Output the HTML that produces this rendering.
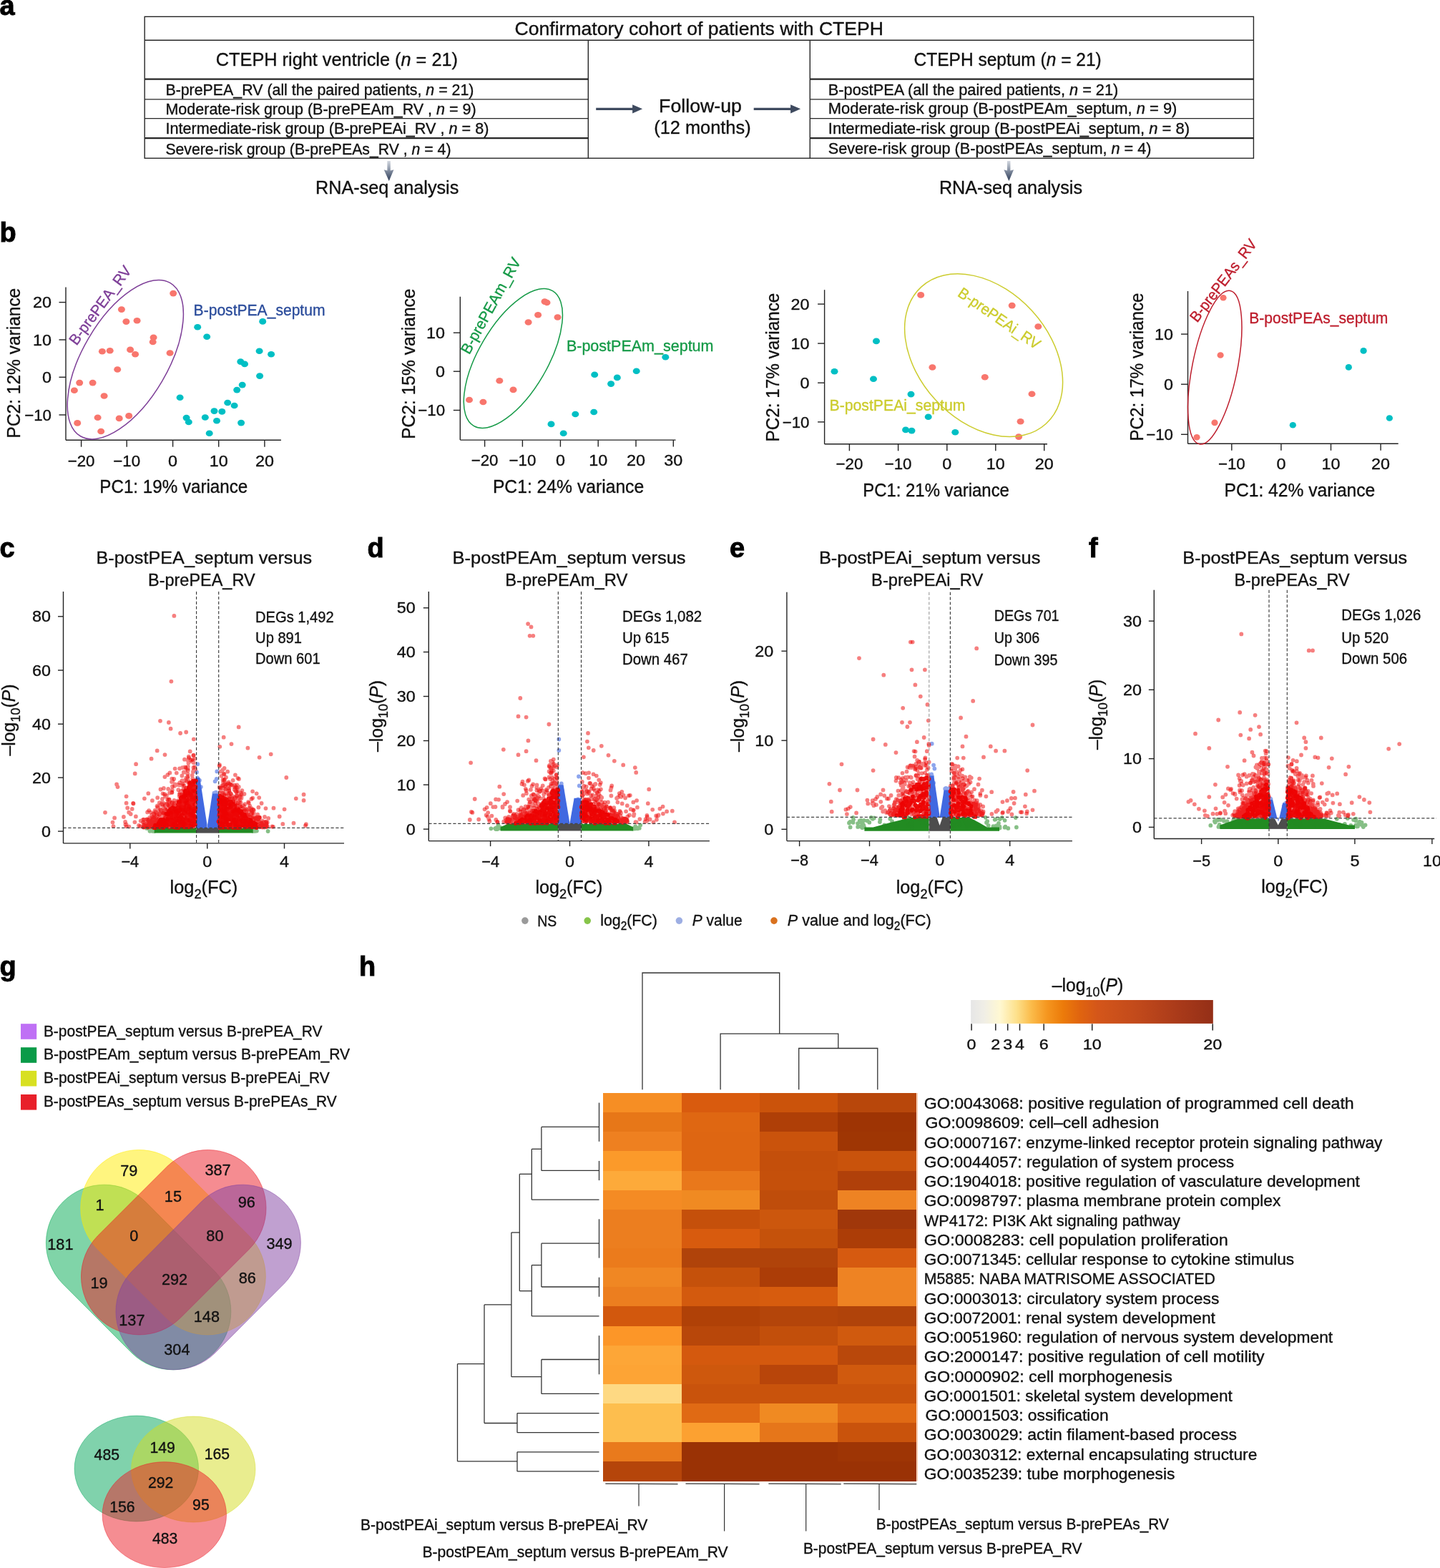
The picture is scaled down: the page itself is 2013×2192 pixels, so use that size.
<!DOCTYPE html><html><head><meta charset="utf-8"><title>Figure</title><style>html,body{margin:0;padding:0;background:#fff;}svg{display:block;}</style></head><body><svg width="2013" height="2192" viewBox="0 0 2013 2192" font-family="'Liberation Sans', Arial, sans-serif" fill="#111"><defs>
<linearGradient id="gd" x1="0" y1="0" x2="0" y2="1"><stop offset="0" stop-color="#d3d8e0"/><stop offset="0.5" stop-color="#7f8a9d"/><stop offset="1" stop-color="#2c3b56"/></linearGradient>
<linearGradient id="gh" x1="0" y1="0" x2="1" y2="0">
<stop offset="0" stop-color="#E6E6E6"/><stop offset="0.055" stop-color="#F0EEE6"/><stop offset="0.12" stop-color="#FFF8D2"/>
<stop offset="0.19" stop-color="#FDE08A"/><stop offset="0.25" stop-color="#FBBB4A"/><stop offset="0.315" stop-color="#F5961F"/>
<stop offset="0.38" stop-color="#EC7B0A"/><stop offset="0.45" stop-color="#E0640F"/><stop offset="0.525" stop-color="#D4561A"/>
<stop offset="0.685" stop-color="#C24A1B"/><stop offset="0.845" stop-color="#AB3B1A"/><stop offset="1" stop-color="#942F17"/>
</linearGradient>
</defs><text x="-0.5" y="21.0" font-size="38.00" fill="#000" font-weight="bold" stroke="#000" stroke-width="0.9">a</text>
<rect x="202.2" y="23.3" width="1550.2" height="197.9" fill="none" stroke="#262626" stroke-width="1.4"/>
<line x1="202.2" y1="56.3" x2="1752.4" y2="56.3" stroke="#262626" stroke-width="1.4"/>
<line x1="822.3" y1="56.3" x2="822.3" y2="221.2" stroke="#262626" stroke-width="1.4"/>
<line x1="1132.3" y1="56.3" x2="1132.3" y2="221.2" stroke="#262626" stroke-width="1.4"/>
<line x1="202.2" y1="110.6" x2="822.3" y2="110.6" stroke="#262626" stroke-width="2.2"/>
<line x1="1132.3" y1="110.6" x2="1752.4" y2="110.6" stroke="#262626" stroke-width="2.2"/>
<line x1="202.2" y1="138.9" x2="822.3" y2="138.9" stroke="#262626" stroke-width="1.3"/>
<line x1="1132.3" y1="138.9" x2="1752.4" y2="138.9" stroke="#262626" stroke-width="1.3"/>
<line x1="202.2" y1="165.6" x2="822.3" y2="165.6" stroke="#262626" stroke-width="1.3"/>
<line x1="1132.3" y1="165.6" x2="1752.4" y2="165.6" stroke="#262626" stroke-width="1.3"/>
<line x1="202.2" y1="193.1" x2="822.3" y2="193.1" stroke="#262626" stroke-width="2.2"/>
<line x1="1132.3" y1="193.1" x2="1752.4" y2="193.1" stroke="#262626" stroke-width="2.2"/>
<text x="719.5" y="48.5" font-size="25.60" stroke="#111" stroke-width="0.35" textLength="515.5" lengthAdjust="spacingAndGlyphs">Confirmatory cohort of patients with CTEPH</text>
<text x="301.8" y="92.0" font-size="25.60" stroke="#111" stroke-width="0.35" textLength="338.2" lengthAdjust="spacingAndGlyphs">CTEPH right ventricle (<tspan font-style="italic">n</tspan> = 21)</text>
<text x="1277.6" y="91.8" font-size="25.60" stroke="#111" stroke-width="0.35" textLength="262.1" lengthAdjust="spacingAndGlyphs">CTEPH septum (<tspan font-style="italic">n</tspan> = 21)</text>
<text x="231.4" y="132.6" font-size="21.70" stroke="#111" stroke-width="0.35" textLength="431.0" lengthAdjust="spacingAndGlyphs">B-prePEA_RV (all the paired patients, <tspan font-style="italic">n</tspan> = 21)</text>
<text x="231.4" y="159.6" font-size="21.70" stroke="#111" stroke-width="0.35" textLength="434.3" lengthAdjust="spacingAndGlyphs">Moderate-risk group (B-prePEAm_RV , <tspan font-style="italic">n</tspan> = 9)</text>
<text x="231.4" y="186.7" font-size="21.70" stroke="#111" stroke-width="0.35" textLength="452.0" lengthAdjust="spacingAndGlyphs">Intermediate-risk group (B-prePEAi_RV , <tspan font-style="italic">n</tspan> = 8)</text>
<text x="231.4" y="215.6" font-size="21.70" stroke="#111" stroke-width="0.35" textLength="399.1" lengthAdjust="spacingAndGlyphs">Severe-risk group (B-prePEAs_RV , <tspan font-style="italic">n</tspan> = 4)</text>
<text x="1157.8" y="132.6" font-size="21.70" stroke="#111" stroke-width="0.35" textLength="405.5" lengthAdjust="spacingAndGlyphs">B-postPEA (all the paired patients, <tspan font-style="italic">n</tspan> = 21)</text>
<text x="1157.8" y="159.4" font-size="21.70" stroke="#111" stroke-width="0.35" textLength="487.6" lengthAdjust="spacingAndGlyphs">Moderate-risk group (B-postPEAm_septum, <tspan font-style="italic">n</tspan> = 9)</text>
<text x="1157.8" y="187.0" font-size="21.70" stroke="#111" stroke-width="0.35" textLength="505.2" lengthAdjust="spacingAndGlyphs">Intermediate-risk group (B-postPEAi_septum, <tspan font-style="italic">n</tspan> = 8)</text>
<text x="1157.8" y="215.4" font-size="21.70" stroke="#111" stroke-width="0.35" textLength="451.6" lengthAdjust="spacingAndGlyphs">Severe-risk group (B-postPEAs_septum, <tspan font-style="italic">n</tspan> = 4)</text>
<text x="921.1" y="157.3" font-size="25.60" stroke="#111" stroke-width="0.35" textLength="115.8" lengthAdjust="spacingAndGlyphs">Follow-up</text>
<text x="914.3" y="186.9" font-size="25.60" stroke="#111" stroke-width="0.35" textLength="135.3" lengthAdjust="spacingAndGlyphs">(12 months)</text>
<path d="M833.2 150.7 H884.1 V146.2 L898.1 152.3 L884.1 158.4 V153.9 H833.2 Z" fill="#3e4a5f"/>
<path d="M1053.7 150.7 H1105.1 V146.2 L1119.1 152.3 L1105.1 158.4 V153.9 H1053.7 Z" fill="#3e4a5f"/>
<path d="M541.4 225 H545.8000000000001 V238.5 L550.5 237.3 L543.8000000000001 253 L536.7 237.3 L541.4 238.5 Z" fill="url(#gd)"/>
<path d="M1408.0 225 H1412.4 V238.5 L1417.1000000000001 237.3 L1410.4 253 L1403.3 237.3 L1408.0 238.5 Z" fill="url(#gd)"/>
<text x="441.1" y="270.8" font-size="25.60" stroke="#111" stroke-width="0.35" textLength="200.2" lengthAdjust="spacingAndGlyphs">RNA-seq analysis</text>
<text x="1312.9" y="270.5" font-size="25.60" stroke="#111" stroke-width="0.35" textLength="200.1" lengthAdjust="spacingAndGlyphs">RNA-seq analysis</text>
<text x="-0.5" y="337.5" font-size="38.00" fill="#000" font-weight="bold" stroke="#000" stroke-width="0.9">b</text>
<line x1="92.0" y1="401.5" x2="92.0" y2="615.2" stroke="#222" stroke-width="1.4"/>
<line x1="92.0" y1="615.2" x2="392.9" y2="615.2" stroke="#222" stroke-width="1.4"/>
<line x1="82.5" y1="422.6" x2="92.0" y2="422.6" stroke="#222" stroke-width="1.4"/>
<text x="72.0" y="430.2" font-size="22.00" text-anchor="end" stroke="#111" stroke-width="0.35" textLength="26.0" lengthAdjust="spacingAndGlyphs">20</text>
<line x1="82.5" y1="475.0" x2="92.0" y2="475.0" stroke="#222" stroke-width="1.4"/>
<text x="72.0" y="482.6" font-size="22.00" text-anchor="end" stroke="#111" stroke-width="0.35" textLength="26.0" lengthAdjust="spacingAndGlyphs">10</text>
<line x1="82.5" y1="527.3" x2="92.0" y2="527.3" stroke="#222" stroke-width="1.4"/>
<text x="72.0" y="534.9" font-size="22.00" text-anchor="end" stroke="#111" stroke-width="0.35" textLength="13.0" lengthAdjust="spacingAndGlyphs">0</text>
<line x1="82.5" y1="580.0" x2="92.0" y2="580.0" stroke="#222" stroke-width="1.4"/>
<text x="72.0" y="587.6" font-size="22.00" text-anchor="end" stroke="#111" stroke-width="0.35" textLength="37.8" lengthAdjust="spacingAndGlyphs">−10</text>
<line x1="113.6" y1="615.2" x2="113.6" y2="624.7" stroke="#222" stroke-width="1.4"/>
<text x="113.6" y="651.7" font-size="22.00" text-anchor="middle" stroke="#111" stroke-width="0.35" textLength="37.8" lengthAdjust="spacingAndGlyphs">−20</text>
<line x1="177.2" y1="615.2" x2="177.2" y2="624.7" stroke="#222" stroke-width="1.4"/>
<text x="177.2" y="651.7" font-size="22.00" text-anchor="middle" stroke="#111" stroke-width="0.35" textLength="37.8" lengthAdjust="spacingAndGlyphs">−10</text>
<line x1="241.6" y1="615.2" x2="241.6" y2="624.7" stroke="#222" stroke-width="1.4"/>
<text x="241.6" y="651.7" font-size="22.00" text-anchor="middle" stroke="#111" stroke-width="0.35" textLength="13.0" lengthAdjust="spacingAndGlyphs">0</text>
<line x1="305.7" y1="615.2" x2="305.7" y2="624.7" stroke="#222" stroke-width="1.4"/>
<text x="305.7" y="651.7" font-size="22.00" text-anchor="middle" stroke="#111" stroke-width="0.35" textLength="26.0" lengthAdjust="spacingAndGlyphs">10</text>
<line x1="369.9" y1="615.2" x2="369.9" y2="624.7" stroke="#222" stroke-width="1.4"/>
<text x="369.9" y="651.7" font-size="22.00" text-anchor="middle" stroke="#111" stroke-width="0.35" textLength="26.0" lengthAdjust="spacingAndGlyphs">20</text>
<text x="28.4" y="507.6" font-size="25.50" text-anchor="middle" stroke="#111" stroke-width="0.35" transform="rotate(-90.00 28.4 507.6)" textLength="209.7" lengthAdjust="spacingAndGlyphs">PC2: 12% variance</text>
<text x="139.3" y="688.9" font-size="25.50" stroke="#111" stroke-width="0.35" textLength="207.0" lengthAdjust="spacingAndGlyphs">PC1: 19% variance</text>
<g fill="#F8766D"><ellipse cx="242.2" cy="410.1" rx="5.0" ry="4.3"/><ellipse cx="169.9" cy="432.6" rx="5.0" ry="4.3"/><ellipse cx="176.4" cy="449.6" rx="5.0" ry="4.3"/><ellipse cx="191.6" cy="448.3" rx="5.0" ry="4.3"/><ellipse cx="214.6" cy="471.8" rx="5.0" ry="4.3"/><ellipse cx="213.7" cy="478.0" rx="5.0" ry="4.3"/><ellipse cx="142.9" cy="491.3" rx="5.0" ry="4.3"/><ellipse cx="153.7" cy="490.2" rx="5.0" ry="4.3"/><ellipse cx="182.1" cy="488.9" rx="5.0" ry="4.3"/><ellipse cx="189.1" cy="495.3" rx="5.0" ry="4.3"/><ellipse cx="237.6" cy="493.5" rx="5.0" ry="4.3"/><ellipse cx="164.2" cy="516.5" rx="5.0" ry="4.3"/><ellipse cx="111.2" cy="535.1" rx="5.0" ry="4.3"/><ellipse cx="129.6" cy="535.1" rx="5.0" ry="4.3"/><ellipse cx="103.9" cy="545.7" rx="5.0" ry="4.3"/><ellipse cx="145.6" cy="553.5" rx="5.0" ry="4.3"/><ellipse cx="136.6" cy="583.8" rx="5.0" ry="4.3"/><ellipse cx="166.7" cy="584.9" rx="5.0" ry="4.3"/><ellipse cx="180.2" cy="581.4" rx="5.0" ry="4.3"/><ellipse cx="108.2" cy="591.4" rx="5.0" ry="4.3"/><ellipse cx="141.2" cy="603.0" rx="5.0" ry="4.3"/></g>
<g fill="#00BFC4"><ellipse cx="367.2" cy="449.4" rx="5.0" ry="4.3"/><ellipse cx="276.2" cy="457.2" rx="5.0" ry="4.3"/><ellipse cx="289.2" cy="470.7" rx="5.0" ry="4.3"/><ellipse cx="362.6" cy="490.7" rx="5.0" ry="4.3"/><ellipse cx="379.1" cy="495.3" rx="5.0" ry="4.3"/><ellipse cx="336.3" cy="505.6" rx="5.0" ry="4.3"/><ellipse cx="342.0" cy="508.9" rx="5.0" ry="4.3"/><ellipse cx="363.1" cy="525.6" rx="5.0" ry="4.3"/><ellipse cx="338.7" cy="538.1" rx="5.0" ry="4.3"/><ellipse cx="331.2" cy="545.1" rx="5.0" ry="4.3"/><ellipse cx="251.6" cy="555.7" rx="5.0" ry="4.3"/><ellipse cx="318.2" cy="563.0" rx="5.0" ry="4.3"/><ellipse cx="327.6" cy="567.0" rx="5.0" ry="4.3"/><ellipse cx="299.5" cy="574.6" rx="5.0" ry="4.3"/><ellipse cx="310.3" cy="575.4" rx="5.0" ry="4.3"/><ellipse cx="260.6" cy="584.1" rx="5.0" ry="4.3"/><ellipse cx="263.8" cy="590.0" rx="5.0" ry="4.3"/><ellipse cx="286.8" cy="583.5" rx="5.0" ry="4.3"/><ellipse cx="303.0" cy="588.2" rx="5.0" ry="4.3"/><ellipse cx="337.1" cy="591.1" rx="5.0" ry="4.3"/><ellipse cx="292.7" cy="605.7" rx="5.0" ry="4.3"/></g>
<ellipse cx="175.3" cy="502.7" rx="124.1" ry="59.5" transform="rotate(-59.6 175.3 502.7)" fill="none" stroke="#7E3F98" stroke-width="1.5"/>
<text x="106.9" y="483.8" font-size="21.30" fill="#7E3F98" stroke="#7E3F98" stroke-width="0.35" textLength="131.0" lengthAdjust="spacingAndGlyphs" transform="rotate(-53.60 106.9 483.8)">B-prePEA_RV</text>
<text x="270.6" y="440.7" font-size="21.30" fill="#2B4C9B" stroke="#2B4C9B" stroke-width="0.35" textLength="183.9" lengthAdjust="spacingAndGlyphs">B-postPEA_septum</text>
<line x1="643.3" y1="414.7" x2="643.3" y2="615.1" stroke="#222" stroke-width="1.4"/>
<line x1="643.3" y1="615.1" x2="944.5" y2="615.1" stroke="#222" stroke-width="1.4"/>
<line x1="633.8" y1="465.2" x2="643.3" y2="465.2" stroke="#222" stroke-width="1.4"/>
<text x="622.1" y="472.8" font-size="22.00" text-anchor="end" stroke="#111" stroke-width="0.35" textLength="26.0" lengthAdjust="spacingAndGlyphs">10</text>
<line x1="633.8" y1="519.2" x2="643.3" y2="519.2" stroke="#222" stroke-width="1.4"/>
<text x="622.1" y="526.8" font-size="22.00" text-anchor="end" stroke="#111" stroke-width="0.35" textLength="13.0" lengthAdjust="spacingAndGlyphs">0</text>
<line x1="633.8" y1="573.5" x2="643.3" y2="573.5" stroke="#222" stroke-width="1.4"/>
<text x="622.1" y="581.1" font-size="22.00" text-anchor="end" stroke="#111" stroke-width="0.35" textLength="37.8" lengthAdjust="spacingAndGlyphs">−10</text>
<line x1="677.6" y1="615.1" x2="677.6" y2="624.6" stroke="#222" stroke-width="1.4"/>
<text x="677.6" y="651.1" font-size="22.00" text-anchor="middle" stroke="#111" stroke-width="0.35" textLength="37.8" lengthAdjust="spacingAndGlyphs">−20</text>
<line x1="730.4" y1="615.1" x2="730.4" y2="624.6" stroke="#222" stroke-width="1.4"/>
<text x="730.4" y="651.1" font-size="22.00" text-anchor="middle" stroke="#111" stroke-width="0.35" textLength="37.8" lengthAdjust="spacingAndGlyphs">−10</text>
<line x1="783.4" y1="615.1" x2="783.4" y2="624.6" stroke="#222" stroke-width="1.4"/>
<text x="783.4" y="651.1" font-size="22.00" text-anchor="middle" stroke="#111" stroke-width="0.35" textLength="13.0" lengthAdjust="spacingAndGlyphs">0</text>
<line x1="836.2" y1="615.1" x2="836.2" y2="624.6" stroke="#222" stroke-width="1.4"/>
<text x="836.2" y="651.1" font-size="22.00" text-anchor="middle" stroke="#111" stroke-width="0.35" textLength="26.0" lengthAdjust="spacingAndGlyphs">10</text>
<line x1="889.0" y1="615.1" x2="889.0" y2="624.6" stroke="#222" stroke-width="1.4"/>
<text x="889.0" y="651.1" font-size="22.00" text-anchor="middle" stroke="#111" stroke-width="0.35" textLength="26.0" lengthAdjust="spacingAndGlyphs">20</text>
<line x1="941.3" y1="615.1" x2="941.3" y2="624.6" stroke="#222" stroke-width="1.4"/>
<text x="941.3" y="651.1" font-size="22.00" text-anchor="middle" stroke="#111" stroke-width="0.35" textLength="26.0" lengthAdjust="spacingAndGlyphs">30</text>
<text x="579.6" y="508.6" font-size="25.50" text-anchor="middle" stroke="#111" stroke-width="0.35" transform="rotate(-90.00 579.6 508.6)" textLength="210.3" lengthAdjust="spacingAndGlyphs">PC2: 15% variance</text>
<text x="688.9" y="688.6" font-size="25.50" stroke="#111" stroke-width="0.35" textLength="211.3" lengthAdjust="spacingAndGlyphs">PC1: 24% variance</text>
<g fill="#F8766D"><ellipse cx="761.5" cy="421.6" rx="5.0" ry="4.3"/><ellipse cx="764.5" cy="423.0" rx="5.0" ry="4.3"/><ellipse cx="752.1" cy="440.3" rx="5.0" ry="4.3"/><ellipse cx="779.5" cy="443.5" rx="5.0" ry="4.3"/><ellipse cx="738.6" cy="450.5" rx="5.0" ry="4.3"/><ellipse cx="698.3" cy="532.2" rx="5.0" ry="4.3"/><ellipse cx="717.5" cy="544.9" rx="5.0" ry="4.3"/><ellipse cx="656.0" cy="559.0" rx="5.0" ry="4.3"/><ellipse cx="675.4" cy="562.0" rx="5.0" ry="4.3"/></g>
<g fill="#00BFC4"><ellipse cx="930.3" cy="499.3" rx="5.0" ry="4.3"/><ellipse cx="889.7" cy="518.7" rx="5.0" ry="4.3"/><ellipse cx="831.2" cy="523.7" rx="5.0" ry="4.3"/><ellipse cx="862.8" cy="527.9" rx="5.0" ry="4.3"/><ellipse cx="854.1" cy="536.6" rx="5.0" ry="4.3"/><ellipse cx="830.2" cy="576.0" rx="5.0" ry="4.3"/><ellipse cx="804.3" cy="579.0" rx="5.0" ry="4.3"/><ellipse cx="770.5" cy="592.9" rx="5.0" ry="4.3"/><ellipse cx="787.7" cy="605.8" rx="5.0" ry="4.3"/></g>
<ellipse cx="717.35" cy="500.95" rx="109.3" ry="48.2" transform="rotate(-59.7 717.35 500.95)" fill="none" stroke="#159A47" stroke-width="1.5"/>
<text x="656.0" y="496.5" font-size="21.30" fill="#159A47" stroke="#159A47" stroke-width="0.35" textLength="150.0" lengthAdjust="spacingAndGlyphs" transform="rotate(-61.00 656.0 496.5)">B-prePEAm_RV</text>
<text x="791.9" y="491.1" font-size="21.30" fill="#159A47" stroke="#159A47" stroke-width="0.35" textLength="205.6" lengthAdjust="spacingAndGlyphs">B-postPEAm_septum</text>
<line x1="1152.6" y1="405.2" x2="1152.6" y2="620.8" stroke="#222" stroke-width="1.4"/>
<line x1="1152.6" y1="620.8" x2="1464.0" y2="620.8" stroke="#222" stroke-width="1.4"/>
<line x1="1143.1" y1="425.1" x2="1152.6" y2="425.1" stroke="#222" stroke-width="1.4"/>
<text x="1131.5" y="432.7" font-size="22.00" text-anchor="end" stroke="#111" stroke-width="0.35" textLength="26.0" lengthAdjust="spacingAndGlyphs">20</text>
<line x1="1143.1" y1="480.1" x2="1152.6" y2="480.1" stroke="#222" stroke-width="1.4"/>
<text x="1131.5" y="487.7" font-size="22.00" text-anchor="end" stroke="#111" stroke-width="0.35" textLength="26.0" lengthAdjust="spacingAndGlyphs">10</text>
<line x1="1143.1" y1="535.2" x2="1152.6" y2="535.2" stroke="#222" stroke-width="1.4"/>
<text x="1131.5" y="542.8" font-size="22.00" text-anchor="end" stroke="#111" stroke-width="0.35" textLength="13.0" lengthAdjust="spacingAndGlyphs">0</text>
<line x1="1143.1" y1="589.9" x2="1152.6" y2="589.9" stroke="#222" stroke-width="1.4"/>
<text x="1131.5" y="597.5" font-size="22.00" text-anchor="end" stroke="#111" stroke-width="0.35" textLength="37.8" lengthAdjust="spacingAndGlyphs">−10</text>
<line x1="1187.4" y1="620.8" x2="1187.4" y2="630.3" stroke="#222" stroke-width="1.4"/>
<text x="1187.4" y="656.1" font-size="22.00" text-anchor="middle" stroke="#111" stroke-width="0.35" textLength="37.8" lengthAdjust="spacingAndGlyphs">−20</text>
<line x1="1255.6" y1="620.8" x2="1255.6" y2="630.3" stroke="#222" stroke-width="1.4"/>
<text x="1255.6" y="656.1" font-size="22.00" text-anchor="middle" stroke="#111" stroke-width="0.35" textLength="37.8" lengthAdjust="spacingAndGlyphs">−10</text>
<line x1="1323.8" y1="620.8" x2="1323.8" y2="630.3" stroke="#222" stroke-width="1.4"/>
<text x="1323.8" y="656.1" font-size="22.00" text-anchor="middle" stroke="#111" stroke-width="0.35" textLength="13.0" lengthAdjust="spacingAndGlyphs">0</text>
<line x1="1391.8" y1="620.8" x2="1391.8" y2="630.3" stroke="#222" stroke-width="1.4"/>
<text x="1391.8" y="656.1" font-size="22.00" text-anchor="middle" stroke="#111" stroke-width="0.35" textLength="26.0" lengthAdjust="spacingAndGlyphs">10</text>
<line x1="1459.7" y1="620.8" x2="1459.7" y2="630.3" stroke="#222" stroke-width="1.4"/>
<text x="1459.7" y="656.1" font-size="22.00" text-anchor="middle" stroke="#111" stroke-width="0.35" textLength="26.0" lengthAdjust="spacingAndGlyphs">20</text>
<text x="1088.6" y="513.6" font-size="25.50" text-anchor="middle" stroke="#111" stroke-width="0.35" transform="rotate(-90.00 1088.6 513.6)" textLength="207.8" lengthAdjust="spacingAndGlyphs">PC2: 17% variance</text>
<text x="1206.3" y="694.1" font-size="25.50" stroke="#111" stroke-width="0.35" textLength="204.6" lengthAdjust="spacingAndGlyphs">PC1: 21% variance</text>
<g fill="#F8766D"><ellipse cx="1287.2" cy="412.4" rx="5.0" ry="4.3"/><ellipse cx="1414.7" cy="427.1" rx="5.0" ry="4.3"/><ellipse cx="1451.3" cy="456.5" rx="5.0" ry="4.3"/><ellipse cx="1303.4" cy="513.5" rx="5.0" ry="4.3"/><ellipse cx="1376.8" cy="527.2" rx="5.0" ry="4.3"/><ellipse cx="1442.5" cy="550.8" rx="5.0" ry="4.3"/><ellipse cx="1426.6" cy="589.2" rx="5.0" ry="4.3"/><ellipse cx="1424.1" cy="610.6" rx="5.0" ry="4.3"/></g>
<g fill="#00BFC4"><ellipse cx="1225.0" cy="476.9" rx="5.0" ry="4.3"/><ellipse cx="1166.5" cy="519.2" rx="5.0" ry="4.3"/><ellipse cx="1221.0" cy="529.7" rx="5.0" ry="4.3"/><ellipse cx="1273.5" cy="551.1" rx="5.0" ry="4.3"/><ellipse cx="1297.7" cy="582.7" rx="5.0" ry="4.3"/><ellipse cx="1266.1" cy="600.9" rx="5.0" ry="4.3"/><ellipse cx="1274.5" cy="602.1" rx="5.0" ry="4.3"/><ellipse cx="1335.3" cy="604.3" rx="5.0" ry="4.3"/></g>
<ellipse cx="1375.1" cy="496.7" rx="129.4" ry="91.8" transform="rotate(47.6 1375.1 496.7)" fill="none" stroke="#CCCC2E" stroke-width="1.5"/>
<text x="1337.5" y="413.1" font-size="21.30" fill="#CCCC2E" stroke="#CCCC2E" stroke-width="0.35" textLength="134.4" lengthAdjust="spacingAndGlyphs" transform="rotate(34.50 1337.5 413.1)">B-prePEAi_RV</text>
<text x="1159.5" y="574.0" font-size="21.30" fill="#CCCC2E" stroke="#CCCC2E" stroke-width="0.35" textLength="189.9" lengthAdjust="spacingAndGlyphs">B-postPEAi_septum</text>
<line x1="1660.5" y1="407.0" x2="1660.5" y2="620.3" stroke="#222" stroke-width="1.4"/>
<line x1="1660.5" y1="620.3" x2="1954.7" y2="620.3" stroke="#222" stroke-width="1.4"/>
<line x1="1651.0" y1="467.1" x2="1660.5" y2="467.1" stroke="#222" stroke-width="1.4"/>
<text x="1640.0" y="474.7" font-size="22.00" text-anchor="end" stroke="#111" stroke-width="0.35" textLength="26.0" lengthAdjust="spacingAndGlyphs">10</text>
<line x1="1651.0" y1="537.2" x2="1660.5" y2="537.2" stroke="#222" stroke-width="1.4"/>
<text x="1640.0" y="544.8" font-size="22.00" text-anchor="end" stroke="#111" stroke-width="0.35" textLength="13.0" lengthAdjust="spacingAndGlyphs">0</text>
<line x1="1651.0" y1="607.3" x2="1660.5" y2="607.3" stroke="#222" stroke-width="1.4"/>
<text x="1640.0" y="614.9" font-size="22.00" text-anchor="end" stroke="#111" stroke-width="0.35" textLength="37.8" lengthAdjust="spacingAndGlyphs">−10</text>
<line x1="1721.8" y1="620.3" x2="1721.8" y2="629.8" stroke="#222" stroke-width="1.4"/>
<text x="1721.8" y="656.3" font-size="22.00" text-anchor="middle" stroke="#111" stroke-width="0.35" textLength="37.8" lengthAdjust="spacingAndGlyphs">−10</text>
<line x1="1790.9" y1="620.3" x2="1790.9" y2="629.8" stroke="#222" stroke-width="1.4"/>
<text x="1790.9" y="656.3" font-size="22.00" text-anchor="middle" stroke="#111" stroke-width="0.35" textLength="13.0" lengthAdjust="spacingAndGlyphs">0</text>
<line x1="1860.5" y1="620.3" x2="1860.5" y2="629.8" stroke="#222" stroke-width="1.4"/>
<text x="1860.5" y="656.3" font-size="22.00" text-anchor="middle" stroke="#111" stroke-width="0.35" textLength="26.0" lengthAdjust="spacingAndGlyphs">10</text>
<line x1="1930.1" y1="620.3" x2="1930.1" y2="629.8" stroke="#222" stroke-width="1.4"/>
<text x="1930.1" y="656.3" font-size="22.00" text-anchor="middle" stroke="#111" stroke-width="0.35" textLength="26.0" lengthAdjust="spacingAndGlyphs">20</text>
<text x="1598.0" y="513.0" font-size="25.50" text-anchor="middle" stroke="#111" stroke-width="0.35" transform="rotate(-90.00 1598.0 513.0)" textLength="207.1" lengthAdjust="spacingAndGlyphs">PC2: 17% variance</text>
<text x="1711.5" y="694.4" font-size="25.50" stroke="#111" stroke-width="0.35" textLength="210.8" lengthAdjust="spacingAndGlyphs">PC1: 42% variance</text>
<g fill="#F8766D"><ellipse cx="1710.0" cy="416.3" rx="4.6" ry="4.3"/><ellipse cx="1706.1" cy="496.5" rx="4.6" ry="4.3"/><ellipse cx="1698.0" cy="590.9" rx="4.6" ry="4.3"/><ellipse cx="1673.0" cy="611.2" rx="4.6" ry="4.3"/></g>
<g fill="#00BFC4"><ellipse cx="1906.1" cy="490.4" rx="4.6" ry="4.3"/><ellipse cx="1885.3" cy="513.4" rx="4.6" ry="4.3"/><ellipse cx="1807.3" cy="594.3" rx="4.6" ry="4.3"/><ellipse cx="1942.4" cy="584.5" rx="4.6" ry="4.3"/></g>
<ellipse cx="1698.25" cy="513.65" rx="109.3" ry="31.5" transform="rotate(-78.6 1698.25 513.65)" fill="none" stroke="#BE1E2D" stroke-width="1.5"/>
<text x="1673.4" y="451.8" font-size="21.30" fill="#BE1E2D" stroke="#BE1E2D" stroke-width="0.35" textLength="139.3" lengthAdjust="spacingAndGlyphs" transform="rotate(-52.60 1673.4 451.8)">B-prePEAs_RV</text>
<text x="1746.3" y="452.4" font-size="21.30" fill="#BE1E2D" stroke="#BE1E2D" stroke-width="0.35" textLength="194.1" lengthAdjust="spacingAndGlyphs">B-postPEAs_septum</text>
<text x="-0.5" y="779.0" font-size="38.00" fill="#000" font-weight="bold" stroke="#000" stroke-width="0.9">c</text>
<text x="513.5" y="779.0" font-size="38.00" fill="#000" font-weight="bold" stroke="#000" stroke-width="0.9">d</text>
<text x="1020.0" y="779.0" font-size="38.00" fill="#000" font-weight="bold" stroke="#000" stroke-width="0.9">e</text>
<text x="1522.0" y="779.0" font-size="38.00" fill="#000" font-weight="bold" stroke="#000" stroke-width="0.9">f</text>
<text x="134.5" y="788.2" font-size="24.80" stroke="#111" stroke-width="0.35" textLength="301.6" lengthAdjust="spacingAndGlyphs">B-postPEA_septum versus</text>
<text x="207.0" y="819.0" font-size="24.80" stroke="#111" stroke-width="0.35" textLength="149.6" lengthAdjust="spacingAndGlyphs">B-prePEA_RV</text>
<path d="M274.6 1157.9 L305.7 1157.9 L305.7 1164.6 L274.6 1164.6Z" fill="#4D4D4D"/>
<path d="M215.7 1164.6 L215.7 1159.2 L215.7 1157.9 L274.6 1157.9 L274.6 1164.6Z" fill="#228B22"/>
<path d="M305.7 1164.6 L305.7 1157.9 L353.7 1157.9 L353.7 1159.2 L353.7 1164.6Z" fill="#228B22"/>
<path d="M213.7 1161.9h0M357.9 1161.0h0M215.4 1162.0h0M214.4 1161.0h0M205.2 1157.9h0M356.9 1161.8h0M356.3 1160.9h0M209.4 1161.8h0M354.2 1161.9h0M209.7 1161.8h0M358.9 1161.6h0M212.6 1161.0h0M357.5 1161.1h0M374.6 1162.0h0" stroke="#228B22" stroke-opacity="0.55" stroke-width="5.8" stroke-linecap="round" fill="none"/>
<path d="M274.6 1157.9 L274.6 1087.0 L279.3 1087.0 L289.5 1153.1 L289.5 1157.9Z" fill="#4169E1"/>
<path d="M305.7 1157.9 L305.7 1109.5 L296.8 1109.5 L290.1 1153.1 L290.1 1157.9Z" fill="#4169E1"/>
<path d="M276.3 1068.2h0M275.0 1079.5h0M303.3 1078.4h0M302.7 1088.9h0M279.0 1090.8h0M300.6 1092.3h0M280.9 1100.1h0M301.9 1107.7h0M276.7 1117.0h0M276.9 1104.5h0M275.4 1089.9h0M274.9 1104.4h0M274.8 1090.7h0M277.5 1111.2h0M276.6 1098.8h0M276.8 1118.7h0M275.4 1094.7h0M274.9 1091.4h0M276.0 1087.5h0M275.1 1112.7h0M276.5 1093.5h0M275.5 1103.7h0M303.6 1120.7h0M302.2 1130.1h0M303.0 1132.0h0M302.7 1130.5h0M304.6 1129.2h0M304.3 1116.3h0M301.2 1132.2h0M301.4 1131.9h0M304.7 1113.3h0M299.4 1108.6h0M299.8 1132.2h0M300.0 1130.8h0M303.0 1115.1h0M301.1 1132.2h0" stroke="#4169E1" stroke-opacity="0.6" stroke-width="5.8" stroke-linecap="round" fill="none"/>
<path d="M239.1 1136.5h0M243.8 1130.5h0M265.0 1117.6h0M263.1 1145.6h0M215.4 1157.2h0M227.6 1156.5h0M264.5 1146.5h0M262.9 1109.2h0M236.1 1133.7h0M231.1 1149.8h0M268.1 1094.9h0M254.6 1147.2h0M264.4 1126.9h0M234.7 1138.7h0M222.9 1151.1h0M248.7 1128.4h0M269.3 1094.2h0M239.6 1140.0h0M238.3 1147.4h0M242.6 1133.5h0M261.7 1118.4h0M232.8 1155.0h0M241.1 1136.1h0M245.8 1146.1h0M219.8 1154.8h0M270.3 1113.6h0M246.5 1137.9h0M256.9 1133.1h0M253.4 1149.5h0M240.5 1146.0h0M269.6 1104.8h0M268.8 1104.5h0M240.4 1149.4h0M257.4 1113.0h0M271.3 1134.9h0M249.0 1124.8h0M222.1 1152.7h0M255.5 1120.7h0M229.9 1148.2h0M238.3 1131.4h0M248.5 1133.2h0M269.8 1150.8h0M240.5 1130.0h0M252.3 1145.9h0M273.4 1099.7h0M226.6 1154.0h0M235.9 1151.1h0M236.9 1138.2h0M270.9 1120.9h0M252.2 1142.0h0M239.6 1131.3h0M264.0 1125.5h0M236.5 1141.2h0M257.9 1125.3h0M270.5 1153.1h0M232.3 1137.7h0M256.3 1155.9h0M266.2 1145.3h0M269.7 1125.5h0M257.5 1131.7h0M254.1 1149.1h0M242.0 1132.0h0M259.2 1130.9h0M267.1 1103.4h0M236.3 1144.1h0M254.2 1130.2h0M266.8 1108.8h0M248.7 1144.4h0M261.1 1122.5h0M256.0 1146.8h0M262.9 1108.7h0M267.0 1141.6h0M272.6 1142.6h0M270.9 1150.7h0M258.5 1145.6h0M263.8 1117.1h0M229.3 1147.4h0M260.0 1121.4h0M246.0 1156.9h0M257.7 1150.1h0M240.9 1130.9h0M245.7 1134.5h0M272.9 1091.5h0M234.2 1146.1h0M252.4 1121.9h0M255.2 1131.6h0M261.1 1149.2h0M262.0 1136.2h0M271.9 1119.8h0M271.3 1150.0h0M261.3 1129.4h0M250.1 1144.7h0M253.0 1154.0h0M272.8 1132.4h0M236.1 1134.1h0M267.0 1137.9h0M228.5 1145.9h0M241.3 1156.2h0M273.9 1091.3h0M237.6 1146.2h0M243.3 1138.3h0M273.4 1129.6h0M257.6 1137.4h0M258.8 1122.1h0M255.6 1129.5h0M258.6 1109.0h0M256.9 1148.8h0M246.7 1138.7h0M253.7 1152.3h0M258.1 1124.9h0M269.4 1095.4h0M239.5 1148.9h0M257.1 1137.2h0M237.1 1139.5h0M251.8 1139.4h0M266.0 1120.2h0M249.5 1145.9h0M255.7 1115.8h0M245.7 1140.4h0M254.4 1145.1h0M267.7 1134.4h0M245.5 1142.6h0M268.2 1108.8h0M251.5 1153.1h0M222.6 1149.2h0M254.6 1116.4h0M267.6 1141.4h0M268.0 1116.5h0M266.3 1123.4h0M254.0 1142.8h0M270.7 1133.1h0M269.2 1114.8h0M256.9 1155.8h0M227.5 1151.3h0M265.6 1140.3h0M243.5 1133.0h0M245.4 1144.2h0M239.5 1135.0h0M244.1 1136.0h0M224.6 1147.1h0M239.8 1131.8h0M241.6 1156.0h0M260.5 1120.7h0M254.8 1122.2h0M258.5 1106.5h0M235.0 1151.0h0M217.0 1153.7h0M266.1 1094.1h0M235.9 1146.9h0M250.3 1144.9h0M221.6 1151.1h0M244.3 1132.5h0M228.4 1153.1h0M248.5 1139.4h0M249.0 1157.2h0M262.2 1154.7h0M264.7 1131.4h0M272.6 1105.9h0M246.1 1136.8h0M254.3 1150.9h0M241.5 1132.9h0M267.8 1138.3h0M270.1 1118.1h0M272.9 1152.9h0M250.7 1126.1h0M255.7 1115.9h0M240.8 1130.4h0M245.8 1135.0h0M242.2 1133.5h0M268.2 1146.2h0M267.0 1132.0h0M264.6 1100.5h0M240.6 1149.6h0M251.7 1128.8h0M244.9 1150.9h0M259.2 1107.0h0M249.1 1125.1h0M246.0 1135.0h0M261.9 1155.3h0M228.5 1150.0h0M270.8 1129.0h0M263.0 1138.0h0M255.6 1114.9h0M269.7 1126.1h0M255.1 1149.8h0M265.0 1139.6h0M258.2 1125.0h0M270.6 1131.8h0M261.2 1106.2h0M267.5 1100.4h0M265.4 1095.0h0M236.5 1149.1h0M240.7 1146.3h0M235.9 1139.3h0M236.7 1142.4h0M269.6 1118.9h0M223.8 1150.2h0M264.4 1112.4h0M254.9 1117.8h0M252.9 1115.1h0M263.9 1147.2h0M268.3 1101.4h0M259.5 1109.0h0M257.5 1118.5h0M269.5 1097.1h0M264.9 1150.2h0M271.2 1134.5h0M273.3 1116.2h0M253.8 1132.2h0M249.6 1135.6h0M271.7 1141.7h0M263.3 1156.3h0M254.9 1127.4h0M241.1 1129.2h0M260.6 1141.4h0M237.7 1137.0h0M226.4 1147.7h0M251.4 1151.5h0M232.6 1152.9h0M273.7 1114.4h0M224.5 1145.6h0M273.2 1101.6h0M246.3 1141.8h0M272.5 1141.0h0M265.0 1140.5h0M255.5 1153.9h0M270.0 1150.3h0M259.7 1105.1h0M270.1 1106.1h0M260.0 1145.8h0M245.6 1152.8h0M261.1 1141.1h0M240.3 1151.3h0M256.4 1135.6h0M264.6 1109.6h0M262.1 1106.7h0M260.9 1135.5h0M256.8 1152.5h0M269.7 1092.0h0M238.5 1140.7h0M220.0 1155.2h0M252.9 1155.4h0M268.3 1123.6h0M268.3 1108.0h0M267.7 1111.6h0M227.3 1150.5h0M222.7 1151.1h0M265.6 1145.4h0M270.2 1147.8h0M248.7 1132.7h0M270.0 1131.5h0M238.3 1152.6h0M271.5 1109.0h0M265.0 1137.3h0M262.3 1150.8h0M266.7 1155.9h0M263.9 1101.8h0M257.7 1113.5h0M232.1 1151.0h0M259.6 1130.8h0M270.0 1095.6h0M269.3 1109.5h0M249.1 1140.0h0M264.7 1152.4h0M253.7 1120.7h0M272.7 1131.7h0M237.0 1133.5h0M222.3 1155.6h0M264.5 1104.9h0M234.3 1144.6h0M266.0 1145.2h0M261.9 1132.9h0M251.4 1130.1h0M233.5 1137.2h0M250.5 1121.5h0M256.3 1130.0h0M269.3 1125.2h0M259.0 1148.0h0M265.3 1104.5h0M228.1 1151.6h0M274.0 1117.8h0M242.2 1149.0h0M271.6 1131.5h0M268.9 1152.2h0M222.5 1150.4h0M259.0 1156.4h0M257.3 1115.5h0M236.3 1135.9h0M260.4 1122.8h0M249.0 1147.2h0M257.1 1147.9h0M256.6 1125.1h0M271.4 1147.6h0M269.4 1114.7h0M251.5 1144.3h0M229.6 1148.0h0M244.4 1147.0h0M264.2 1100.2h0M258.2 1134.8h0M252.9 1116.3h0M255.5 1113.8h0M265.2 1124.9h0M235.4 1136.1h0M251.3 1152.5h0M271.9 1151.6h0M253.7 1125.3h0M264.9 1127.8h0M272.0 1107.4h0M265.8 1112.1h0M244.8 1137.4h0M263.2 1154.5h0M264.0 1155.7h0M217.0 1157.1h0M264.8 1135.8h0M261.4 1112.3h0M268.7 1115.2h0M266.2 1136.6h0M271.5 1129.6h0M224.9 1153.6h0M233.2 1153.3h0M270.1 1141.4h0M248.8 1129.1h0M236.2 1136.0h0M249.4 1154.1h0M273.0 1109.7h0M236.8 1145.2h0M268.2 1155.1h0M251.2 1128.3h0M241.8 1137.3h0M240.9 1146.3h0M228.1 1157.0h0M241.5 1149.2h0M249.7 1156.7h0M266.9 1128.2h0M264.6 1105.7h0M264.0 1154.0h0M257.5 1125.8h0M243.0 1140.0h0M242.6 1149.4h0M268.0 1138.3h0M252.9 1126.1h0M254.7 1152.3h0M250.0 1133.0h0M249.8 1121.3h0M256.5 1130.8h0M244.4 1135.2h0M224.0 1146.5h0M250.6 1123.9h0M250.8 1136.8h0M261.5 1106.9h0M239.7 1142.8h0" stroke="#EE0000" stroke-opacity="0.92" stroke-width="5.8" stroke-linecap="round" fill="none"/>
<path d="M311.0 1114.7h0M328.0 1128.9h0M350.5 1146.6h0M325.3 1132.5h0M305.5 1148.5h0M307.4 1157.0h0M324.6 1135.0h0M311.1 1132.9h0M308.0 1148.5h0M332.9 1157.2h0M329.0 1143.5h0M314.1 1138.6h0M318.4 1122.8h0M337.1 1136.5h0M318.0 1130.6h0M314.1 1139.3h0M335.2 1156.8h0M312.1 1143.0h0M340.3 1141.5h0M325.8 1156.9h0M319.9 1144.0h0M313.5 1132.7h0M308.3 1120.6h0M307.6 1117.9h0M324.4 1142.5h0M350.7 1147.1h0M325.1 1148.0h0M314.0 1138.2h0M332.6 1151.9h0M312.5 1120.5h0M343.2 1156.4h0M317.9 1154.2h0M330.3 1134.5h0M317.7 1155.5h0M341.8 1139.0h0M319.4 1135.2h0M329.7 1137.8h0M331.4 1137.9h0M316.5 1148.5h0M346.7 1155.2h0M321.2 1123.2h0M324.5 1127.0h0M332.4 1134.3h0M331.6 1138.2h0M327.8 1154.2h0M329.3 1142.3h0M315.9 1119.7h0M343.9 1143.7h0M340.5 1150.2h0M340.6 1138.8h0M333.3 1151.4h0M351.6 1149.3h0M322.4 1131.4h0M317.2 1156.3h0M312.5 1144.6h0M326.1 1155.4h0M320.8 1120.9h0M337.2 1153.7h0M354.5 1151.0h0M348.1 1149.1h0M313.5 1130.1h0M306.9 1151.0h0M333.8 1146.3h0M315.6 1144.3h0M315.7 1146.8h0M315.7 1117.9h0M321.5 1156.2h0M327.4 1137.9h0M348.8 1148.0h0M320.9 1141.1h0M323.6 1152.4h0M313.7 1122.8h0M320.3 1131.9h0M342.8 1146.4h0M325.3 1130.2h0M350.4 1155.6h0M327.3 1135.7h0M315.0 1138.4h0M341.8 1139.8h0M311.7 1123.2h0M320.7 1155.7h0M353.6 1155.9h0M345.5 1154.8h0M319.8 1120.6h0M336.3 1147.3h0M306.4 1123.7h0M341.7 1154.5h0M317.4 1146.8h0M319.5 1156.9h0M331.8 1142.1h0M341.1 1154.3h0M329.0 1153.8h0M348.5 1152.9h0M316.8 1123.0h0M354.2 1155.0h0M332.7 1147.9h0M312.4 1129.7h0M346.3 1148.3h0M307.2 1139.7h0M310.7 1131.4h0M342.1 1143.7h0M314.1 1117.0h0M316.4 1117.9h0M347.2 1153.2h0M341.0 1143.0h0M310.8 1114.2h0M311.6 1137.3h0M322.8 1155.6h0M320.4 1140.9h0M307.8 1126.7h0M319.4 1144.1h0M315.5 1116.9h0M358.6 1157.1h0M313.1 1146.3h0M324.5 1128.1h0M311.9 1116.5h0M330.4 1148.9h0M308.5 1115.2h0M324.8 1152.1h0M333.6 1132.0h0M330.8 1140.9h0M341.0 1151.2h0M309.0 1153.6h0M328.8 1149.2h0M311.5 1148.6h0M312.1 1156.8h0M338.3 1136.9h0M338.2 1140.5h0M327.9 1131.2h0M316.3 1156.4h0M318.4 1136.4h0M332.8 1135.8h0M319.0 1140.5h0M326.4 1125.3h0M307.3 1130.9h0M337.4 1152.4h0M332.1 1136.2h0M342.7 1146.7h0M325.5 1126.2h0M326.1 1152.2h0M357.4 1152.0h0M324.9 1142.2h0M308.3 1136.9h0M324.7 1124.4h0M310.3 1138.4h0M327.8 1151.2h0M314.5 1120.2h0M356.0 1155.3h0M313.4 1135.5h0M329.1 1157.0h0M320.6 1155.0h0M309.2 1144.1h0M307.2 1156.3h0M332.1 1147.4h0M330.7 1146.3h0M321.7 1132.7h0M307.7 1134.8h0M323.6 1135.7h0M312.4 1144.8h0M313.7 1129.2h0M313.2 1121.1h0M314.2 1118.7h0M349.4 1153.9h0M321.4 1145.0h0M318.6 1123.6h0M326.7 1155.2h0M308.2 1143.5h0M310.6 1143.4h0M312.8 1116.2h0M308.7 1123.2h0M333.7 1152.5h0M334.7 1146.0h0M318.8 1155.7h0M340.6 1144.6h0M356.0 1153.5h0M323.5 1122.9h0M347.9 1145.6h0M311.6 1136.2h0M344.4 1152.3h0M328.8 1134.4h0M325.9 1125.1h0M315.4 1155.8h0M323.4 1129.4h0M316.9 1148.4h0M307.9 1131.7h0M318.6 1131.9h0M339.5 1143.4h0M325.8 1124.0h0M320.2 1136.7h0M318.1 1152.5h0M306.1 1118.3h0M333.4 1143.7h0M311.7 1125.4h0M316.7 1117.5h0M322.8 1152.8h0M330.2 1143.8h0M310.1 1144.0h0M314.4 1121.7h0M330.9 1148.3h0M326.8 1141.2h0M347.4 1147.7h0M318.3 1134.5h0M309.3 1133.8h0M307.4 1112.6h0M311.5 1153.3h0M310.7 1133.1h0M331.6 1133.0h0M331.9 1134.4h0M328.5 1126.6h0M332.1 1136.5h0M342.7 1141.3h0M337.3 1134.2h0M333.3 1133.4h0M326.2 1144.6h0M335.3 1148.7h0M312.9 1150.1h0M328.4 1151.1h0M328.5 1131.2h0M348.3 1155.8h0M316.0 1124.3h0M306.8 1136.9h0M343.1 1151.4h0M330.0 1154.0h0M337.9 1150.0h0M320.0 1133.7h0M309.0 1130.6h0M320.8 1141.4h0M324.0 1135.1h0M314.6 1127.4h0M333.7 1151.7h0M308.4 1155.8h0M349.0 1146.8h0M342.2 1152.3h0M321.3 1126.1h0M308.4 1145.3h0M350.9 1156.1h0M326.5 1145.1h0M345.6 1154.6h0M340.0 1139.3h0M354.5 1150.2h0M343.5 1151.1h0M321.9 1131.9h0M309.8 1137.4h0M339.7 1142.3h0M322.8 1120.8h0M347.6 1151.8h0M323.7 1140.7h0M311.0 1147.3h0M341.0 1140.2h0" stroke="#EE0000" stroke-opacity="0.92" stroke-width="5.8" stroke-linecap="round" fill="none"/>
<path d="M231.0 1143.1h0M262.4 1062.6h0M359.2 1147.4h0M271.0 1117.3h0M270.8 1033.3h0M355.7 1145.9h0M242.8 1152.0h0M271.5 1152.5h0M236.8 1156.4h0M258.6 1112.7h0M342.7 1142.1h0M326.7 1116.7h0M253.9 1141.7h0M424.6 1110.7h0M249.6 1148.8h0M246.2 1146.8h0M206.3 1154.7h0M362.6 1058.8h0M228.5 1145.1h0M273.3 1115.4h0M261.8 1118.0h0M255.5 1145.5h0M344.9 1152.3h0M241.3 1133.8h0M250.2 1149.4h0M234.4 1146.6h0M233.9 1130.9h0M340.0 1138.2h0M227.6 1109.4h0M267.9 1142.7h0M319.6 1129.2h0M240.5 1121.9h0M318.2 1078.7h0M227.8 1136.6h0M326.8 1114.7h0M365.4 1148.1h0M366.1 1153.8h0M270.4 1105.3h0M341.9 1129.4h0M338.3 1134.2h0M207.6 1155.0h0M245.9 1097.2h0M331.4 1132.8h0M253.4 1105.9h0M255.1 1141.3h0M207.2 1156.2h0M338.4 1105.1h0M309.5 1119.8h0M244.2 1124.1h0M176.6 1155.3h0M350.8 1147.8h0M355.3 1151.5h0M337.6 1143.6h0M310.6 1142.2h0M164.5 1100.1h0M235.3 1135.2h0M218.5 1144.9h0M330.3 1100.8h0M335.4 1134.4h0M244.6 1096.3h0M307.7 1137.8h0M215.5 1151.3h0M307.0 1145.6h0M314.3 1148.5h0M306.5 1144.9h0M256.3 1148.5h0M313.1 1115.6h0M317.3 1118.5h0M306.8 1152.2h0M260.2 1023.5h0M331.3 1097.3h0M213.9 1142.4h0M349.7 1138.6h0M270.8 1066.3h0M344.5 1144.9h0M254.8 1155.2h0M267.3 1140.8h0M189.9 1141.4h0M258.1 1150.9h0M322.8 1097.5h0M311.4 1141.5h0M320.3 1105.1h0M366.5 1147.4h0M270.3 1155.7h0M312.9 1081.7h0M264.9 1130.8h0M316.9 1144.7h0M343.6 1130.7h0M253.0 1127.7h0M364.0 1153.9h0M311.5 1108.6h0M258.0 1091.1h0M309.1 1138.3h0M160.1 1143.4h0M267.1 1153.5h0M339.4 1145.4h0M210.0 1145.9h0M335.3 1143.5h0M319.4 1146.9h0M365.2 1154.9h0M262.1 1074.5h0M163.1 1096.4h0M246.9 1135.5h0M347.1 1121.1h0M333.3 1130.9h0M218.9 1138.6h0M332.7 1120.1h0M340.3 1143.8h0M242.1 1135.0h0M372.0 1155.8h0M219.9 1141.0h0M317.5 1096.6h0M254.5 1129.8h0M250.7 1097.6h0M311.6 1090.0h0M244.9 1137.6h0M200.0 1149.7h0M269.6 1150.9h0M206.1 1155.4h0M337.5 1144.4h0M232.5 1151.8h0M244.7 1140.3h0M307.3 1043.8h0M246.2 1145.0h0M347.4 1148.7h0M314.0 1141.7h0M355.3 1156.2h0M267.2 1138.7h0M334.6 1121.9h0M307.4 1154.8h0M340.6 1126.4h0M321.0 1107.1h0M259.0 1079.5h0M368.3 1156.2h0M247.6 1135.4h0M344.7 1141.5h0M204.5 1155.5h0M372.1 1155.0h0M369.7 1151.9h0M252.1 1025.0h0M200.1 1156.0h0M313.7 1152.6h0M354.6 1152.6h0M315.3 1103.3h0M210.4 1148.7h0M413.8 1116.3h0M316.1 1121.3h0M217.1 1148.9h0M345.3 1139.5h0M350.0 1154.8h0M231.8 1150.1h0M355.3 1144.1h0M312.0 1098.0h0M255.3 1105.6h0M200.4 1149.9h0M267.4 1152.1h0M315.8 1112.2h0M230.6 1126.4h0M208.7 1152.4h0M333.2 1155.9h0M222.6 1152.0h0M354.2 1132.1h0M190.1 1068.2h0M262.5 1087.3h0M225.5 1133.0h0M326.3 1120.8h0M234.4 1125.3h0M333.0 1123.3h0M316.9 1144.3h0M182.7 1138.0h0M243.0 1127.6h0M338.3 1146.4h0M206.4 1156.5h0M351.5 1117.0h0M325.6 1090.9h0M338.7 1155.6h0M208.6 1149.3h0M259.9 1121.4h0M235.9 1010.0h0M244.4 1138.9h0M268.6 1064.5h0M208.2 1146.0h0M308.6 1101.6h0M337.1 1133.9h0M270.3 1056.1h0M347.7 1151.3h0M208.6 1155.5h0M224.0 1007.8h0M254.4 1097.6h0M326.8 1146.5h0M328.3 1132.2h0M329.9 1154.5h0M263.4 1091.9h0M309.4 1117.8h0M267.1 1144.0h0M252.4 1144.1h0M247.7 1136.5h0M327.2 1132.8h0M224.0 1131.3h0M331.1 1156.1h0M219.6 1153.9h0M240.8 1104.3h0M322.4 1124.3h0M312.6 1155.9h0M313.8 1114.7h0M333.8 1099.9h0M208.2 1133.1h0M265.0 1146.2h0M359.3 1149.3h0M325.9 1113.5h0M356.9 1151.5h0M334.0 1089.0h0M368.6 1156.0h0M243.9 1098.8h0M254.9 1131.9h0M240.0 1093.1h0M251.4 1108.6h0M342.9 1139.0h0M262.0 1136.1h0M308.8 1148.8h0M372.9 1155.3h0M254.9 1129.6h0M322.9 1127.4h0M371.0 1149.0h0M314.8 1132.6h0M250.9 1144.0h0M212.4 1149.3h0M307.4 1108.7h0M254.4 1091.4h0M330.6 1106.8h0M334.4 1144.9h0M242.9 1142.5h0M255.9 1108.6h0M340.8 1147.7h0M256.8 1091.5h0M239.9 1134.2h0M270.1 1134.4h0M319.6 1093.4h0M268.7 1139.1h0M335.5 1113.4h0M308.3 1121.4h0M225.2 1147.7h0M357.7 1155.2h0M365.9 1155.6h0M207.2 1147.1h0M246.7 1152.7h0M180.2 1135.7h0M316.8 1138.2h0M366.7 1152.4h0M240.5 1139.7h0M308.6 1133.5h0M348.8 1139.0h0M246.8 1080.6h0M313.9 1136.5h0M202.1 1152.7h0M212.7 1155.4h0M241.1 1123.0h0M311.9 1120.3h0M338.4 1127.3h0M331.3 1131.8h0M213.3 1152.9h0M310.1 1147.0h0M230.6 1150.5h0M335.3 1115.5h0M218.8 1145.7h0M336.7 1138.4h0M356.6 1151.3h0M207.3 1109.2h0M246.3 1134.8h0M309.3 1140.2h0M315.6 1149.9h0M358.0 1155.7h0M371.4 1149.9h0M348.8 1152.6h0M262.4 1081.8h0M270.9 1096.0h0M351.4 1138.2h0M212.9 1119.2h0M351.2 1146.1h0M240.3 1088.6h0M363.1 1142.7h0M308.2 1143.5h0M262.6 1134.6h0M410.5 1150.7h0M232.6 1123.8h0M241.2 1091.8h0M363.2 1155.3h0M237.3 1131.0h0M201.5 1154.6h0M270.4 1096.7h0M214.8 1142.8h0M267.9 1117.9h0M366.5 1152.2h0M234.8 1138.2h0M227.1 1152.2h0M254.2 1140.6h0M325.2 1134.0h0M210.1 1154.0h0M352.1 1135.8h0M262.7 1074.4h0M372.2 1152.1h0M258.0 1061.7h0M366.0 1154.0h0M332.5 1123.6h0M232.3 1146.1h0M249.6 1134.2h0M342.1 1132.0h0M270.6 1140.6h0M219.5 1127.0h0M264.0 1059.6h0M348.2 1131.5h0M208.4 1153.8h0M312.3 1149.9h0M311.9 1131.5h0M337.6 1141.8h0M355.2 1149.4h0M250.9 1113.4h0M263.5 1133.3h0M253.7 1145.2h0M353.1 1106.3h0M311.3 1156.4h0M239.6 1133.9h0M322.9 1110.3h0M228.7 1155.4h0M340.1 1137.9h0M247.1 1133.6h0M320.3 1115.6h0M263.3 1131.5h0M212.7 1155.7h0M348.7 1129.7h0M236.8 1130.9h0M260.1 1132.8h0M308.9 1143.1h0M316.5 1127.3h0M339.6 1139.8h0M214.3 1148.9h0M321.0 1150.9h0M318.8 1153.4h0M256.7 1079.5h0M329.3 1149.5h0M311.5 1144.5h0M256.1 1152.0h0M373.6 1149.8h0M270.2 1152.7h0M373.8 1149.7h0M271.2 1130.9h0M239.7 1143.1h0M335.4 1143.2h0M253.9 1130.6h0M232.0 1145.5h0M338.5 1148.7h0M330.9 1116.0h0M343.7 1143.9h0M262.8 1071.4h0M312.9 1131.7h0M255.4 1098.3h0M328.9 1083.3h0M311.3 1111.4h0M315.2 1123.4h0M254.8 1144.9h0M339.4 1136.6h0M338.3 1145.9h0M343.3 1153.7h0M217.3 1135.1h0M353.4 1143.6h0M268.5 1137.1h0M344.6 1149.2h0M312.9 1156.3h0M220.1 1126.5h0M263.4 1066.4h0M361.4 1128.7h0M306.0 1140.0h0M363.4 1146.9h0M247.6 1096.8h0M259.5 1102.0h0M263.0 1108.7h0M208.9 1153.2h0M269.8 1094.8h0M254.1 1150.0h0M234.1 1117.8h0M194.0 1153.9h0M329.3 1105.8h0M362.1 1155.5h0M253.9 1113.3h0M312.2 1124.5h0M359.8 1149.2h0M257.3 1128.9h0M320.6 1127.6h0M370.8 1154.9h0M218.0 1135.5h0M205.2 1151.5h0M328.9 1154.1h0M337.5 1141.6h0M243.9 1156.6h0M359.5 1142.2h0M212.3 1142.8h0M332.6 1130.1h0" stroke="#EE0000" stroke-opacity="0.5" stroke-width="5.8" stroke-linecap="round" fill="none"/>
<path d="M339.7 1144.5h0M367.9 1149.6h0M226.6 1149.6h0M324.6 1142.5h0M249.3 1120.7h0M211.8 1148.6h0M342.9 1144.7h0M330.1 1105.9h0M208.9 1155.7h0M205.5 1145.5h0M273.0 1144.6h0M314.0 1137.3h0M334.6 1150.2h0M316.0 1086.7h0M229.2 1149.4h0M350.9 1151.7h0M312.5 1141.0h0M223.7 1150.2h0M306.1 1117.2h0M321.4 1155.7h0M176.6 1152.7h0M351.5 1131.3h0M250.3 1133.7h0M244.9 1149.2h0M269.5 1138.8h0M253.1 1116.0h0M263.8 1109.6h0M237.1 1108.5h0M322.6 1150.9h0M239.6 1135.4h0M214.0 1154.6h0M345.6 1145.4h0M223.2 1150.1h0M380.4 1155.5h0M264.9 1094.7h0M325.7 1148.0h0M367.0 1154.6h0M311.4 1141.7h0M344.1 1135.3h0M346.4 1154.7h0M350.1 1139.5h0M364.0 1149.8h0M206.1 1135.4h0M272.0 1093.7h0M331.0 1147.1h0M331.3 1139.8h0M249.0 1154.7h0M249.1 1132.9h0M312.2 1133.7h0M201.0 1156.4h0M201.0 1145.6h0M358.7 1147.9h0M264.1 1059.0h0M270.2 1155.1h0M322.6 1128.8h0M371.9 1155.3h0M231.2 1142.0h0M222.6 1147.7h0M206.9 1153.5h0M253.5 1115.5h0M328.0 1140.3h0M314.2 1099.0h0M307.9 1154.8h0M357.7 1142.2h0M311.9 1122.9h0M210.5 1135.6h0M345.0 1142.1h0M322.0 1117.4h0M316.1 1122.6h0M338.6 1152.0h0M322.9 1126.4h0M306.4 1132.1h0M215.3 1139.0h0M272.1 1115.7h0M223.4 1150.6h0M333.6 1152.7h0M217.1 1152.3h0M239.3 1150.3h0M336.9 1152.3h0M350.7 1141.8h0M196.0 1155.2h0M249.3 1104.2h0M270.7 1139.3h0M308.8 1156.2h0M221.3 1133.9h0M234.3 1145.4h0M371.7 1154.5h0M226.9 1116.9h0M243.1 1133.8h0M215.5 1143.7h0M332.6 1111.9h0M218.1 1148.4h0M216.6 1136.5h0M372.4 1150.9h0M213.0 1155.6h0M307.1 1121.3h0M390.7 1141.5h0M337.5 1145.6h0M219.9 1151.0h0M319.8 1144.2h0M211.6 1151.1h0M269.2 1062.1h0M357.8 1145.3h0M214.6 1136.2h0M321.2 1140.0h0M342.6 1133.3h0M220.7 1150.0h0M243.5 1118.9h0M336.6 1127.5h0M350.7 1129.3h0M252.8 1141.1h0M308.0 1153.6h0M208.6 1149.1h0M371.5 1130.1h0M306.7 1100.5h0M334.5 1152.3h0M315.4 1137.3h0M330.6 1107.4h0M333.8 1139.1h0M247.1 1138.0h0M335.8 1152.8h0M367.6 1150.3h0M326.6 1136.4h0M225.2 1124.9h0M317.8 1148.1h0M266.8 1110.3h0M258.8 1107.0h0M331.3 1112.3h0M360.2 1138.7h0M258.8 1148.4h0M328.7 1145.5h0M237.8 1130.7h0M247.2 1136.9h0M247.9 1148.6h0M342.2 1149.7h0M270.4 1072.9h0M215.8 1154.1h0M263.8 1057.7h0M306.8 1070.9h0M259.7 1129.3h0M310.6 1098.1h0M332.6 1140.6h0M236.0 1117.4h0M257.9 1120.3h0M350.7 1155.9h0M229.9 1110.3h0M330.4 1150.8h0M268.5 1114.1h0M263.7 1111.9h0M353.7 1142.1h0M361.2 1153.9h0M353.9 1153.6h0M250.8 1149.2h0M221.0 1149.1h0M222.0 1153.6h0M315.5 1128.4h0M313.2 1090.7h0M204.5 1155.2h0M201.9 1116.3h0M329.3 1115.4h0M361.4 1154.9h0M340.0 1151.2h0M209.4 1154.6h0M220.6 1130.9h0M263.9 1150.3h0M259.7 1073.5h0M186.5 1123.5h0M256.0 1114.6h0M239.4 1125.0h0M331.0 1122.2h0M235.3 1125.8h0M227.1 1121.8h0M312.0 1093.6h0M346.7 1151.4h0M319.3 1102.0h0M346.3 1152.8h0M265.1 1138.4h0M254.6 1111.8h0M260.8 1150.3h0M334.3 1152.7h0M328.8 1151.1h0M333.2 1129.5h0M260.8 1113.5h0M311.2 1124.5h0M332.3 1112.8h0M319.1 1148.0h0M330.2 1154.3h0M306.3 1126.0h0M266.3 1129.0h0M231.0 1131.5h0M157.5 1149.6h0M332.0 1123.2h0M327.6 1134.4h0M361.7 1151.2h0M335.1 1156.3h0M228.9 1102.0h0M320.5 1108.6h0M252.0 1145.1h0M321.4 1096.1h0M223.9 1154.8h0M316.2 1145.9h0M330.7 1143.7h0M257.7 1120.3h0M395.3 1151.9h0M217.9 1148.1h0M222.0 1148.4h0M344.2 1134.9h0M335.7 1117.9h0M321.7 1116.3h0M343.3 1137.4h0M311.4 1154.7h0M176.6 1113.3h0M273.2 1122.7h0M224.7 1146.9h0M317.2 1131.7h0M362.2 1148.3h0M247.2 1136.2h0M176.6 1122.7h0M220.7 1151.9h0M262.5 1126.4h0M218.2 1155.6h0M188.7 1081.4h0M243.2 1089.0h0M214.6 1149.7h0M235.0 1137.7h0M348.3 1143.1h0M220.4 1128.5h0M238.0 1152.2h0M259.8 1147.4h0M180.4 1155.6h0M228.5 1136.3h0M320.0 1109.3h0M244.5 1130.0h0M246.5 1141.7h0M327.7 1104.1h0M222.7 1151.9h0M250.8 1110.7h0M228.6 1127.9h0M254.4 1084.5h0M322.2 1123.8h0M330.1 1146.4h0M341.5 1133.6h0M248.3 1155.8h0M341.3 1110.1h0M364.7 1152.9h0M259.1 1115.2h0M320.0 1153.9h0M326.2 1146.1h0M315.9 1096.7h0M337.4 1116.1h0M221.0 1145.7h0M315.9 1135.0h0M353.5 1155.9h0M259.3 1133.4h0M240.1 1107.3h0M210.7 1147.8h0M323.5 1040.1h0M340.9 1155.1h0M367.4 1151.3h0M235.5 1122.3h0M364.4 1154.2h0M400.3 1087.0h0M261.4 1107.8h0M315.8 1151.6h0M309.7 1128.6h0M223.3 1137.7h0M314.5 1137.3h0M336.9 1108.4h0M231.0 1138.9h0M328.9 1104.8h0M314.2 1151.8h0M243.4 860.9h0M314.9 1142.9h0M230.6 1110.5h0M210.4 1153.9h0M252.1 1131.8h0M363.5 1154.5h0M230.4 1132.0h0M222.8 1139.1h0M201.0 1153.4h0M235.2 1152.6h0M342.4 1145.7h0M228.7 1122.9h0M241.7 1153.8h0M336.4 1137.5h0M235.2 1102.9h0M229.0 1147.4h0M220.7 1149.7h0M237.4 1080.4h0M349.3 1126.7h0M251.1 1150.6h0M261.4 1118.4h0M222.8 1144.7h0M239.4 1122.3h0M341.5 1109.9h0M321.9 1110.0h0M230.6 1155.8h0M397.6 1131.3h0M258.6 1120.6h0M336.3 1154.0h0M346.4 1045.7h0M158.5 1155.2h0M352.6 1136.6h0M259.5 1111.0h0M240.8 1124.4h0M368.7 1149.5h0M314.1 1119.4h0M172.9 1142.0h0M271.8 1124.4h0M332.2 1135.5h0M212.3 1150.3h0M259.7 1126.8h0M248.3 1151.7h0M235.2 1119.4h0M427.0 1154.2h0M262.3 1146.4h0M357.4 1156.3h0M361.1 1149.6h0M327.9 1097.7h0M344.2 1140.7h0M313.5 1111.2h0M364.9 1151.3h0M272.7 1106.1h0M352.1 1133.6h0M369.5 1153.5h0M244.7 1135.6h0M260.1 1150.4h0M255.7 1095.9h0M344.0 1137.2h0M322.8 1109.6h0M329.9 1104.4h0M330.9 1130.4h0M265.7 1050.4h0M348.4 1153.3h0M220.0 1131.5h0M269.1 1140.5h0M256.7 1154.4h0M178.2 1129.5h0M322.4 1141.1h0M338.0 1140.6h0M327.3 1119.9h0M223.6 1156.1h0M175.4 1152.8h0M337.6 1114.5h0M345.0 1141.3h0M341.6 1139.1h0M240.4 1146.2h0M378.7 1054.3h0M263.1 1108.2h0M230.7 1152.0h0M328.8 1099.2h0M362.5 1142.8h0M234.0 1123.9h0M216.6 1132.9h0M206.8 1155.0h0M251.3 1122.0h0M210.2 1156.0h0M238.6 1018.7h0M365.6 1150.8h0M222.1 1148.6h0M358.5 1143.2h0M219.4 1152.3h0M213.5 1154.1h0M353.8 1142.3h0M320.1 1143.9h0M240.0 1153.7h0M262.1 1105.1h0M235.7 1117.6h0M255.9 1149.6h0M251.2 1094.2h0M271.1 1133.7h0M344.8 1146.3h0M350.2 1146.5h0M213.6 1144.7h0M201.2 1153.3h0M358.9 1149.2h0M236.4 1153.7h0M308.6 1119.3h0M230.6 1151.1h0M311.3 1154.6h0M249.8 1143.9h0M260.8 1116.6h0M309.4 1150.9h0M328.1 1115.3h0M258.7 1141.8h0M238.6 1125.0h0M326.1 1124.5h0M260.6 1101.6h0M319.4 1122.4h0M220.8 1128.8h0M325.1 1147.3h0M363.0 1155.9h0M362.8 1153.8h0M210.0 1153.4h0M316.4 1148.0h0M209.3 1156.0h0M255.0 1138.6h0" stroke="#EE0000" stroke-opacity="0.5" stroke-width="5.8" stroke-linecap="round" fill="none"/>
<path d="M345.3 1132.1h0M330.8 1100.9h0M306.8 1124.4h0M260.9 1092.5h0M242.3 1126.3h0M220.2 1115.2h0M347.8 1122.7h0M362.2 1115.1h0M273.2 1075.5h0M226.5 1150.8h0M221.2 1156.2h0M353.2 1115.6h0M251.1 1074.3h0M267.1 1154.8h0M211.6 1060.7h0M249.0 1128.7h0M216.5 1141.1h0M357.2 1155.8h0M341.3 1149.8h0M216.2 1140.6h0M269.6 1148.7h0M256.2 1103.6h0M229.3 1154.6h0M212.6 1141.3h0M236.7 1117.6h0M270.0 1139.4h0M213.9 1143.9h0M236.5 1122.7h0M335.1 1154.5h0M325.3 1138.5h0M327.5 1100.3h0M223.0 1150.0h0M320.5 1125.3h0M333.7 1129.3h0M264.0 1126.7h0M329.6 1137.5h0M147.0 1135.8h0M236.3 1125.8h0M221.6 1150.5h0M244.6 1074.6h0M326.4 1120.5h0M272.7 1144.2h0M312.5 1145.7h0M175.1 1149.0h0M309.3 1144.3h0M308.6 1141.4h0M358.1 1153.7h0M214.8 1152.9h0M230.4 1141.0h0M263.9 1095.3h0M364.5 1151.3h0M241.0 1099.4h0M360.8 1145.1h0M233.1 1150.4h0M254.7 1145.1h0M225.3 1132.6h0M325.5 1134.8h0M258.6 1072.5h0M346.4 1136.1h0M254.0 1111.4h0M208.3 1147.4h0M364.7 1153.6h0M341.9 1152.7h0M272.8 1124.8h0M331.9 1134.7h0M243.8 1130.4h0M315.0 1129.5h0M359.4 1155.0h0M339.3 1129.3h0M375.2 1143.9h0M318.7 1104.8h0M320.6 1101.9h0M250.7 1155.5h0M222.9 1122.1h0M329.5 1124.7h0M335.0 1132.4h0M251.4 1136.4h0M229.4 1144.4h0M317.5 1137.7h0M323.0 1145.5h0M217.5 1139.5h0M243.6 1124.0h0M311.4 1135.0h0M353.9 1155.1h0M231.0 1113.6h0M314.9 1137.9h0M219.1 1151.1h0M320.4 1139.1h0M343.9 1139.2h0M239.4 1139.5h0M214.0 1137.8h0M249.4 1141.2h0M245.9 1155.7h0M309.2 1118.7h0M326.8 1150.6h0M348.0 1134.0h0M314.5 1145.2h0M313.7 1102.8h0M353.6 1134.0h0M354.8 1136.7h0M337.0 1147.0h0M343.1 1138.1h0M327.1 1134.5h0M312.6 1101.4h0M260.1 1154.7h0M223.9 1139.0h0M222.2 1156.5h0M235.8 1137.8h0M369.6 1156.5h0M315.2 1098.8h0M233.1 1137.2h0M249.6 1140.7h0M311.5 1115.6h0M238.9 1137.8h0M326.6 1149.8h0M201.5 1150.1h0M205.7 1153.4h0M327.7 1145.6h0M341.9 1131.6h0M260.8 1124.2h0M247.9 1147.7h0M360.7 1153.0h0M374.0 1155.1h0M265.7 1107.5h0M209.1 1149.3h0M259.1 1136.1h0M320.9 1137.4h0M341.8 1147.8h0M323.7 1097.0h0M272.1 1092.2h0M362.5 1143.0h0M336.5 1134.6h0M320.8 1112.5h0M236.3 1135.9h0M313.7 1127.7h0M331.9 1151.6h0M356.4 1152.1h0M242.2 1156.0h0M255.1 1132.6h0M315.5 1109.4h0M363.9 1156.1h0M215.2 1146.2h0M309.5 1084.8h0M219.7 1049.4h0M330.3 1147.2h0M311.5 1138.6h0M232.8 1135.5h0M251.8 1119.9h0M350.3 1142.3h0M267.0 1147.6h0M250.1 1137.2h0M253.4 1154.9h0M354.2 1148.6h0M313.7 1147.2h0M317.5 1151.5h0M235.6 1145.7h0M319.8 1139.5h0M306.9 1069.1h0M243.9 1122.6h0M313.9 1090.0h0M250.3 1149.2h0M200.0 1146.0h0M188.4 1149.3h0M215.1 1140.7h0M273.1 1129.5h0M203.6 1150.9h0M353.3 1131.3h0M272.3 1072.3h0M239.4 952.6h0M250.1 1149.6h0M231.3 1136.5h0M258.4 1106.0h0M341.3 1150.9h0M333.9 1130.1h0M312.7 1030.7h0M227.5 1141.6h0M230.4 1141.6h0M336.1 1137.7h0M186.1 1122.8h0M332.2 1139.5h0M328.5 1153.3h0M330.4 1128.9h0M263.9 1155.4h0M323.0 1152.6h0M354.7 1132.7h0M343.1 1147.8h0M310.1 1128.8h0M314.9 1118.7h0M332.4 1105.9h0M213.3 1152.8h0M224.3 1137.1h0M319.0 1109.6h0M354.5 1154.7h0M310.1 1122.3h0M266.9 1062.5h0M366.8 1156.6h0M351.3 1149.3h0M346.9 1140.9h0M256.3 1150.6h0M271.8 1148.2h0M255.6 1154.7h0M342.5 1124.2h0M372.2 1149.0h0M308.4 1104.8h0M232.9 1112.5h0M209.6 1155.5h0M355.8 1156.3h0M269.9 1078.9h0M248.5 1119.5h0M273.1 1143.5h0M240.5 1108.1h0M353.4 1150.3h0M272.5 1060.7h0M257.5 1098.5h0M234.1 1142.9h0M317.6 1127.8h0M215.8 1138.2h0M224.5 1103.5h0M264.7 1131.3h0M228.2 1149.8h0M261.8 1122.5h0M253.1 1154.7h0M372.5 1153.0h0M217.0 1147.7h0M184.7 1130.9h0M321.3 1155.0h0M267.9 1134.1h0M224.5 1146.9h0M318.0 1108.9h0M312.5 1152.5h0M349.1 1156.2h0M237.3 1119.7h0M316.0 1141.8h0M226.1 1136.0h0M334.9 1125.7h0M315.1 1135.3h0M342.3 1138.5h0M342.9 1139.1h0M314.1 1148.8h0M313.5 1108.7h0M321.0 1114.7h0M264.1 1100.1h0M272.7 1147.7h0M227.1 1151.1h0M238.7 1136.6h0M361.0 1143.7h0M230.5 1055.1h0M265.5 1109.7h0M308.7 1078.6h0M213.8 1141.9h0M235.4 1146.1h0M352.7 1148.0h0M322.2 1114.8h0M196.7 1147.6h0M313.0 1132.5h0M256.9 1114.7h0M382.0 1155.8h0M255.2 1138.4h0M261.1 1154.5h0M308.7 1132.6h0M219.0 1144.3h0M263.3 1155.6h0M350.5 1147.7h0M311.2 1076.3h0M341.5 1140.9h0M255.0 1073.1h0M308.6 1101.5h0M369.1 1153.9h0M309.4 1153.8h0M324.6 1115.8h0M264.6 1154.9h0M256.2 1154.7h0M233.4 1143.5h0M315.8 1120.4h0M313.6 1074.0h0M270.5 1077.1h0M336.6 1132.4h0M212.0 1139.6h0M328.6 1152.4h0M347.6 1155.4h0M315.5 1121.5h0M270.7 1055.7h0M256.9 1153.9h0M244.7 1125.5h0M306.0 1132.3h0M250.8 1129.4h0M245.0 1129.2h0M313.5 1082.3h0M267.1 1135.8h0M256.7 1151.9h0M367.4 1155.6h0M336.6 1122.2h0M262.4 1085.5h0M382.5 1129.7h0M239.5 1149.4h0M269.1 1148.3h0M231.6 1112.6h0M223.3 1148.0h0M357.9 1144.0h0M314.2 1145.7h0M246.3 1133.9h0M259.2 1144.1h0M330.8 1112.5h0M316.9 1109.6h0M268.5 1133.3h0M222.8 1152.4h0M206.8 1156.4h0M314.2 1093.2h0M263.5 1146.8h0M205.0 1145.6h0M209.2 1142.8h0M321.9 1118.8h0M222.3 1138.4h0M266.2 1108.4h0M269.2 1088.3h0M365.8 1150.8h0M236.1 1156.0h0M242.7 1152.5h0M268.9 1106.1h0M365.1 1156.2h0M309.8 1150.1h0M318.8 1139.0h0M354.4 1144.5h0M260.3 1087.3h0M228.6 1136.4h0M308.4 1143.8h0M227.1 1124.4h0M217.4 1143.3h0M318.1 1126.3h0M211.4 1144.4h0M211.9 1153.5h0M233.9 1147.2h0M424.6 1118.9h0M337.3 1146.5h0M266.8 1111.3h0M328.0 1134.6h0M201.0 1146.8h0M231.0 1131.8h0M240.8 1152.6h0M249.7 1138.1h0M308.0 1114.6h0M354.1 1149.1h0M319.3 1095.3h0M327.8 1133.0h0M370.0 1142.0h0M250.3 1153.6h0M243.0 1144.8h0M268.6 1083.8h0M344.7 1134.6h0M322.9 1141.8h0M331.7 1150.6h0M360.9 1144.1h0M265.5 1104.0h0M253.8 1110.4h0M338.8 1152.8h0M334.7 1132.5h0M329.7 1155.0h0M223.5 1156.7h0M354.6 1147.9h0M208.9 1153.4h0M313.3 1139.3h0M332.4 1087.8h0M317.1 1145.0h0M358.7 1109.3h0M321.7 1155.7h0M223.4 1136.8h0M337.4 1110.3h0M242.6 1150.7h0M322.8 1118.1h0M373.0 1155.8h0M332.2 1104.5h0M266.4 1099.7h0M213.1 1142.2h0M230.4 1086.1h0M219.3 1156.4h0M330.2 1127.7h0M327.9 1148.3h0M310.7 1108.2h0M262.8 1076.9h0M427.9 1152.2h0M354.5 1137.0h0M333.7 1016.4h0M226.2 1156.0h0M365.6 1123.0h0M227.9 1143.5h0M215.6 1143.8h0M246.6 1154.3h0M204.1 1154.8h0M349.0 1150.8h0M320.2 1105.0h0M206.0 1150.1h0M259.8 1111.6h0M234.3 1083.2h0M201.0 1156.5h0M237.8 1145.5h0M271.3 1148.0h0M309.7 1125.0h0M212.9 1148.4h0" stroke="#EE0000" stroke-opacity="0.5" stroke-width="5.8" stroke-linecap="round" fill="none"/>
<line x1="274.6" y1="827.1" x2="274.6" y2="1178.9" stroke="#333" stroke-width="1.1" stroke-dasharray="4.2 2.6"/>
<line x1="305.7" y1="827.1" x2="305.7" y2="1178.9" stroke="#333" stroke-width="1.1" stroke-dasharray="4.2 2.6"/>
<line x1="88.5" y1="1157.4" x2="481.6" y2="1157.4" stroke="#444" stroke-width="1.1" stroke-dasharray="4.2 2.6"/>
<line x1="88.5" y1="827.1" x2="88.5" y2="1178.9" stroke="#222" stroke-width="1.4"/>
<line x1="88.5" y1="1178.9" x2="481.0" y2="1178.9" stroke="#222" stroke-width="1.4"/>
<line x1="81.0" y1="861.8" x2="88.5" y2="861.8" stroke="#222" stroke-width="1.4"/>
<text x="71.0" y="869.4" font-size="22.00" text-anchor="end" stroke="#111" stroke-width="0.35" textLength="26.0" lengthAdjust="spacingAndGlyphs">80</text>
<line x1="81.0" y1="937.0" x2="88.5" y2="937.0" stroke="#222" stroke-width="1.4"/>
<text x="71.0" y="944.6" font-size="22.00" text-anchor="end" stroke="#111" stroke-width="0.35" textLength="26.0" lengthAdjust="spacingAndGlyphs">60</text>
<line x1="81.0" y1="1012.2" x2="88.5" y2="1012.2" stroke="#222" stroke-width="1.4"/>
<text x="71.0" y="1019.8" font-size="22.00" text-anchor="end" stroke="#111" stroke-width="0.35" textLength="26.0" lengthAdjust="spacingAndGlyphs">40</text>
<line x1="81.0" y1="1087.1" x2="88.5" y2="1087.1" stroke="#222" stroke-width="1.4"/>
<text x="71.0" y="1094.7" font-size="22.00" text-anchor="end" stroke="#111" stroke-width="0.35" textLength="26.0" lengthAdjust="spacingAndGlyphs">20</text>
<line x1="81.0" y1="1162.1" x2="88.5" y2="1162.1" stroke="#222" stroke-width="1.4"/>
<text x="71.0" y="1169.7" font-size="22.00" text-anchor="end" stroke="#111" stroke-width="0.35" textLength="13.0" lengthAdjust="spacingAndGlyphs">0</text>
<line x1="181.8" y1="1178.9" x2="181.8" y2="1186.4" stroke="#222" stroke-width="1.4"/>
<text x="181.8" y="1212.1" font-size="22.00" text-anchor="middle" stroke="#111" stroke-width="0.35" textLength="24.8" lengthAdjust="spacingAndGlyphs">−4</text>
<line x1="289.8" y1="1178.9" x2="289.8" y2="1186.4" stroke="#222" stroke-width="1.4"/>
<text x="289.8" y="1212.1" font-size="22.00" text-anchor="middle" stroke="#111" stroke-width="0.35" textLength="13.0" lengthAdjust="spacingAndGlyphs">0</text>
<line x1="397.5" y1="1178.9" x2="397.5" y2="1186.4" stroke="#222" stroke-width="1.4"/>
<text x="397.5" y="1212.1" font-size="22.00" text-anchor="middle" stroke="#111" stroke-width="0.35" textLength="13.0" lengthAdjust="spacingAndGlyphs">4</text>
<text x="237.6" y="1248.7" font-size="25.50" stroke="#111" stroke-width="0.35" textLength="94.7" lengthAdjust="spacingAndGlyphs">log<tspan dy="7.1" font-size="18.4">2</tspan><tspan dy="-7.1">​</tspan>(FC)</text>
<text x="21.0" y="1006.5" font-size="25.50" text-anchor="middle" stroke="#111" stroke-width="0.35" transform="rotate(-90.00 21.0 1006.5)" textLength="100.1" lengthAdjust="spacingAndGlyphs">–log<tspan dy="7.1" font-size="18.4">10</tspan><tspan dy="-7.1">​</tspan>(<tspan font-style="italic">P</tspan>)</text>
<text x="357.1" y="869.9" font-size="21.70" stroke="#111" stroke-width="0.35" textLength="109.6" lengthAdjust="spacingAndGlyphs">DEGs 1,492</text>
<text x="357.1" y="899.3" font-size="21.70" stroke="#111" stroke-width="0.35" textLength="64.9" lengthAdjust="spacingAndGlyphs">Up 891</text>
<text x="357.1" y="928.3" font-size="21.70" stroke="#111" stroke-width="0.35" textLength="90.6" lengthAdjust="spacingAndGlyphs">Down 601</text>
<text x="632.6" y="788.2" font-size="24.80" stroke="#111" stroke-width="0.35" textLength="326.0" lengthAdjust="spacingAndGlyphs">B-postPEAm_septum versus</text>
<text x="706.2" y="819.0" font-size="24.80" stroke="#111" stroke-width="0.35" textLength="171.2" lengthAdjust="spacingAndGlyphs">B-prePEAm_RV</text>
<path d="M780.3 1151.9 L812.5 1151.9 L812.5 1161.6 L780.3 1161.6Z" fill="#4D4D4D"/>
<path d="M699.6 1161.6 L699.6 1156.2 L709.3 1151.9 L780.3 1151.9 L780.3 1161.6Z" fill="#228B22"/>
<path d="M812.5 1161.6 L812.5 1151.9 L876.2 1151.9 L885.1 1156.2 L885.1 1161.6Z" fill="#228B22"/>
<path d="M686.4 1158.3h0M693.6 1157.4h0M888.7 1158.3h0M885.5 1158.4h0M886.2 1158.5h0M888.1 1155.5h0M699.0 1157.5h0M887.8 1158.1h0M892.6 1157.1h0M695.4 1159.0h0M885.1 1158.7h0M696.5 1153.2h0M891.5 1158.3h0M886.1 1157.9h0M693.1 1159.1h0M699.3 1157.9h0M895.2 1153.6h0M893.8 1157.7h0M692.2 1158.1h0M699.2 1156.7h0" stroke="#228B22" stroke-opacity="0.55" stroke-width="5.8" stroke-linecap="round" fill="none"/>
<path d="M780.3 1151.9 L780.3 1097.2 L787.6 1097.2 L796.2 1149.2 L796.2 1151.9Z" fill="#4169E1"/>
<path d="M812.5 1151.9 L812.5 1115.8 L802.6 1115.8 L796.8 1149.2 L796.8 1151.9Z" fill="#4169E1"/>
<path d="M781.3 1033.5h0M781.3 1049.0h0M809.0 1085.5h0M809.8 1098.5h0M782.7 1099.1h0M785.4 1107.1h0M785.7 1113.5h0M781.0 1108.1h0M785.0 1110.8h0M784.4 1104.1h0M785.2 1116.4h0M783.9 1110.7h0M782.0 1108.9h0M784.8 1095.4h0M781.1 1116.4h0M785.9 1119.6h0M782.9 1112.8h0M785.8 1104.8h0M782.0 1114.7h0M785.0 1110.5h0M806.6 1122.4h0M805.2 1134.9h0M807.0 1127.8h0M809.0 1126.6h0M808.1 1119.2h0M809.2 1130.6h0M805.2 1132.1h0M810.7 1134.8h0M809.3 1130.9h0M808.1 1117.5h0M805.8 1121.7h0M808.4 1125.4h0M806.5 1128.8h0M810.8 1129.8h0" stroke="#4169E1" stroke-opacity="0.6" stroke-width="5.8" stroke-linecap="round" fill="none"/>
<path d="M730.4 1149.8h0M772.8 1123.3h0M774.2 1149.8h0M756.5 1143.2h0M759.5 1139.7h0M777.6 1125.7h0M768.2 1133.0h0M778.9 1107.0h0M758.1 1127.9h0M779.3 1137.9h0M775.2 1140.3h0M726.2 1150.4h0M773.9 1148.2h0M767.5 1135.4h0M772.9 1106.8h0M774.3 1126.7h0M774.6 1107.0h0M779.7 1123.8h0M753.5 1144.8h0M767.7 1145.0h0M762.1 1136.6h0M757.4 1136.1h0M765.1 1120.1h0M763.0 1148.5h0M756.4 1139.9h0M774.2 1124.3h0M776.3 1114.6h0M779.2 1124.0h0M778.6 1143.8h0M764.5 1123.3h0M740.8 1142.2h0M771.3 1108.4h0M772.8 1127.6h0M762.1 1138.8h0M766.2 1139.7h0M764.3 1120.8h0M756.7 1125.4h0M780.3 1104.6h0M765.5 1129.0h0M780.4 1128.2h0M765.8 1122.2h0M761.3 1120.1h0M763.0 1127.8h0M754.2 1135.1h0M747.9 1149.6h0M773.3 1129.8h0M779.5 1103.4h0M734.4 1147.9h0M757.4 1150.8h0M771.9 1121.8h0M726.9 1147.4h0M738.6 1148.1h0M771.3 1120.6h0M777.8 1127.1h0M744.2 1140.7h0M779.1 1120.3h0M750.8 1142.4h0M768.1 1121.2h0M766.6 1116.6h0M756.5 1126.4h0M762.2 1119.1h0M767.2 1129.1h0M741.9 1151.0h0M749.3 1141.0h0M757.9 1142.8h0M750.8 1136.2h0M773.6 1134.7h0M739.9 1146.9h0M769.0 1120.3h0M774.5 1108.3h0M772.0 1106.7h0M762.3 1119.2h0M756.4 1147.8h0M756.0 1134.7h0M759.8 1127.2h0M773.7 1123.1h0M780.2 1111.3h0M765.5 1140.3h0M746.5 1139.1h0M742.8 1145.9h0M742.0 1148.6h0M747.1 1137.5h0M774.9 1130.9h0M774.9 1143.5h0M735.5 1144.6h0M760.4 1146.6h0M757.9 1138.4h0M776.4 1136.4h0M759.7 1122.4h0M750.9 1143.0h0M759.4 1134.3h0M750.3 1141.2h0M757.8 1137.0h0M770.9 1123.7h0M776.9 1150.8h0M762.1 1140.6h0M774.8 1142.8h0M757.5 1132.6h0M766.0 1145.9h0M748.8 1133.4h0M748.3 1139.2h0M762.7 1141.8h0M753.9 1137.4h0M777.0 1114.0h0M738.2 1145.7h0M735.8 1141.8h0M778.6 1119.1h0M750.7 1140.2h0M758.3 1150.5h0M770.3 1119.7h0M724.5 1150.0h0M770.8 1124.4h0M767.5 1121.1h0M753.0 1150.5h0M752.2 1141.7h0M762.6 1129.9h0M773.2 1105.5h0M780.4 1119.5h0M766.0 1140.5h0M778.9 1126.0h0M776.1 1122.0h0M729.9 1145.5h0M751.9 1150.3h0M757.8 1133.3h0M761.4 1133.0h0M760.8 1150.3h0M746.9 1144.2h0M737.6 1144.6h0M761.5 1131.5h0M759.7 1139.4h0M777.3 1129.2h0M758.6 1150.7h0M751.9 1138.5h0M773.3 1143.4h0M770.6 1124.1h0M774.0 1114.8h0M746.0 1136.7h0M778.2 1142.9h0M769.3 1127.2h0M778.4 1122.5h0M758.1 1126.1h0M748.0 1151.0h0M765.1 1137.0h0M774.9 1112.7h0M772.8 1114.1h0M743.0 1139.3h0M764.7 1150.8h0M769.3 1116.3h0M777.2 1132.8h0M747.7 1145.1h0M737.6 1140.2h0M763.5 1146.6h0M769.2 1138.7h0M779.6 1111.5h0M778.8 1147.3h0M767.7 1131.1h0M764.1 1149.5h0M720.6 1151.0h0M760.8 1133.3h0M776.7 1149.1h0M771.4 1149.2h0M764.7 1141.2h0M770.1 1146.9h0" stroke="#EE0000" stroke-opacity="0.92" stroke-width="5.8" stroke-linecap="round" fill="none"/>
<path d="M818.0 1137.2h0M837.1 1149.4h0M822.8 1129.2h0M845.3 1141.8h0M845.2 1141.1h0M815.1 1142.0h0M817.6 1142.0h0M820.0 1131.8h0M830.9 1141.8h0M831.4 1132.1h0M816.9 1143.5h0M814.5 1143.1h0M822.6 1132.6h0M813.2 1136.2h0M828.4 1130.1h0M818.3 1131.8h0M813.2 1127.1h0M826.1 1125.0h0M840.3 1140.1h0M818.6 1140.5h0M824.9 1131.3h0M830.9 1130.0h0M827.1 1137.9h0M831.5 1135.2h0M859.6 1150.7h0M812.7 1128.2h0M830.5 1146.5h0M812.9 1140.3h0M862.2 1148.3h0M835.8 1145.2h0M829.3 1128.7h0M849.9 1139.1h0M830.1 1136.2h0M828.8 1138.5h0M839.0 1146.9h0M815.3 1130.0h0M821.1 1142.0h0M818.8 1140.1h0M815.0 1129.5h0M819.2 1126.4h0M826.1 1135.5h0M834.9 1141.3h0M820.1 1148.0h0M860.5 1145.8h0M847.8 1149.0h0M827.8 1137.9h0M840.6 1149.5h0M830.9 1149.6h0M852.2 1148.5h0M831.6 1150.9h0M858.8 1145.6h0M858.1 1150.2h0M826.0 1130.7h0M825.5 1143.9h0M838.9 1134.6h0M826.3 1124.4h0M841.7 1143.5h0M820.9 1124.8h0M825.5 1125.0h0M830.9 1130.3h0M840.2 1134.6h0M827.8 1148.6h0M837.7 1133.7h0M849.0 1145.6h0M813.4 1143.4h0M816.3 1130.6h0M858.5 1150.2h0M842.3 1146.8h0M819.0 1129.9h0M846.5 1149.3h0M838.6 1146.9h0M855.5 1143.9h0M837.5 1140.1h0M860.7 1148.3h0M833.9 1147.0h0M815.1 1122.1h0M814.5 1123.7h0M825.8 1134.3h0M844.5 1149.7h0M843.9 1143.0h0M823.4 1132.0h0M842.9 1135.9h0M830.8 1127.4h0M863.2 1147.8h0M813.5 1138.8h0M814.1 1140.5h0M851.9 1149.0h0M826.1 1130.0h0M836.2 1134.0h0M815.0 1136.5h0M860.6 1148.2h0M853.5 1143.8h0M818.8 1133.9h0M846.4 1151.0h0M819.2 1128.8h0M820.5 1121.7h0M830.3 1147.3h0M825.9 1149.5h0M818.2 1135.2h0M827.0 1138.2h0M830.4 1149.1h0M818.2 1121.1h0M847.3 1138.6h0M858.7 1148.4h0M839.4 1137.2h0M816.9 1145.0h0M850.5 1145.6h0M831.5 1149.4h0M831.0 1137.8h0M846.5 1150.1h0M835.4 1133.7h0M822.9 1145.7h0M851.6 1150.8h0M819.1 1130.0h0M834.5 1147.1h0" stroke="#EE0000" stroke-opacity="0.92" stroke-width="5.8" stroke-linecap="round" fill="none"/>
<path d="M926.9 1137.6h0M777.4 1107.5h0M815.1 1136.5h0M729.0 1146.8h0M829.0 1144.7h0M813.8 1093.0h0M767.4 1012.5h0M830.1 1102.8h0M692.5 1128.0h0M862.2 1137.9h0M841.8 1127.1h0M904.7 1142.0h0M771.1 1078.0h0M753.9 1135.5h0M862.4 1147.6h0M735.6 1050.2h0M824.2 1139.9h0M839.8 1142.3h0M857.8 1135.0h0M776.0 1095.9h0M727.9 1147.7h0M712.8 1145.4h0M708.7 1150.0h0M758.7 1105.2h0M905.8 1123.2h0M747.4 1129.7h0M853.0 1141.7h0M943.0 1149.3h0M750.9 1134.1h0M816.4 1128.7h0M864.6 1147.4h0M772.6 1103.9h0M689.3 1128.1h0M920.5 1139.4h0M816.0 1117.8h0M832.4 1095.9h0M712.8 1133.4h0M901.6 1148.8h0M852.9 1139.1h0M736.9 1131.9h0M836.0 1129.5h0M867.6 1148.3h0M751.3 1130.6h0M767.3 1130.6h0M762.3 1140.2h0M836.5 1114.4h0M679.7 1139.5h0M866.4 1112.1h0M837.2 1090.3h0M835.3 1130.4h0M703.8 1047.8h0M834.8 1116.5h0M748.3 1122.6h0M739.4 1130.0h0M778.8 1126.3h0M842.3 1139.3h0M865.6 1147.0h0M742.8 1112.5h0M814.1 1132.9h0M814.4 1143.7h0M868.8 1149.1h0M778.5 1093.6h0M663.7 1117.0h0M904.3 1147.5h0M841.3 1132.5h0M777.7 1097.2h0M722.1 1142.2h0M764.6 1148.6h0M739.7 1140.2h0M874.6 1148.8h0M875.1 1149.2h0M776.7 1098.4h0M704.2 1110.1h0M704.3 1148.5h0M874.5 1147.5h0M834.4 1119.0h0M829.5 1082.3h0M874.1 1147.3h0M711.9 1147.5h0M839.5 1143.2h0M817.9 1140.9h0M769.1 1141.4h0M743.7 1131.7h0M859.4 1136.9h0M726.5 1144.3h0M846.5 1146.1h0M747.7 1139.2h0M771.5 1132.2h0M760.4 1110.0h0M736.9 1141.1h0M739.3 1090.5h0M865.4 1148.4h0M841.0 1142.7h0M734.3 1143.8h0M864.7 1147.5h0M841.5 1136.7h0M777.6 1083.0h0M735.7 1105.1h0M740.3 1134.4h0M832.8 1133.0h0M732.4 1142.2h0M842.8 1140.7h0M817.0 1139.9h0M773.2 1073.0h0M719.5 1143.1h0M771.9 1107.9h0M724.8 1143.4h0M738.1 872.1h0M740.3 1147.0h0M820.8 1127.3h0M820.0 1146.0h0M762.2 1089.0h0M727.5 1145.6h0M839.9 1103.3h0M851.5 1143.4h0M765.5 1122.4h0M858.3 1129.1h0M857.6 1140.5h0M869.1 1145.3h0M816.4 1127.6h0M830.3 1097.8h0M820.9 1036.6h0M750.7 1116.7h0M826.4 1143.9h0M830.8 1149.1h0M777.0 1143.5h0M865.7 1138.8h0M734.4 1136.9h0M741.9 1103.9h0M743.1 1147.1h0M740.5 1128.1h0M876.5 1149.2h0M830.4 1146.9h0M876.4 1145.9h0M854.4 1112.5h0M861.6 1142.9h0M772.6 1073.1h0M761.5 1088.3h0M740.7 1145.8h0M777.6 1091.8h0M861.9 1149.0h0M730.4 1139.7h0M706.9 1147.2h0M877.1 1149.0h0M769.9 1118.2h0M834.3 1145.6h0M774.4 1121.3h0M778.1 1125.6h0M820.3 1106.5h0M827.4 1147.7h0M743.5 1099.0h0M770.1 1073.9h0M713.0 1128.2h0M845.5 1146.3h0M845.6 1128.7h0M830.6 1141.5h0M760.4 1120.2h0M894.3 1145.1h0M839.8 1094.1h0M742.0 1142.1h0M821.9 1139.4h0M859.7 1146.3h0M837.1 1110.3h0M709.0 1145.5h0M868.2 1113.9h0M912.2 1131.8h0M746.8 1117.3h0M823.7 1120.5h0M775.0 1088.8h0M849.8 1147.7h0M875.7 1149.1h0M835.7 1139.4h0M814.7 1134.6h0M835.3 1142.1h0M824.8 1141.1h0M735.9 1137.6h0M815.3 1132.5h0M680.6 1128.8h0M728.1 1139.0h0M778.3 1093.8h0M760.9 1122.6h0M779.4 1103.9h0M841.1 1126.1h0M709.8 1148.6h0M841.4 1139.1h0M777.0 1111.6h0M857.0 1148.1h0M822.0 1121.4h0M831.6 1096.5h0M845.1 1145.8h0M723.2 1119.6h0M822.2 1130.9h0M742.8 1142.2h0M765.1 1148.1h0M848.6 1138.7h0M758.0 1105.2h0M829.2 1139.7h0M687.4 1140.6h0M888.5 1149.1h0M778.1 1091.9h0M754.1 1106.9h0M684.4 1147.9h0M869.0 1143.4h0M711.7 1148.1h0M744.0 1131.0h0M727.5 1134.3h0M753.3 1136.4h0M775.4 1141.8h0M718.2 1137.9h0M854.5 1132.4h0M860.8 1149.6h0M846.8 1134.0h0M776.0 1102.0h0M758.2 1124.9h0M740.9 1121.2h0M827.8 1134.2h0M831.1 1116.9h0M753.1 1113.4h0M873.8 1144.6h0M733.1 1141.9h0M764.7 1147.6h0M836.2 1122.4h0M769.3 1123.8h0M862.6 1146.7h0M868.3 1145.1h0M766.9 1148.6h0M764.6 1105.1h0M813.9 1128.5h0M682.2 1136.1h0M863.4 1121.6h0M736.5 1149.1h0M656.8 1146.0h0M821.1 1119.3h0M860.9 1137.3h0M815.2 1148.3h0M754.3 1147.0h0M819.3 1138.3h0M734.0 1142.0h0M853.3 1128.8h0M922.4 1130.6h0M746.4 1129.2h0M852.1 1139.6h0M753.7 1149.4h0M708.8 1149.0h0M838.3 1140.8h0M822.8 1045.3h0M723.1 1146.1h0M761.1 1120.6h0M825.6 1130.3h0M770.9 1114.5h0M823.2 1133.9h0M815.2 1138.7h0M867.5 1140.7h0M774.1 1137.8h0M835.0 1108.4h0M919.4 1140.8h0M739.6 1143.1h0M858.8 1063.8h0M855.2 1098.4h0M759.5 1134.3h0M840.2 1142.3h0M913.5 1149.4h0M758.0 1139.1h0M695.5 1148.8h0M772.5 1095.2h0M777.9 1115.4h0M841.5 1121.7h0M817.6 1128.2h0M764.8 1129.3h0M846.7 1149.9h0M932.1 1134.4h0M728.8 1143.9h0M835.0 1126.0h0M814.3 1112.4h0M846.1 1141.5h0M737.1 1138.9h0M731.0 1139.5h0M751.1 1111.6h0M889.6 1149.4h0M735.1 1142.9h0M747.7 1133.6h0M772.5 1112.6h0M760.2 1110.6h0M821.9 1133.6h0M834.7 1108.7h0M817.1 1139.1h0M813.8 1112.3h0M876.8 1126.2h0M778.4 1072.4h0M741.6 1140.1h0M859.6 1144.6h0" stroke="#EE0000" stroke-opacity="0.5" stroke-width="5.8" stroke-linecap="round" fill="none"/>
<path d="M829.8 1134.0h0M829.8 1123.8h0M850.2 1141.0h0M844.4 1147.8h0M767.7 1148.1h0M814.1 1130.4h0M818.5 1117.6h0M831.2 1133.0h0M772.0 1086.6h0M769.9 1064.0h0M750.5 1137.9h0M685.8 1123.2h0M746.4 1110.8h0M752.3 1123.3h0M854.4 1101.5h0M770.3 1096.0h0M863.4 1137.9h0M863.8 1140.3h0M728.7 1142.1h0M740.6 888.8h0M729.5 1096.0h0M818.8 1081.2h0M731.9 1131.7h0M745.0 1125.9h0M724.5 1132.2h0M847.2 1136.3h0M813.8 1109.2h0M872.6 1144.6h0M716.7 1140.6h0M758.3 1127.7h0M816.9 1120.0h0M858.7 1144.7h0M747.1 1141.5h0M759.2 1148.8h0M742.5 876.4h0M864.1 1141.6h0M866.6 1133.9h0M764.0 1103.7h0M855.0 1132.4h0M825.8 1130.1h0M831.1 1137.1h0M753.6 1129.0h0M740.2 1138.5h0M719.7 1144.5h0M813.6 1106.7h0M837.5 1133.6h0M770.9 1126.4h0M750.9 1144.3h0M773.3 1127.9h0M839.4 1113.2h0M749.9 1146.0h0M731.8 1147.4h0M778.9 1103.7h0M875.8 1145.1h0M732.4 1141.6h0M851.6 1149.0h0M736.4 1129.2h0M716.4 1145.7h0M725.7 1141.9h0M759.9 1115.8h0M813.7 1112.2h0M841.9 1137.8h0M746.0 1148.5h0M660.4 1135.9h0M738.5 1127.1h0M845.5 1121.6h0M816.3 1141.6h0M765.9 1145.1h0M819.6 1099.7h0M769.7 1080.5h0M842.5 1147.4h0M693.3 1145.9h0M828.6 1111.5h0M849.5 1137.2h0M841.5 1145.9h0M720.0 1142.6h0M859.9 1138.7h0M875.1 1134.3h0M734.8 1102.8h0M835.6 1104.1h0M840.6 1138.1h0M829.7 1049.0h0M817.3 1126.9h0M758.1 1122.9h0M727.3 976.0h0M872.7 1148.6h0M869.2 1149.7h0M730.3 1149.3h0M733.6 1141.1h0M709.1 1121.1h0M772.2 1091.3h0M845.9 1130.3h0M734.5 1149.2h0M853.7 1145.7h0M767.6 1070.6h0M890.9 1128.7h0M871.1 1150.1h0M757.4 1125.6h0M732.0 1149.3h0M838.7 1097.0h0M833.2 1130.3h0M714.3 1146.9h0M758.7 1098.3h0M826.6 1102.7h0M755.1 1106.0h0M815.3 1147.3h0M821.6 1122.5h0M861.2 1144.1h0M826.6 1141.9h0M774.9 1070.7h0M813.2 1135.9h0M778.9 1087.7h0M755.4 1116.2h0M749.5 1063.2h0M728.9 1141.2h0M825.5 1124.8h0M764.4 1145.2h0M819.5 1136.5h0M833.7 1112.3h0M722.3 1140.7h0M762.6 1145.8h0M772.6 1135.6h0M851.5 1146.3h0M734.7 1127.3h0M669.2 1145.5h0M852.4 1138.4h0M736.3 1147.2h0M769.9 1142.3h0M823.7 1107.2h0M826.0 1117.0h0M855.7 1140.5h0M776.0 1148.2h0M823.9 1131.0h0M769.5 1138.7h0M939.8 1133.7h0M875.9 1145.5h0M854.8 1131.7h0M836.6 1124.1h0M836.3 1147.2h0M774.7 1124.3h0M761.1 1140.3h0M758.5 1147.4h0M748.1 1144.4h0M767.6 1086.3h0M778.9 1069.6h0M828.1 1132.1h0M869.7 1148.8h0M871.2 1069.4h0M751.0 1119.7h0M819.5 1140.3h0M750.2 1100.8h0M859.2 1133.4h0M722.5 1141.3h0M728.1 1139.3h0M773.8 1077.6h0M730.3 1134.1h0M772.5 1065.7h0M878.8 1112.3h0M767.2 1148.9h0M904.4 1139.9h0M771.3 1112.2h0M743.3 1123.8h0M847.6 1145.6h0M745.3 888.8h0M841.3 1142.1h0M734.6 1147.2h0M760.7 1143.0h0M745.8 1133.7h0M876.1 1146.6h0M768.8 1069.5h0M768.9 1147.8h0M747.7 1145.2h0M848.0 1127.3h0M754.8 1124.1h0M833.4 1118.6h0M816.3 1133.4h0M823.0 1108.1h0M840.8 1042.8h0M733.1 1143.2h0M871.7 1111.9h0M832.6 1113.3h0M753.3 1104.7h0M814.0 1132.6h0M765.2 1132.1h0M717.8 1143.6h0M848.5 1138.9h0M841.0 1147.6h0M885.9 1140.3h0M698.3 1099.7h0M822.5 1117.5h0M816.1 1135.9h0M752.6 1131.4h0M740.2 1136.2h0M917.2 1140.4h0M890.1 1119.1h0M816.0 1110.0h0M864.4 1144.3h0M750.5 1097.5h0M712.3 1147.3h0M778.4 1115.6h0M852.8 1129.6h0M722.4 1148.6h0M818.6 1132.9h0M869.8 1146.5h0M749.1 1114.0h0M833.8 1084.6h0M716.5 1145.3h0M741.1 1145.8h0M852.2 1144.0h0M779.5 1141.7h0M820.4 1124.9h0M723.3 1146.0h0M770.0 1128.1h0M832.1 1137.2h0M722.2 1137.8h0M865.8 1109.1h0M770.5 1115.9h0M831.6 1105.3h0M778.0 1109.3h0M829.1 1138.7h0M745.2 1096.3h0M867.8 1149.7h0M768.9 1132.2h0M885.8 1132.6h0M869.8 1148.3h0M761.1 1134.5h0M902.6 1145.1h0M848.3 1140.0h0M824.3 1094.9h0M847.2 1142.0h0M764.1 1131.3h0M877.3 1141.3h0M817.8 1132.5h0M749.2 1116.9h0M844.3 1138.8h0M839.9 1117.4h0M709.7 1144.4h0M763.6 1136.3h0M849.4 1137.4h0M677.5 1131.3h0M760.6 1124.7h0M834.9 1107.3h0M824.7 1126.7h0M874.1 1115.6h0M766.9 1111.6h0M766.8 1100.8h0M848.4 1146.1h0M841.2 1114.9h0M853.5 1104.7h0M658.1 1066.3h0M740.2 1123.1h0M746.8 1119.0h0M773.4 1139.1h0M775.4 1070.3h0M836.0 1125.7h0M749.0 1148.8h0M834.3 1117.6h0M886.4 1138.1h0M818.0 1125.9h0M708.9 1148.6h0M729.7 1146.5h0M917.9 1145.8h0M873.7 1148.8h0M815.9 1058.3h0M827.9 1117.3h0M849.8 1138.7h0M714.2 1149.4h0M854.5 1139.3h0M721.8 1148.1h0M760.8 1146.7h0M757.0 1132.3h0M850.4 1138.8h0M823.1 1131.0h0M819.4 1140.1h0M823.1 1080.3h0M736.2 1136.9h0M728.1 1144.2h0M718.4 1140.9h0M768.0 1147.5h0M853.3 1148.1h0M747.6 1147.4h0M752.1 1116.0h0M777.8 1145.7h0M753.8 1146.4h0M770.4 1145.1h0M836.9 1131.4h0M844.1 1131.1h0M749.5 1141.7h0M769.0 1142.3h0M713.6 1146.3h0M858.3 1143.6h0" stroke="#EE0000" stroke-opacity="0.5" stroke-width="5.8" stroke-linecap="round" fill="none"/>
<path d="M734.9 1139.6h0M774.3 1104.9h0M875.0 1145.4h0M830.6 1144.0h0M762.3 1147.8h0M827.3 1135.1h0M735.6 1002.6h0M862.1 1116.0h0M743.5 1142.9h0M733.0 1136.2h0M837.5 1124.4h0M857.1 1137.1h0M735.4 1149.7h0M838.3 1149.7h0M825.3 1095.2h0M742.6 1117.8h0M889.2 1079.9h0M844.8 1125.1h0M764.9 1130.8h0M738.0 1138.4h0M871.1 1149.7h0M831.0 1132.8h0M867.1 1135.4h0M766.5 1136.3h0M851.0 1139.6h0M875.5 1147.2h0M814.0 1129.4h0M773.4 1143.9h0M822.0 1024.9h0M710.0 1149.4h0M875.0 1145.5h0M813.8 1121.6h0M821.2 1109.7h0M726.8 1147.4h0M850.5 1055.8h0M681.6 1141.6h0M826.2 1133.4h0M711.3 1148.8h0M759.2 1146.8h0M747.0 1116.4h0M732.9 1097.2h0M726.2 1149.3h0M869.3 1107.0h0M771.0 1080.4h0M827.2 1144.7h0M857.8 1135.2h0M880.8 1111.8h0M873.4 1148.4h0M715.4 1150.0h0M835.6 1148.5h0M862.7 1144.0h0M773.4 1121.9h0M735.9 1109.2h0M836.3 1132.1h0M819.1 1125.3h0M713.4 1134.3h0M726.7 1139.1h0M772.0 1099.3h0M816.3 1098.6h0M697.1 1117.8h0M870.1 1144.1h0M817.3 1148.3h0M770.3 1074.1h0M772.0 1136.3h0M757.0 1147.4h0M707.9 1148.1h0M907.2 1103.4h0M856.7 1146.8h0M750.4 1105.0h0M763.9 1127.6h0M864.5 1144.2h0M763.4 1107.6h0M719.4 1149.1h0M768.3 1121.8h0M873.2 1147.7h0M825.8 1129.2h0M867.4 1145.8h0M814.6 1080.2h0M836.7 1143.2h0M762.0 1129.3h0M767.6 1078.4h0M731.2 1140.2h0M754.9 1137.0h0M769.0 1112.1h0M813.8 1107.3h0M777.9 1086.8h0M722.4 1148.3h0M821.4 1123.3h0M730.5 1092.6h0M777.6 1136.7h0M879.9 1139.5h0M758.5 1129.4h0M857.9 1137.1h0M742.8 1148.8h0M820.9 1139.9h0M821.4 1118.4h0M776.9 1105.3h0M764.6 1129.3h0M739.9 1140.7h0M745.6 1145.1h0M855.7 1138.5h0M853.2 1129.7h0M845.7 1135.4h0M775.2 1094.4h0M774.9 1143.3h0M866.9 1147.4h0M761.7 1138.2h0M744.6 1149.9h0M745.3 1110.4h0M683.3 1144.9h0M706.2 1143.3h0M707.7 1143.5h0M820.5 1130.7h0M832.1 1121.1h0M839.4 1130.6h0M724.5 1001.4h0M874.6 1146.2h0M833.4 1138.6h0M738.4 1035.4h0M840.7 1131.8h0M863.1 1140.3h0M754.7 1134.0h0M852.9 1146.6h0M731.2 1111.9h0M770.5 1119.6h0M715.1 1144.0h0M824.0 1138.1h0M777.5 1095.8h0M860.6 1146.2h0M837.7 1105.8h0M776.6 1140.2h0M774.0 1067.9h0M708.5 1148.0h0M777.7 1083.6h0M767.5 1110.4h0M866.6 1146.8h0M727.7 1131.2h0M717.4 1146.5h0M926.6 1127.6h0M720.7 1146.6h0M845.4 1126.7h0M823.1 1118.4h0M771.8 1128.9h0M837.5 1139.7h0M717.6 1139.3h0M751.4 1146.5h0M767.4 1148.7h0M710.6 1146.2h0M858.8 1142.1h0M876.6 1148.6h0M847.6 1127.2h0M823.9 1140.9h0M865.6 1147.4h0M820.7 1118.7h0M872.6 1144.4h0M718.7 1149.1h0M762.6 1089.4h0M706.0 1124.0h0M711.2 1141.9h0M828.6 1146.1h0M769.1 1088.9h0M746.7 1133.5h0M823.0 1087.6h0M816.4 1138.7h0M766.7 1108.9h0M846.9 1132.4h0M817.8 1144.1h0M865.5 1148.6h0M845.9 1146.1h0M823.3 1121.6h0M739.3 1150.1h0M770.0 1099.0h0M726.4 1149.5h0M820.6 1127.3h0M757.8 1129.4h0M759.6 1147.3h0M756.0 1102.5h0M748.9 1119.6h0M826.0 1123.6h0M727.3 1144.2h0M693.1 1117.4h0M855.1 1137.2h0M773.8 1061.6h0M869.3 1148.5h0M658.9 1135.0h0M733.8 1136.0h0M824.2 1141.8h0M726.7 1144.1h0M885.3 1121.4h0M864.8 1146.8h0M884.8 1132.5h0M775.5 1116.6h0M857.8 1143.6h0M720.2 1139.8h0M820.4 1126.1h0M734.1 1139.6h0M724.5 1055.2h0M829.2 1131.5h0M832.7 1131.0h0M771.9 1139.8h0M719.0 1145.6h0M839.7 1149.6h0M733.1 1143.7h0M762.0 1148.4h0M837.6 1132.8h0M860.9 1147.4h0M750.0 1142.6h0M738.2 1128.0h0M825.3 1144.3h0M773.1 1133.8h0M848.6 1148.0h0M813.9 1106.7h0M835.8 1145.3h0M843.7 1124.8h0M857.0 1140.5h0M702.5 1127.6h0M715.6 1149.7h0M744.0 1133.4h0M725.7 1149.4h0M867.8 1148.4h0M861.1 1144.7h0M828.3 1133.6h0M750.1 1127.4h0M875.4 1147.0h0M768.1 1071.9h0M887.8 1073.1h0M763.9 1125.5h0M835.5 1143.8h0M850.0 1121.5h0M732.4 1131.7h0M876.7 1147.3h0M819.2 1144.2h0M855.4 1146.7h0M713.0 1145.1h0M721.7 1144.6h0M869.7 1123.4h0M826.3 1112.2h0M835.8 1143.2h0M702.6 1128.7h0M738.5 1139.7h0M763.1 1125.6h0M881.7 1131.2h0M829.5 1134.4h0M737.6 1147.4h0M863.7 1114.7h0M776.6 1138.3h0M839.1 1139.2h0M870.6 1146.2h0M822.6 1106.3h0M739.2 1117.6h0M815.3 1101.0h0M754.2 1128.9h0M739.8 1148.5h0M855.5 1147.8h0M770.5 1148.2h0M814.4 1136.9h0M868.0 1136.5h0M750.4 1134.6h0M835.8 1137.2h0M817.0 1120.1h0M764.1 1136.4h0M819.5 1118.1h0M774.2 1119.6h0M839.9 1144.5h0M828.0 1099.3h0M817.4 1145.2h0M770.8 1145.7h0M737.8 1091.9h0M737.7 1148.5h0M770.4 1080.6h0M837.7 1143.0h0M819.5 1104.8h0M775.1 1129.9h0M731.2 1138.0h0M741.0 1146.7h0M837.7 1137.5h0M908.6 1145.5h0M695.3 1149.4h0M866.2 1147.7h0M761.2 1146.5h0M841.8 1125.8h0M707.5 1147.9h0M856.9 1134.0h0M841.3 1147.3h0M848.6 1130.8h0M856.5 1146.9h0M743.8 1140.3h0M820.2 1126.8h0M728.8 1129.1h0M775.6 1134.0h0M860.6 1146.4h0M765.4 1143.1h0M754.2 1140.5h0" stroke="#EE0000" stroke-opacity="0.5" stroke-width="5.8" stroke-linecap="round" fill="none"/>
<line x1="780.3" y1="827.1" x2="780.3" y2="1175.6" stroke="#333" stroke-width="1.1" stroke-dasharray="4.2 2.6"/>
<line x1="812.5" y1="827.1" x2="812.5" y2="1175.6" stroke="#333" stroke-width="1.1" stroke-dasharray="4.2 2.6"/>
<line x1="599.3" y1="1151.4" x2="991.9" y2="1151.4" stroke="#444" stroke-width="1.1" stroke-dasharray="4.2 2.6"/>
<line x1="599.3" y1="827.1" x2="599.3" y2="1175.6" stroke="#222" stroke-width="1.4"/>
<line x1="599.3" y1="1175.6" x2="991.9" y2="1175.6" stroke="#222" stroke-width="1.4"/>
<line x1="591.8" y1="849.8" x2="599.3" y2="849.8" stroke="#222" stroke-width="1.4"/>
<text x="580.8" y="857.4" font-size="22.00" text-anchor="end" stroke="#111" stroke-width="0.35" textLength="26.0" lengthAdjust="spacingAndGlyphs">50</text>
<line x1="591.8" y1="911.5" x2="599.3" y2="911.5" stroke="#222" stroke-width="1.4"/>
<text x="580.8" y="919.1" font-size="22.00" text-anchor="end" stroke="#111" stroke-width="0.35" textLength="26.0" lengthAdjust="spacingAndGlyphs">40</text>
<line x1="591.8" y1="973.5" x2="599.3" y2="973.5" stroke="#222" stroke-width="1.4"/>
<text x="580.8" y="981.1" font-size="22.00" text-anchor="end" stroke="#111" stroke-width="0.35" textLength="26.0" lengthAdjust="spacingAndGlyphs">30</text>
<line x1="591.8" y1="1035.5" x2="599.3" y2="1035.5" stroke="#222" stroke-width="1.4"/>
<text x="580.8" y="1043.1" font-size="22.00" text-anchor="end" stroke="#111" stroke-width="0.35" textLength="26.0" lengthAdjust="spacingAndGlyphs">20</text>
<line x1="591.8" y1="1097.1" x2="599.3" y2="1097.1" stroke="#222" stroke-width="1.4"/>
<text x="580.8" y="1104.7" font-size="22.00" text-anchor="end" stroke="#111" stroke-width="0.35" textLength="26.0" lengthAdjust="spacingAndGlyphs">10</text>
<line x1="591.8" y1="1159.1" x2="599.3" y2="1159.1" stroke="#222" stroke-width="1.4"/>
<text x="580.8" y="1166.7" font-size="22.00" text-anchor="end" stroke="#111" stroke-width="0.35" textLength="13.0" lengthAdjust="spacingAndGlyphs">0</text>
<line x1="685.6" y1="1175.6" x2="685.6" y2="1183.1" stroke="#222" stroke-width="1.4"/>
<text x="685.6" y="1212.1" font-size="22.00" text-anchor="middle" stroke="#111" stroke-width="0.35" textLength="24.8" lengthAdjust="spacingAndGlyphs">−4</text>
<line x1="796.5" y1="1175.6" x2="796.5" y2="1183.1" stroke="#222" stroke-width="1.4"/>
<text x="796.5" y="1212.1" font-size="22.00" text-anchor="middle" stroke="#111" stroke-width="0.35" textLength="13.0" lengthAdjust="spacingAndGlyphs">0</text>
<line x1="906.9" y1="1175.6" x2="906.9" y2="1183.1" stroke="#222" stroke-width="1.4"/>
<text x="906.9" y="1212.1" font-size="22.00" text-anchor="middle" stroke="#111" stroke-width="0.35" textLength="13.0" lengthAdjust="spacingAndGlyphs">4</text>
<text x="748.4" y="1248.7" font-size="25.50" stroke="#111" stroke-width="0.35" textLength="93.9" lengthAdjust="spacingAndGlyphs">log<tspan dy="7.1" font-size="18.4">2</tspan><tspan dy="-7.1">​</tspan>(FC)</text>
<text x="534.5" y="1001.0" font-size="25.50" text-anchor="middle" stroke="#111" stroke-width="0.35" transform="rotate(-90.00 534.5 1001.0)" textLength="100.0" lengthAdjust="spacingAndGlyphs">–log<tspan dy="7.1" font-size="18.4">10</tspan><tspan dy="-7.1">​</tspan>(<tspan font-style="italic">P</tspan>)</text>
<text x="869.9" y="868.5" font-size="21.70" stroke="#111" stroke-width="0.35" textLength="111.2" lengthAdjust="spacingAndGlyphs">DEGs 1,082</text>
<text x="869.9" y="898.7" font-size="21.70" stroke="#111" stroke-width="0.35" textLength="65.8" lengthAdjust="spacingAndGlyphs">Up 615</text>
<text x="869.9" y="928.8" font-size="21.70" stroke="#111" stroke-width="0.35" textLength="91.9" lengthAdjust="spacingAndGlyphs">Down 467</text>
<text x="1144.9" y="787.8" font-size="24.80" stroke="#111" stroke-width="0.35" textLength="309.5" lengthAdjust="spacingAndGlyphs">B-postPEAi_septum versus</text>
<text x="1218.1" y="818.8" font-size="24.80" stroke="#111" stroke-width="0.35" textLength="156.1" lengthAdjust="spacingAndGlyphs">B-prePEAi_RV</text>
<path d="M1298.8 1142.9 L1328.4 1142.9 L1328.4 1161.8 L1298.8 1161.8Z" fill="#4D4D4D"/>
<path d="M1309.6 1142.4 L1317.6 1142.4 L1313.6 1153.9Z" fill="#ffffff"/>
<path d="M1208.4 1161.8 L1208.4 1156.4 L1220.6 1156.4 L1244.3 1150.0 L1273.3 1142.9 L1298.8 1142.9 L1298.8 1161.8Z" fill="#228B22"/>
<path d="M1328.4 1161.8 L1328.4 1142.9 L1355.4 1142.9 L1368.8 1150.0 L1379.9 1156.4 L1397.0 1156.4 L1397.0 1161.8Z" fill="#228B22"/>
<path d="M1204.2 1149.9h0M1206.6 1156.4h0M1203.6 1146.7h0M1203.5 1155.5h0M1208.0 1156.2h0M1405.4 1155.7h0M1205.9 1151.2h0M1207.3 1153.7h0M1205.7 1157.1h0M1397.5 1157.5h0M1205.1 1157.1h0M1409.3 1157.9h0M1400.7 1143.2h0M1404.6 1156.7h0M1206.5 1156.2h0M1205.5 1156.6h0M1339.5 1150.0h0M1263.6 1145.6h0M1396.0 1150.8h0M1274.5 1150.3h0M1273.6 1150.8h0M1229.9 1149.1h0M1289.7 1151.2h0M1285.7 1145.6h0M1250.9 1152.2h0M1367.0 1153.3h0M1220.0 1144.8h0M1296.4 1154.1h0M1381.6 1153.8h0M1269.2 1143.2h0M1390.7 1145.8h0M1341.4 1153.1h0M1348.8 1147.4h0M1217.8 1142.9h0M1244.3 1144.7h0M1392.6 1154.4h0M1199.2 1155.9h0M1221.9 1143.5h0M1247.0 1148.1h0M1397.4 1155.7h0M1379.0 1150.0h0M1391.9 1145.3h0M1269.0 1142.7h0M1192.6 1149.8h0M1291.3 1145.9h0M1188.6 1156.4h0M1380.2 1148.2h0M1352.0 1155.4h0M1188.5 1148.8h0M1207.9 1146.8h0M1212.5 1147.4h0M1193.1 1145.6h0M1199.1 1151.1h0M1340.9 1151.9h0M1354.0 1153.0h0M1350.8 1149.8h0M1253.7 1156.2h0M1360.7 1149.0h0M1230.4 1145.7h0M1420.9 1156.5h0M1330.8 1155.2h0M1377.7 1142.8h0M1192.5 1142.8h0M1334.0 1154.0h0M1419.8 1143.1h0M1269.7 1154.2h0M1397.7 1145.0h0M1201.7 1147.6h0M1388.5 1155.2h0M1355.4 1149.4h0M1275.2 1156.5h0M1236.3 1153.4h0M1404.6 1146.8h0M1187.0 1150.5h0M1395.3 1153.3h0M1215.3 1149.7h0" stroke="#228B22" stroke-opacity="0.55" stroke-width="5.8" stroke-linecap="round" fill="none"/>
<path d="M1298.8 1142.9 L1298.8 1084.5 L1305.4 1084.5 L1313.5 1140.6 L1313.5 1142.9Z" fill="#4169E1"/>
<path d="M1328.4 1142.9 L1328.4 1104.5 L1319.6 1104.5 L1313.9 1140.6 L1313.9 1142.9Z" fill="#4169E1"/>
<path d="M1302.7 1039.7h0M1305.1 1069.6h0M1306.4 1074.6h0M1302.7 1084.5h0M1322.3 1102.0h0M1324.7 1110.7h0M1305.1 1094.5h0M1300.7 1099.0h0M1300.3 1117.3h0M1300.2 1099.4h0M1302.2 1109.3h0M1300.2 1088.9h0M1302.2 1082.3h0M1301.9 1090.5h0M1300.1 1109.5h0M1301.2 1117.6h0M1303.9 1114.4h0M1301.9 1086.2h0M1303.7 1094.8h0M1303.1 1111.4h0M1302.4 1109.2h0M1326.7 1114.5h0M1321.6 1115.4h0M1326.1 1114.6h0M1326.8 1109.7h0M1323.4 1103.6h0M1321.3 1117.6h0M1321.2 1102.7h0M1325.8 1116.1h0M1326.8 1102.2h0M1325.1 1121.7h0M1326.7 1126.4h0M1322.2 1121.8h0M1321.9 1107.8h0M1323.4 1103.4h0" stroke="#4169E1" stroke-opacity="0.6" stroke-width="5.8" stroke-linecap="round" fill="none"/>
<path d="M1281.9 1096.9h0M1293.7 1110.3h0M1268.3 1137.0h0M1264.7 1116.5h0M1291.0 1112.5h0M1291.6 1115.2h0M1295.1 1107.6h0M1295.4 1141.6h0M1292.5 1130.4h0M1297.9 1131.5h0M1295.3 1087.3h0M1286.7 1112.3h0M1258.0 1136.1h0M1291.7 1128.7h0M1260.8 1124.1h0M1290.3 1109.9h0M1284.0 1127.0h0M1284.4 1097.0h0M1276.0 1113.5h0M1286.8 1124.6h0M1253.5 1139.8h0M1283.6 1118.3h0M1265.4 1120.2h0M1290.7 1120.9h0M1262.5 1122.5h0M1281.5 1103.5h0M1273.4 1104.5h0M1281.8 1102.9h0M1292.0 1102.4h0M1285.7 1114.6h0M1287.8 1088.4h0M1283.4 1141.3h0M1274.4 1133.1h0M1293.2 1088.3h0M1280.5 1098.8h0M1289.1 1099.2h0M1272.5 1119.3h0M1292.0 1095.9h0M1287.8 1126.2h0M1273.9 1119.1h0M1294.6 1131.0h0M1288.4 1089.3h0M1295.4 1110.0h0M1294.9 1111.9h0M1281.9 1131.3h0M1291.6 1113.6h0M1294.4 1100.4h0M1278.3 1120.3h0M1284.8 1114.8h0M1287.4 1114.2h0M1290.7 1124.9h0M1289.6 1099.8h0M1298.0 1097.4h0M1279.0 1142.3h0M1266.7 1116.1h0M1270.3 1121.7h0M1264.1 1141.5h0M1285.7 1102.5h0M1270.1 1115.6h0M1292.7 1088.4h0M1283.2 1100.3h0M1291.1 1141.4h0M1262.0 1130.9h0M1258.2 1136.1h0M1261.1 1128.0h0M1259.0 1132.1h0M1292.1 1128.3h0M1289.7 1100.4h0M1281.4 1127.6h0M1259.9 1140.0h0M1288.5 1131.9h0M1292.2 1101.3h0M1280.8 1133.0h0M1267.0 1125.7h0M1288.5 1088.5h0M1269.4 1119.0h0M1291.8 1098.0h0M1271.6 1124.8h0M1261.6 1125.8h0M1268.7 1115.5h0M1267.2 1116.9h0M1296.9 1124.2h0M1287.1 1140.9h0M1298.1 1137.5h0M1268.1 1118.0h0M1273.0 1122.2h0M1298.5 1089.0h0M1294.4 1128.1h0M1261.6 1136.2h0M1294.6 1137.5h0M1265.1 1142.3h0M1295.3 1108.1h0M1255.4 1139.7h0M1269.3 1127.6h0M1277.4 1099.9h0M1269.1 1136.2h0M1263.3 1142.3h0M1292.9 1097.5h0M1268.4 1132.4h0M1285.5 1117.3h0M1283.4 1119.0h0M1296.6 1094.6h0M1282.2 1099.2h0M1286.3 1101.4h0M1290.6 1089.6h0M1277.9 1119.1h0M1286.4 1134.1h0M1288.8 1103.0h0M1275.8 1131.6h0M1297.9 1100.2h0M1279.7 1125.5h0" stroke="#EE0000" stroke-opacity="0.92" stroke-width="5.8" stroke-linecap="round" fill="none"/>
<path d="M1328.8 1136.4h0M1346.2 1129.5h0M1363.7 1141.9h0M1350.3 1134.7h0M1347.8 1136.6h0M1354.7 1124.2h0M1340.2 1108.1h0M1338.4 1142.3h0M1336.1 1128.0h0M1350.4 1117.0h0M1342.7 1131.3h0M1339.4 1104.6h0M1363.2 1141.4h0M1345.3 1114.5h0M1358.5 1137.4h0M1353.9 1122.8h0M1352.0 1133.6h0M1356.6 1139.6h0M1340.3 1128.3h0M1330.0 1103.7h0M1355.5 1138.8h0M1331.7 1113.0h0M1333.6 1103.3h0M1330.7 1112.3h0M1345.6 1128.8h0M1343.0 1117.2h0M1339.5 1123.5h0M1345.7 1138.2h0M1351.2 1137.8h0M1330.9 1110.1h0M1345.8 1125.2h0M1330.0 1141.7h0M1345.7 1120.7h0M1347.9 1120.5h0M1361.6 1141.8h0M1348.9 1140.4h0M1353.4 1135.0h0M1343.0 1116.4h0M1339.9 1123.1h0M1349.7 1117.7h0M1334.4 1126.1h0M1357.7 1127.1h0M1351.1 1122.2h0M1338.0 1128.8h0M1333.5 1107.7h0M1358.1 1138.3h0M1340.1 1132.6h0M1347.1 1135.1h0M1340.0 1114.6h0M1351.0 1132.7h0M1340.1 1140.0h0M1348.5 1133.0h0M1348.8 1115.5h0M1347.2 1127.4h0M1332.9 1118.2h0M1329.2 1113.6h0M1330.4 1127.5h0M1329.2 1131.7h0M1328.6 1106.5h0M1336.3 1130.4h0M1356.7 1132.6h0M1330.2 1132.0h0M1347.5 1134.6h0M1334.7 1134.5h0" stroke="#EE0000" stroke-opacity="0.92" stroke-width="5.8" stroke-linecap="round" fill="none"/>
<path d="M1282.5 1088.3h0M1282.7 1089.3h0M1271.5 1109.3h0M1291.7 1031.0h0M1345.6 1088.2h0M1370.4 1111.9h0M1294.1 1114.8h0M1365.4 1133.2h0M1428.4 1135.4h0M1371.3 1137.0h0M1259.1 1138.1h0M1296.5 984.9h0M1363.3 1129.7h0M1333.4 1108.3h0M1276.1 1115.0h0M1249.4 1126.3h0M1290.7 1095.1h0M1295.2 1101.7h0M1293.1 1061.3h0M1346.2 1132.5h0M1358.6 1123.7h0M1262.1 1108.5h0M1355.8 1085.8h0M1293.7 1108.2h0M1361.1 1123.5h0M1293.2 1113.1h0M1361.2 1128.9h0M1340.0 1085.9h0M1259.9 1131.3h0M1370.1 1139.0h0M1278.9 1130.0h0M1288.1 1101.8h0M1256.6 1138.1h0M1409.2 1134.8h0M1260.4 1095.1h0M1248.6 1138.4h0M1364.1 1136.3h0M1249.9 1136.5h0M1374.6 1134.5h0M1290.4 1121.4h0M1261.5 1132.1h0M1354.5 1090.5h0M1250.6 1135.4h0M1288.9 1095.4h0M1366.0 1138.4h0M1250.9 1132.7h0M1345.5 1126.7h0M1273.2 1107.8h0M1294.7 1066.3h0M1258.0 1119.4h0M1280.8 1137.3h0M1294.3 1127.6h0M1365.1 1124.6h0M1361.3 1133.7h0M1285.7 1091.9h0M1374.0 1135.6h0M1281.1 1117.6h0M1242.9 1127.1h0M1298.7 1137.7h0M1285.2 1100.3h0M1330.4 1074.2h0M1280.4 1084.2h0M1283.3 1137.3h0M1346.8 1059.6h0M1333.5 1125.0h0M1367.8 1138.3h0M1328.7 1123.3h0M1231.1 1110.5h0M1363.1 1137.2h0M1409.9 1133.3h0M1331.9 1098.5h0M1346.2 1127.7h0M1340.1 1100.8h0M1293.8 1127.6h0M1297.2 1132.7h0M1357.6 1136.5h0M1333.6 1080.6h0M1351.4 1130.4h0M1159.4 1095.8h0M1435.2 1137.3h0M1352.2 1139.2h0M1263.5 1093.6h0M1347.7 1120.8h0M1338.0 1135.6h0M1276.4 1104.9h0M1362.0 1103.2h0M1328.9 1098.6h0M1283.8 1103.6h0M1288.7 1081.1h0M1401.9 1135.6h0M1162.7 1134.7h0M1244.6 1133.0h0M1274.9 1112.4h0M1285.2 1064.9h0M1333.7 1110.2h0M1257.3 1135.9h0M1285.3 1093.1h0M1243.4 1133.5h0M1331.3 1113.5h0M1279.2 1108.0h0M1331.3 1102.2h0M1283.9 1070.8h0M1250.7 1122.1h0M1296.0 1122.6h0M1287.5 1112.7h0M1259.2 1128.7h0M1372.6 1137.1h0M1329.4 1117.6h0M1271.8 1131.4h0M1220.6 1033.5h0M1364.5 1129.0h0M1352.4 1107.0h0M1264.0 1135.8h0M1356.6 1122.5h0M1335.1 1136.6h0M1365.3 1127.2h0M1286.8 973.6h0M1341.0 1138.5h0M1289.9 1133.7h0M1350.5 1109.7h0M1237.8 1040.9h0M1254.9 1134.1h0M1330.8 1114.7h0M1358.7 1131.8h0M1259.1 1128.4h0M1335.6 1070.6h0M1357.8 1087.3h0M1336.7 1119.0h0M1373.4 1139.6h0M1364.2 1127.9h0M1404.4 1049.7h0M1332.7 1111.3h0M1359.6 1113.5h0M1355.6 1123.0h0M1273.5 1104.6h0M1239.9 1116.4h0M1295.8 1050.2h0M1197.1 1136.5h0M1356.5 1093.4h0M1343.6 1133.8h0M1367.6 1133.5h0M1281.9 1037.2h0M1282.2 1073.7h0M1241.0 1135.6h0M1251.3 1138.2h0M1259.0 1122.6h0M1249.6 1124.8h0M1286.2 1127.5h0M1252.5 1091.6h0M1262.1 1125.1h0M1265.7 1086.7h0M1336.8 1095.5h0M1367.6 1127.4h0M1259.7 1097.7h0M1279.6 1050.6h0M1293.1 1136.0h0M1360.9 1137.2h0M1329.3 1137.1h0M1277.3 1103.8h0M1296.9 1118.0h0M1359.0 1130.7h0M1364.4 1124.8h0M1276.1 1111.2h0M1338.2 1059.6h0M1373.0 1139.5h0M1260.6 1121.6h0M1339.1 1112.7h0M1357.3 1130.8h0M1262.6 1101.0h0M1362.3 1130.6h0M1276.2 1123.0h0M1288.0 1102.4h0M1236.3 1112.3h0M1295.6 1083.9h0M1341.5 1121.3h0M1419.0 1115.7h0M1261.3 1103.6h0M1299.0 1135.3h0M1349.3 1114.9h0M1253.4 1129.0h0M1368.8 1135.1h0M1358.4 1135.1h0M1386.2 1107.2h0M1296.5 1131.1h0M1367.3 1125.7h0M1287.0 1073.5h0M1371.1 1136.4h0M1331.1 1134.8h0M1297.8 1007.3h0M1274.0 1126.1h0M1278.6 1115.1h0M1337.4 1082.9h0M1261.3 1126.1h0M1281.3 1072.6h0M1282.5 1076.9h0M1284.8 1081.1h0M1334.8 1072.1h0M1368.3 1133.5h0M1334.3 1107.6h0M1254.9 1129.9h0M1293.6 1101.4h0M1337.5 1079.4h0M1344.8 1131.4h0M1284.1 1065.6h0M1335.3 1074.8h0M1329.2 1106.6h0M1268.8 1086.5h0M1364.7 1130.6h0M1329.9 1104.5h0M1344.4 1139.5h0M1347.9 1096.9h0M1280.7 1072.0h0M1342.6 1098.2h0M1261.2 1137.9h0M1265.9 1139.3h0M1334.4 1103.3h0M1348.6 1137.9h0M1341.1 1114.2h0M1259.9 1090.2h0M1284.2 1132.8h0M1266.3 1114.0h0M1264.9 1096.2h0M1251.4 1132.6h0M1289.6 1124.1h0M1342.7 1076.6h0M1260.0 1105.4h0M1291.2 1138.4h0M1339.6 1071.4h0M1358.2 1107.3h0M1349.0 1118.9h0M1261.9 1099.8h0" stroke="#EE0000" stroke-opacity="0.5" stroke-width="5.8" stroke-linecap="round" fill="none"/>
<path d="M1254.6 1132.1h0M1369.7 1134.1h0M1344.9 1111.5h0M1349.2 1114.4h0M1270.1 1136.5h0M1213.3 1123.4h0M1334.3 1129.9h0M1354.6 1131.4h0M1276.9 1135.0h0M1336.8 1129.6h0M1272.3 1098.7h0M1360.2 979.9h0M1244.0 1138.1h0M1276.5 1071.2h0M1333.6 1134.4h0M1226.3 1114.0h0M1294.9 1069.8h0M1269.4 1131.7h0M1370.3 1109.4h0M1248.5 1138.6h0M1342.0 1113.2h0M1443.5 1132.3h0M1345.6 1103.2h0M1338.2 1128.4h0M1351.2 1120.0h0M1272.0 1009.8h0M1416.6 1107.0h0M1183.9 1138.1h0M1275.0 1102.5h0M1298.6 1041.9h0M1346.1 1126.7h0M1339.4 1136.4h0M1357.3 1128.5h0M1347.9 1108.5h0M1361.7 1135.4h0M1266.7 1107.1h0M1345.4 1075.4h0M1283.1 1084.5h0M1343.7 1093.4h0M1332.7 1088.4h0M1359.7 1129.7h0M1332.2 1133.0h0M1413.8 1116.0h0M1351.1 1121.7h0M1417.6 1123.0h0M1334.1 1131.0h0M1352.4 1091.0h0M1352.0 1127.3h0M1362.8 1120.8h0M1335.0 1104.4h0M1333.2 1105.2h0M1188.8 1128.1h0M1337.2 1116.1h0M1347.2 1112.2h0M1250.3 1137.3h0M1362.1 1125.5h0M1339.2 1124.4h0M1281.1 1096.7h0M1267.5 1078.7h0M1265.7 1131.0h0M1269.4 1130.5h0M1261.1 1122.6h0M1259.3 1120.8h0M1271.3 1073.0h0M1355.5 1127.1h0M1280.8 1084.0h0M1285.8 1099.3h0M1276.5 1093.4h0M1358.2 1113.8h0M1257.9 1111.6h0M1274.5 936.3h0M1280.9 1127.4h0M1349.4 1086.4h0M1262.5 1121.7h0M1277.8 1113.5h0M1252.8 1087.0h0M1347.0 1102.2h0M1347.5 1091.5h0M1336.7 1106.9h0M1268.4 1016.0h0M1338.9 1124.6h0M1255.4 1105.6h0M1353.0 1137.7h0M1392.1 1049.7h0M1335.9 1138.5h0M1292.9 936.3h0M1351.5 1098.3h0M1369.1 1088.6h0M1253.8 1131.9h0M1334.5 1091.0h0M1261.5 1110.0h0M1348.7 1109.0h0M1284.8 1114.0h0M1372.8 1135.4h0M1273.1 1070.5h0M1372.4 1139.3h0M1349.5 1099.4h0M1270.4 1107.0h0M1363.4 1136.5h0M1258.6 1094.1h0M1340.6 1110.6h0M1269.0 1123.7h0M1335.3 1133.3h0M1293.4 1059.4h0M1219.7 1119.1h0M1349.2 1125.9h0M1285.9 1106.4h0M1273.8 1135.7h0M1273.1 1122.3h0M1330.2 1078.0h0M1258.6 1135.5h0M1446.0 1105.7h0M1293.6 1133.1h0M1254.7 1118.2h0M1239.0 1135.9h0M1373.5 1136.7h0M1370.7 1134.7h0M1252.5 1052.1h0M1296.7 1120.5h0M1275.7 897.6h0M1259.3 1119.2h0M1368.3 1129.3h0M1342.3 1125.1h0M1257.9 1128.4h0M1274.2 1073.0h0M1331.5 1068.3h0M1356.3 1118.4h0M1334.5 1116.2h0M1361.8 1136.7h0M1356.2 1122.1h0M1338.8 1114.2h0M1346.6 1124.8h0M1261.7 1088.0h0M1212.4 1118.6h0M1282.3 1108.5h0M1351.2 1098.1h0M1270.3 1107.8h0M1281.5 1111.8h0M1256.3 1111.9h0M1339.1 1124.0h0M1267.2 1119.8h0M1338.8 1108.1h0M1275.2 1137.4h0M1436.2 1077.1h0M1161.8 1120.7h0M1290.8 1123.0h0M1252.1 1135.6h0M1333.1 1126.4h0M1276.9 1100.4h0M1371.1 1133.2h0M1288.8 1111.0h0M1348.0 1126.5h0M1345.3 1084.7h0M1201.0 920.1h0M1286.0 1129.4h0M1255.7 1128.0h0M1287.4 1105.7h0M1345.5 1043.4h0M1293.1 1080.3h0M1362.3 1128.8h0M1273.3 1137.0h0M1339.5 1096.7h0M1245.6 1112.0h0M1353.1 1132.5h0M1298.2 1127.4h0M1298.6 1119.5h0M1281.1 1084.1h0M1294.7 1109.8h0M1357.6 1128.3h0M1297.6 1073.4h0M1354.4 1095.6h0M1297.5 1103.6h0M1266.4 1136.9h0M1347.1 1135.4h0M1366.6 1127.5h0M1362.3 1118.6h0M1244.9 1136.8h0M1279.2 1075.4h0M1363.2 1132.2h0M1273.8 1133.4h0M1345.5 1104.2h0M1341.5 1081.5h0M1374.3 1136.8h0M1412.4 1130.0h0M1258.1 1126.7h0M1266.2 1125.4h0M1231.8 1129.7h0M1358.6 1121.9h0M1333.4 1085.9h0M1271.5 1128.9h0M1336.1 1136.8h0M1331.5 1097.9h0M1245.8 1139.4h0M1182.4 1131.7h0M1266.7 1091.2h0M1333.9 1080.6h0M1237.3 1133.1h0M1298.7 1065.3h0M1334.1 1093.7h0M1364.4 1137.4h0M1336.0 1093.2h0M1356.0 1128.6h0M1372.9 1104.7h0M1261.2 1092.9h0M1337.7 1117.9h0M1275.0 1131.3h0M1280.5 1067.8h0M1233.4 1128.0h0M1262.2 989.8h0M1370.3 1124.9h0M1366.1 1123.0h0M1234.2 1134.6h0M1344.8 1119.5h0M1369.5 1134.0h0M1225.0 1125.1h0M1335.8 1109.3h0M1283.6 1101.8h0M1278.6 1057.7h0M1358.1 1131.8h0M1366.7 1130.3h0M1339.8 1113.2h0M1287.9 1101.5h0M1274.6 1138.4h0M1249.3 1130.4h0M1355.1 1132.5h0M1275.4 1115.4h0M1249.8 1136.3h0M1279.0 1125.6h0M1266.8 1138.6h0M1401.3 1136.6h0M1426.7 1135.3h0" stroke="#EE0000" stroke-opacity="0.5" stroke-width="5.8" stroke-linecap="round" fill="none"/>
<path d="M1286.0 1118.2h0M1342.0 1128.4h0M1338.7 1121.3h0M1266.3 1105.7h0M1342.7 1133.8h0M1290.6 1130.1h0M1394.6 1132.6h0M1345.6 1096.8h0M1352.6 1114.9h0M1353.4 1106.0h0M1267.6 1120.3h0M1336.4 1127.8h0M1287.4 1121.5h0M1367.5 1096.7h0M1340.1 1089.2h0M1272.8 897.6h0M1352.9 1113.0h0M1279.4 957.4h0M1342.8 1103.1h0M1221.2 1123.1h0M1289.3 1119.2h0M1261.0 1009.8h0M1366.7 1135.3h0M1245.6 1135.4h0M1344.2 1106.7h0M1255.0 1132.4h0M1369.9 1138.7h0M1343.4 1117.0h0M1261.5 1080.8h0M1350.5 1029.7h0M1342.8 1111.5h0M1219.4 1123.3h0M1443.5 1013.5h0M1374.2 1127.5h0M1365.7 1119.2h0M1334.0 1087.6h0M1285.5 1114.3h0M1365.2 906.4h0M1250.4 1135.0h0M1221.4 1126.2h0M1284.5 1064.7h0M1297.1 1138.0h0M1352.2 1116.7h0M1263.1 1112.1h0M1277.6 1050.1h0M1433.8 1110.7h0M1291.0 1111.0h0M1333.8 1138.6h0M1335.2 1086.1h0M1407.9 1119.2h0M1341.0 1104.0h0M1272.3 1070.4h0M1274.4 1119.0h0M1249.6 1129.6h0M1346.3 1137.1h0M1280.2 1138.3h0M1349.3 1124.1h0M1248.1 1135.8h0M1342.1 1111.2h0M1262.2 1123.6h0M1286.5 1089.5h0M1355.9 1110.8h0M1334.7 1115.5h0M1220.6 1077.1h0M1358.7 1133.9h0M1256.3 1133.4h0M1246.3 1139.7h0M1344.8 1098.7h0M1289.5 1100.2h0M1298.7 1114.5h0M1340.5 1100.1h0M1268.8 1107.4h0M1292.0 1121.1h0M1245.1 1139.1h0M1346.7 1137.9h0M1364.1 1131.5h0M1249.7 1139.4h0M1345.1 1130.7h0M1392.4 1134.7h0M1231.3 1120.8h0M1297.4 1083.7h0M1224.0 1117.1h0M1251.3 1120.3h0M1283.6 1135.7h0M1262.4 1132.5h0M1249.0 1136.9h0M1356.6 1135.5h0M1268.6 1106.5h0M1262.5 1114.2h0M1365.0 1137.4h0M1245.5 1139.2h0M1340.8 1105.0h0M1244.4 1138.4h0M1277.2 1137.4h0M1281.9 1103.0h0M1243.9 1132.6h0M1357.5 1130.1h0M1290.4 1107.8h0M1263.6 1136.7h0M1337.0 1111.5h0M1296.3 1096.1h0M1357.9 1136.4h0M1260.4 1135.7h0M1331.9 1121.9h0M1280.8 1134.6h0M1289.6 1111.9h0M1247.1 1137.5h0M1255.0 1131.2h0M1252.8 1121.6h0M1332.7 1115.1h0M1288.0 1127.5h0M1198.5 1104.5h0M1364.3 1122.2h0M1296.0 1075.7h0M1293.2 1104.1h0M1290.4 1104.5h0M1285.4 1093.4h0M1287.8 1073.5h0M1235.3 943.7h0M1271.9 1094.1h0M1378.4 1113.3h0M1248.2 1132.2h0M1369.7 1135.5h0M1296.0 1101.2h0M1343.1 1003.5h0M1174.0 1104.5h0M1368.6 1135.1h0M1358.3 1136.2h0M1185.8 1130.4h0M1291.2 1137.7h0M1363.8 1128.0h0M1337.9 1128.0h0M1349.7 1108.7h0M1293.2 1070.0h0M1290.2 1119.7h0M1401.5 1121.1h0M1365.0 1134.1h0M1272.9 1086.3h0M1258.2 1123.1h0M1290.0 1067.7h0M1262.3 1134.6h0M1290.6 1098.2h0M1343.1 1135.5h0M1261.8 1128.5h0M1335.6 1128.5h0M1255.3 1131.7h0M1350.4 1122.3h0M1270.3 1099.2h0M1367.3 1131.8h0M1347.2 1127.6h0M1176.5 1068.3h0M1348.5 1127.4h0M1369.9 1135.9h0M1355.4 1130.6h0M1285.4 1072.6h0M1360.5 1123.7h0M1340.9 1137.7h0M1290.5 1130.1h0M1268.6 1072.5h0M1336.3 1115.3h0M1370.1 1136.7h0M1291.5 1067.1h0M1288.3 1069.5h0M1347.8 1097.0h0M1298.3 1040.0h0M1341.1 1123.2h0M1375.0 1058.4h0M1294.3 1105.3h0M1265.3 1126.6h0M1364.4 1131.1h0M1282.8 1111.8h0M1282.2 1062.8h0M1347.4 1122.2h0M1252.8 1117.2h0M1288.3 1128.9h0M1275.3 1107.0h0M1367.6 1132.0h0M1259.0 1139.4h0M1271.8 1134.9h0M1262.0 1117.0h0M1330.8 1139.0h0M1367.2 1134.3h0M1341.7 1128.1h0M1276.1 1070.4h0M1273.8 1086.9h0M1275.2 1096.8h0M1278.0 1103.3h0M1262.4 1112.6h0M1339.6 1115.8h0M1330.3 1068.2h0M1414.4 1138.5h0M1336.8 1094.2h0M1336.2 1112.7h0M1271.8 1096.4h0M1283.5 1138.7h0M1277.8 1136.7h0M1341.0 1092.3h0M1334.4 1125.3h0M1386.4 1138.0h0M1364.2 1125.2h0M1263.1 1133.7h0M1256.2 1087.2h0M1288.1 1100.7h0M1363.9 1138.9h0M1287.0 1132.8h0M1293.6 1136.2h0M1346.5 1103.0h0M1256.7 1128.0h0M1339.8 1136.6h0M1245.0 1137.6h0M1340.9 1103.3h0M1294.2 1090.5h0M1372.6 1137.5h0M1353.9 1123.0h0M1234.5 1104.4h0M1273.4 1132.5h0M1340.6 1107.1h0M1291.3 1108.0h0M1336.2 1119.1h0M1242.1 1116.5h0M1244.7 1131.0h0M1272.8 1103.2h0M1250.6 1124.5h0M1384.8 1043.4h0M1432.9 1127.3h0M1296.1 1094.2h0M1279.9 1074.2h0M1333.2 1109.8h0M1435.8 1134.5h0M1245.3 1136.2h0M1355.2 1109.3h0M1293.8 1136.2h0M1296.6 1134.9h0" stroke="#EE0000" stroke-opacity="0.5" stroke-width="5.8" stroke-linecap="round" fill="none"/>
<line x1="1298.8" y1="827.8" x2="1298.8" y2="1175.6" stroke="#999" stroke-width="1.1" stroke-dasharray="4.2 2.6"/>
<line x1="1328.4" y1="827.8" x2="1328.4" y2="1175.6" stroke="#333" stroke-width="1.1" stroke-dasharray="4.2 2.6"/>
<line x1="1099.9" y1="1142.4" x2="1499.5" y2="1142.4" stroke="#444" stroke-width="1.1" stroke-dasharray="4.2 2.6"/>
<line x1="1099.9" y1="827.8" x2="1099.9" y2="1175.6" stroke="#222" stroke-width="1.4"/>
<line x1="1099.9" y1="1175.6" x2="1498.9" y2="1175.6" stroke="#222" stroke-width="1.4"/>
<line x1="1092.4" y1="910.2" x2="1099.9" y2="910.2" stroke="#222" stroke-width="1.4"/>
<text x="1081.3" y="917.8" font-size="22.00" text-anchor="end" stroke="#111" stroke-width="0.35" textLength="26.0" lengthAdjust="spacingAndGlyphs">20</text>
<line x1="1092.4" y1="1035.2" x2="1099.9" y2="1035.2" stroke="#222" stroke-width="1.4"/>
<text x="1081.3" y="1042.8" font-size="22.00" text-anchor="end" stroke="#111" stroke-width="0.35" textLength="26.0" lengthAdjust="spacingAndGlyphs">10</text>
<line x1="1092.4" y1="1159.3" x2="1099.9" y2="1159.3" stroke="#222" stroke-width="1.4"/>
<text x="1081.3" y="1166.9" font-size="22.00" text-anchor="end" stroke="#111" stroke-width="0.35" textLength="13.0" lengthAdjust="spacingAndGlyphs">0</text>
<line x1="1117.6" y1="1175.6" x2="1117.6" y2="1183.1" stroke="#222" stroke-width="1.4"/>
<text x="1117.6" y="1210.4" font-size="22.00" text-anchor="middle" stroke="#111" stroke-width="0.35" textLength="24.8" lengthAdjust="spacingAndGlyphs">−8</text>
<line x1="1215.5" y1="1175.6" x2="1215.5" y2="1183.1" stroke="#222" stroke-width="1.4"/>
<text x="1215.5" y="1210.4" font-size="22.00" text-anchor="middle" stroke="#111" stroke-width="0.35" textLength="24.8" lengthAdjust="spacingAndGlyphs">−4</text>
<line x1="1313.7" y1="1175.6" x2="1313.7" y2="1183.1" stroke="#222" stroke-width="1.4"/>
<text x="1313.7" y="1210.4" font-size="22.00" text-anchor="middle" stroke="#111" stroke-width="0.35" textLength="13.0" lengthAdjust="spacingAndGlyphs">0</text>
<line x1="1411.7" y1="1175.6" x2="1411.7" y2="1183.1" stroke="#222" stroke-width="1.4"/>
<text x="1411.7" y="1210.4" font-size="22.00" text-anchor="middle" stroke="#111" stroke-width="0.35" textLength="13.0" lengthAdjust="spacingAndGlyphs">4</text>
<text x="1252.7" y="1249.3" font-size="25.50" stroke="#111" stroke-width="0.35" textLength="94.3" lengthAdjust="spacingAndGlyphs">log<tspan dy="7.1" font-size="18.4">2</tspan><tspan dy="-7.1">​</tspan>(FC)</text>
<text x="1040.0" y="1001.0" font-size="25.50" text-anchor="middle" stroke="#111" stroke-width="0.35" transform="rotate(-90.00 1040.0 1001.0)" textLength="100.0" lengthAdjust="spacingAndGlyphs">–log<tspan dy="7.1" font-size="18.4">10</tspan><tspan dy="-7.1">​</tspan>(<tspan font-style="italic">P</tspan>)</text>
<text x="1389.7" y="868.0" font-size="21.70" stroke="#111" stroke-width="0.35" textLength="90.9" lengthAdjust="spacingAndGlyphs">DEGs 701</text>
<text x="1389.7" y="899.2" font-size="21.70" stroke="#111" stroke-width="0.35" textLength="63.5" lengthAdjust="spacingAndGlyphs">Up 306</text>
<text x="1389.7" y="930.2" font-size="21.70" stroke="#111" stroke-width="0.35" textLength="88.7" lengthAdjust="spacingAndGlyphs">Down 395</text>
<text x="1653.2" y="787.7" font-size="24.80" stroke="#111" stroke-width="0.35" textLength="314.0" lengthAdjust="spacingAndGlyphs">B-postPEAs_septum versus</text>
<text x="1725.4" y="818.6" font-size="24.80" stroke="#111" stroke-width="0.35" textLength="161.3" lengthAdjust="spacingAndGlyphs">B-prePEAs_RV</text>
<path d="M1774.0 1144.4 L1799.3 1144.4 L1799.3 1158.9 L1774.0 1158.9Z" fill="#4D4D4D"/>
<path d="M1781.7 1143.9 L1791.7 1143.9 L1786.7 1153.4Z" fill="#ffffff"/>
<path d="M1705.3 1158.9 L1705.3 1153.5 L1705.3 1153.5 L1716.9 1149.5 L1731.1 1144.4 L1774.0 1144.4 L1774.0 1158.9Z" fill="#228B22"/>
<path d="M1799.3 1158.9 L1799.3 1144.4 L1851.1 1144.4 L1870.0 1149.5 L1885.4 1153.5 L1894.0 1153.5 L1894.0 1158.9Z" fill="#228B22"/>
<path d="M1908.6 1153.3h0M1692.3 1153.9h0M1905.8 1156.0h0M1704.6 1152.8h0M1704.0 1154.8h0M1895.1 1147.2h0M1895.4 1153.5h0M1704.8 1153.7h0M1903.4 1153.0h0M1898.0 1155.3h0M1903.6 1150.0h0M1701.8 1145.9h0M1703.4 1155.9h0M1698.7 1149.5h0M1896.6 1155.4h0M1704.3 1155.2h0M1900.7 1148.7h0M1717.9 1152.1h0M1817.5 1153.6h0M1802.9 1149.7h0M1724.0 1147.3h0M1831.5 1147.6h0M1725.6 1144.1h0M1845.6 1152.6h0M1841.7 1145.8h0M1711.0 1147.7h0M1839.7 1151.0h0M1697.9 1147.9h0M1872.2 1152.8h0M1895.1 1146.3h0M1868.8 1144.8h0M1847.6 1151.7h0M1737.9 1148.2h0M1892.1 1146.1h0M1761.7 1146.3h0M1763.2 1144.8h0M1817.2 1148.1h0M1899.3 1151.7h0M1715.5 1148.2h0M1718.6 1153.0h0M1726.3 1145.4h0M1706.3 1146.0h0M1879.9 1151.8h0M1702.4 1146.5h0M1834.1 1150.1h0M1883.8 1144.1h0M1812.1 1151.4h0M1809.5 1149.5h0M1888.3 1153.9h0M1856.0 1153.1h0M1726.9 1144.4h0M1744.7 1150.7h0M1837.7 1153.2h0M1715.4 1151.2h0M1895.4 1144.7h0M1734.3 1151.1h0" stroke="#228B22" stroke-opacity="0.55" stroke-width="5.8" stroke-linecap="round" fill="none"/>
<path d="M1774.0 1144.4 L1774.0 1118.0 L1779.1 1118.0 L1786.6 1148.7 L1786.6 1144.4Z" fill="#4169E1"/>
<path d="M1799.3 1144.4 L1799.3 1122.8 L1793.2 1122.8 L1787.0 1148.7 L1787.0 1144.4Z" fill="#4169E1"/>
<path d="M1775.7 1129.0h0M1776.6 1133.4h0M1775.7 1133.1h0M1774.8 1129.5h0M1775.8 1126.0h0M1775.3 1125.2h0M1775.8 1121.8h0M1777.4 1134.6h0M1776.5 1120.8h0M1775.8 1116.5h0M1775.5 1119.4h0M1775.8 1116.7h0M1776.5 1117.2h0M1777.5 1130.1h0M1798.3 1133.7h0M1794.7 1126.8h0M1796.5 1137.4h0M1796.1 1128.7h0M1795.6 1137.6h0M1797.6 1123.2h0M1795.7 1124.1h0M1795.4 1126.7h0M1798.6 1132.8h0M1795.8 1134.3h0M1798.2 1134.2h0M1797.0 1126.3h0M1796.5 1123.6h0M1797.8 1122.5h0" stroke="#4169E1" stroke-opacity="0.6" stroke-width="5.8" stroke-linecap="round" fill="none"/>
<path d="M1756.3 1117.0h0M1765.9 1127.0h0M1764.1 1124.6h0M1745.9 1131.5h0M1773.2 1126.3h0M1762.9 1106.6h0M1758.5 1130.6h0M1753.9 1121.7h0M1767.2 1140.8h0M1773.7 1131.1h0M1773.9 1129.1h0M1768.5 1105.0h0M1755.9 1113.1h0M1771.1 1127.0h0M1759.9 1114.9h0M1766.4 1108.6h0M1768.4 1110.0h0M1743.4 1142.0h0M1773.5 1122.8h0M1749.9 1123.4h0M1763.7 1110.1h0M1767.5 1131.6h0M1771.8 1102.8h0M1768.6 1130.0h0M1742.8 1139.6h0M1743.9 1143.9h0M1766.4 1106.6h0M1769.8 1097.1h0M1762.4 1126.1h0M1769.0 1139.4h0M1763.7 1136.3h0M1753.5 1140.7h0M1752.2 1130.7h0M1764.5 1114.9h0M1767.1 1130.2h0M1754.4 1124.3h0M1751.0 1131.1h0M1753.6 1126.4h0M1765.5 1121.6h0M1769.4 1103.2h0M1760.9 1132.5h0M1760.1 1111.9h0M1773.0 1119.9h0M1755.9 1120.1h0M1745.6 1142.4h0M1755.2 1132.9h0M1761.9 1135.8h0M1739.8 1142.1h0M1767.8 1132.2h0M1771.5 1133.2h0M1759.4 1124.5h0M1772.4 1101.6h0M1755.7 1121.8h0M1761.7 1111.8h0M1766.1 1118.5h0M1763.5 1122.0h0M1768.6 1119.8h0M1771.4 1130.5h0M1772.7 1117.9h0M1768.1 1126.5h0M1751.1 1134.9h0M1742.5 1138.5h0M1768.6 1118.4h0M1758.1 1121.3h0M1769.5 1117.0h0M1757.7 1130.7h0M1755.2 1139.3h0M1772.5 1110.1h0M1768.4 1113.4h0M1747.4 1141.3h0M1770.2 1096.8h0M1773.3 1138.5h0M1766.4 1115.1h0M1756.4 1114.7h0M1744.2 1142.2h0M1765.7 1104.0h0M1759.3 1127.2h0M1739.8 1142.3h0M1766.3 1108.3h0M1765.5 1129.1h0M1764.7 1113.5h0M1772.9 1120.3h0M1769.2 1130.5h0M1757.1 1126.3h0M1770.7 1125.4h0M1743.9 1138.5h0M1757.8 1135.5h0M1745.6 1137.9h0M1773.8 1137.7h0M1766.8 1122.8h0M1772.6 1115.7h0M1761.5 1110.2h0M1760.3 1111.8h0M1750.7 1138.2h0M1753.3 1139.7h0M1761.6 1131.7h0M1763.8 1122.6h0M1747.8 1128.4h0M1766.5 1136.3h0M1770.8 1123.3h0M1745.3 1139.9h0M1763.5 1131.2h0M1744.2 1132.2h0M1762.3 1130.7h0M1766.0 1118.4h0M1761.8 1124.8h0M1766.0 1108.4h0M1744.2 1136.1h0M1761.8 1133.4h0M1768.8 1143.1h0M1738.7 1141.2h0M1767.6 1103.0h0M1751.5 1132.9h0M1767.6 1126.1h0M1767.7 1121.5h0M1770.3 1114.4h0M1758.6 1136.9h0M1761.0 1124.9h0M1761.6 1112.7h0M1747.2 1131.4h0M1770.8 1136.5h0M1766.6 1121.7h0M1757.0 1118.6h0M1767.3 1139.4h0M1740.9 1139.5h0M1764.5 1134.7h0" stroke="#EE0000" stroke-opacity="0.92" stroke-width="5.8" stroke-linecap="round" fill="none"/>
<path d="M1829.3 1140.9h0M1826.2 1133.6h0M1810.0 1110.5h0M1802.2 1131.5h0M1801.0 1101.5h0M1831.9 1141.9h0M1803.7 1119.6h0M1828.8 1131.8h0M1815.0 1114.5h0M1813.7 1141.8h0M1824.4 1127.9h0M1799.8 1115.4h0M1800.4 1113.1h0M1805.3 1125.5h0M1812.7 1136.2h0M1837.3 1142.2h0M1835.5 1141.3h0M1818.1 1143.5h0M1810.5 1129.2h0M1800.4 1143.7h0M1815.7 1122.0h0M1804.7 1111.0h0M1805.4 1126.0h0M1825.7 1134.0h0M1805.9 1123.8h0M1801.6 1138.5h0M1812.7 1114.8h0M1804.4 1124.0h0M1816.9 1138.1h0M1808.7 1139.7h0M1818.5 1116.7h0M1824.0 1137.7h0M1810.5 1128.8h0M1806.4 1107.8h0M1828.1 1128.9h0M1814.7 1138.0h0M1810.9 1140.6h0M1826.8 1128.1h0M1809.8 1111.7h0M1804.6 1117.8h0M1824.1 1128.6h0M1803.1 1107.8h0M1823.1 1123.0h0M1802.2 1131.0h0M1803.0 1106.9h0M1816.1 1128.5h0M1819.7 1119.5h0M1823.0 1136.1h0M1803.8 1139.5h0M1823.4 1128.9h0M1812.2 1116.8h0M1807.4 1123.5h0M1813.5 1119.9h0M1811.3 1127.5h0M1806.2 1135.5h0M1815.1 1116.7h0M1814.4 1115.7h0M1808.1 1106.7h0M1806.4 1119.8h0M1826.1 1139.9h0M1802.9 1126.0h0M1827.7 1136.4h0M1805.4 1104.2h0M1803.9 1122.3h0M1809.2 1106.4h0M1822.3 1122.9h0M1805.7 1109.1h0M1825.2 1138.7h0M1821.5 1123.9h0M1819.9 1141.1h0M1813.9 1113.2h0M1807.8 1115.9h0M1827.8 1143.4h0M1799.8 1107.0h0M1809.0 1133.0h0M1811.5 1114.0h0M1810.8 1137.6h0M1820.2 1128.1h0M1810.9 1107.2h0M1812.9 1125.9h0M1809.3 1139.8h0M1815.8 1115.0h0M1804.0 1141.8h0M1821.8 1124.4h0M1832.6 1137.8h0M1825.2 1128.9h0M1825.9 1134.9h0M1817.2 1139.1h0M1823.2 1124.1h0M1832.4 1138.9h0M1818.7 1124.3h0M1802.0 1136.3h0M1818.9 1126.7h0M1800.2 1121.1h0M1808.7 1109.1h0M1808.1 1138.2h0M1816.7 1115.0h0M1812.2 1126.0h0M1819.7 1129.0h0M1830.8 1136.8h0M1814.1 1122.6h0M1805.4 1122.9h0M1815.2 1127.4h0M1810.0 1127.8h0M1821.8 1127.5h0M1825.9 1138.4h0M1808.2 1116.6h0M1805.6 1138.2h0M1826.9 1141.6h0M1814.5 1133.2h0M1812.9 1135.7h0" stroke="#EE0000" stroke-opacity="0.92" stroke-width="5.8" stroke-linecap="round" fill="none"/>
<path d="M1813.1 1117.5h0M1763.9 1059.8h0M1732.1 1141.5h0M1745.7 1124.6h0M1813.1 1113.2h0M1820.9 1108.6h0M1767.0 1087.1h0M1825.4 1140.8h0M1756.5 1121.1h0M1804.7 1111.7h0M1805.4 1068.2h0M1768.2 1141.8h0M1846.3 1138.7h0M1820.4 1086.1h0M1813.3 1120.0h0M1675.9 1130.8h0M1770.9 1127.5h0M1826.9 1134.1h0M1732.3 1140.3h0M1807.1 1078.4h0M1771.2 1135.1h0M1760.3 1087.8h0M1734.2 1141.9h0M1812.3 1134.8h0M1756.1 1127.1h0M1829.6 1137.9h0M1817.3 1131.0h0M1814.4 1108.2h0M1771.8 1108.5h0M1731.2 1141.6h0M1745.7 1132.0h0M1820.9 1124.4h0M1751.1 1118.4h0M1769.6 1123.9h0M1815.0 1122.0h0M1750.3 1115.1h0M1736.2 1141.0h0M1808.2 1094.7h0M1813.2 1120.1h0M1816.2 1136.0h0M1800.2 1127.3h0M1732.7 1088.3h0M1730.6 1134.4h0M1738.6 1132.7h0M1752.3 1100.6h0M1768.1 1131.4h0M1862.7 1111.4h0M1816.5 1124.1h0M1731.4 1137.6h0M1737.5 1124.7h0M1762.3 1123.0h0M1754.5 1104.8h0M1804.4 1121.2h0M1754.0 1124.5h0M1735.0 1135.4h0M1738.5 1132.7h0M1771.3 1122.7h0M1755.9 1124.9h0M1846.8 1031.5h0M1701.2 1137.8h0M1683.9 1133.3h0M1773.4 1132.8h0M1743.2 1138.2h0M1762.6 1104.3h0M1747.8 1116.0h0M1750.9 1104.5h0M1735.5 1129.2h0M1688.0 1141.0h0M1843.7 1135.3h0M1817.5 1101.6h0M1745.4 1126.2h0M1822.9 1128.4h0M1812.8 1078.2h0M1769.5 1104.1h0M1816.7 1091.6h0M1763.2 1140.7h0M1763.7 1070.2h0M1843.6 1136.2h0M1764.1 1109.6h0M1741.2 1128.2h0M1815.9 1096.6h0M1803.4 1123.4h0M1835.5 1120.2h0M1823.4 1135.2h0M1842.8 1141.8h0M1823.3 1111.0h0M1729.3 1138.5h0M1728.0 1139.2h0M1832.2 1124.2h0M1835.3 1133.0h0M1800.3 1138.5h0M1831.6 1120.0h0M1820.0 1126.9h0M1733.4 1135.4h0M1809.8 1110.0h0M1817.1 1080.8h0M1845.7 1141.5h0M1825.1 1129.0h0M1802.8 1118.6h0M1743.3 1127.3h0M1802.2 1141.9h0M1773.6 1114.1h0M1800.7 1115.6h0M1770.3 1110.5h0M1831.9 1133.0h0M1861.8 1060.3h0M1753.5 1115.2h0M1755.5 1107.0h0M1767.7 1135.8h0M1823.3 1122.2h0M1752.2 1130.4h0M1811.6 1126.2h0M1737.7 1097.6h0M1811.3 1123.5h0M1764.7 1105.2h0M1856.8 1139.2h0M1736.6 1138.0h0M1754.8 1083.7h0M1756.7 1140.3h0M1746.2 1084.0h0M1845.1 1141.9h0M1739.7 1082.2h0M1759.3 1091.5h0M1821.2 1138.6h0M1810.0 1113.0h0M1769.7 1114.9h0M1746.6 1124.7h0M1811.3 1103.4h0M1757.2 1138.5h0M1831.5 1122.3h0M1757.0 1088.5h0M1713.2 1137.2h0M1801.3 1129.5h0M1813.7 1140.5h0M1956.2 1040.1h0M1769.4 1115.6h0M1742.7 1085.7h0M1824.1 1102.5h0M1763.5 1111.0h0M1885.4 1071.8h0M1737.1 1122.6h0M1805.1 1126.6h0M1748.0 1094.4h0M1748.7 1122.3h0M1705.9 1136.3h0M1825.7 1106.2h0M1821.1 1086.8h0M1811.7 1121.2h0M1802.4 1138.7h0M1830.8 1132.0h0M1767.1 1105.8h0M1846.5 1141.8h0M1735.7 1095.9h0M1811.1 1101.7h0M1804.5 1112.3h0M1767.6 1079.5h0M1823.1 1131.1h0M1803.1 1123.9h0M1757.8 1098.1h0M1736.2 1128.6h0M1766.0 1068.2h0M1764.2 1125.4h0M1840.3 1132.2h0M1760.9 1068.1h0M1838.8 1136.6h0M1751.8 1136.9h0M1836.0 1132.6h0M1756.1 1141.7h0M1809.3 1106.5h0M1760.9 1101.1h0M1803.5 1135.0h0M1771.8 1124.5h0M1725.7 1140.3h0M1805.0 1099.3h0M1717.0 1125.8h0M1835.9 1129.1h0M1824.7 1118.9h0M1733.7 1139.9h0M1820.0 1136.5h0M1741.2 1130.0h0M1728.7 1116.6h0M1802.3 1129.6h0M1813.3 1125.7h0M1825.4 1045.9h0M1716.0 1071.8h0M1828.4 1135.7h0M1840.4 1131.0h0M1763.9 1064.6h0M1755.0 1092.0h0M1835.4 1119.9h0M1800.8 1119.0h0M1773.1 1134.2h0M1765.4 1137.5h0M1813.2 1126.9h0M1845.2 1138.8h0M1811.5 1111.6h0M1828.5 1135.1h0M1827.2 1130.4h0M1817.3 1089.1h0M1846.9 1138.3h0M1812.8 1133.1h0M1806.3 1108.5h0M1915.4 1135.3h0M1732.0 1138.7h0M1760.6 1100.3h0M1813.9 1122.1h0M1739.0 1128.4h0M1808.1 1126.4h0M1690.3 1045.9h0M1834.6 1128.0h0M1820.0 1083.8h0M1736.9 1141.0h0M1740.6 1139.0h0M1746.4 1129.0h0M1741.1 1132.0h0M1822.1 1116.8h0M1750.9 1090.6h0M1699.5 1130.3h0M1759.6 1115.9h0M1771.2 1115.1h0M1832.5 1121.8h0M1826.8 1107.5h0M1811.4 1122.5h0M1770.4 1115.5h0M1754.1 1128.4h0M1809.1 1094.5h0M1733.4 1135.7h0M1814.3 1084.9h0M1877.9 1135.6h0M1748.9 1119.7h0M1772.9 1128.1h0M1803.2 1135.9h0M1822.6 1135.3h0M1745.5 1131.6h0M1669.8 1124.3h0M1735.4 1135.3h0M1765.6 1111.1h0M1772.2 1092.9h0M1742.9 1142.0h0M1825.2 1086.7h0M1825.9 1110.5h0M1819.7 1141.5h0M1770.0 1094.6h0M1747.7 1128.1h0M1767.8 1059.5h0M1711.6 1121.8h0M1746.1 1032.4h0M1835.5 1121.2h0M1814.2 1108.2h0M1808.7 1091.2h0M1765.3 1097.2h0M1738.5 1135.0h0M1712.1 1133.6h0M1881.1 1082.4h0M1842.4 1125.2h0M1772.5 1113.2h0M1837.5 1131.5h0M1764.6 1076.3h0M1735.1 1137.7h0M1804.2 1114.4h0M1751.3 1133.6h0M1743.1 1124.9h0M1771.6 1092.6h0M1839.1 1139.1h0M1765.8 1107.5h0M1824.5 1101.5h0M1757.4 1123.1h0M1818.4 1140.8h0M1821.5 1112.6h0M1819.9 1128.6h0M1823.6 1135.0h0M1726.5 1110.8h0M1733.1 1104.6h0M1846.9 1139.8h0M1802.5 1093.1h0M1731.7 1140.9h0M1756.8 1141.0h0M1830.2 1140.8h0M1767.6 1082.1h0M1824.5 1127.1h0M1815.6 1128.1h0M1823.9 1130.0h0M1766.2 1088.3h0M1768.6 1103.1h0M1768.7 1091.4h0M1801.2 1110.7h0M1845.6 1130.9h0M1757.5 1126.8h0M1742.6 1095.4h0M1761.7 1135.0h0M1814.2 1122.4h0M1756.4 1116.2h0M1805.2 1087.7h0M1853.4 1139.7h0M1824.7 1105.8h0M1837.9 1126.2h0M1827.3 1136.3h0M1810.4 1104.8h0M1684.8 1139.8h0M1803.4 1106.2h0M1742.0 1138.3h0M1726.2 1109.7h0M1806.4 1122.5h0M1854.4 1136.1h0M1757.2 1125.2h0M1807.7 1110.9h0M1767.4 1097.0h0M1763.6 1111.2h0M1857.3 1140.7h0M1840.7 1134.8h0M1809.9 1109.5h0M1817.6 1128.4h0M1767.1 1134.1h0M1836.7 1137.3h0M1766.9 1111.0h0M1819.8 1085.0h0" stroke="#EE0000" stroke-opacity="0.5" stroke-width="5.8" stroke-linecap="round" fill="none"/>
<path d="M1846.5 1138.1h0M1765.1 1136.1h0M1664.6 1118.9h0M1733.5 1107.4h0M1739.7 1141.4h0M1760.6 1119.8h0M1839.7 1139.6h0M1844.5 1136.4h0M1731.1 1083.4h0M1845.6 1137.5h0M1758.7 1141.3h0M1845.3 1141.4h0M1766.4 1067.8h0M1825.3 1136.9h0M1745.7 1119.2h0M1831.6 1120.4h0M1766.7 1127.4h0M1828.1 1120.1h0M1854.8 1118.2h0M1758.8 1130.2h0M1823.2 1031.5h0M1824.7 1138.2h0M1838.4 1131.5h0M1770.3 1116.7h0M1835.4 1134.4h0M1750.3 1132.3h0M1768.9 1129.6h0M1803.0 1116.7h0M1859.5 1133.2h0M1801.9 1096.7h0M1835.0 909.4h0M1806.0 1126.6h0M1805.8 1125.5h0M1830.6 1117.2h0M1829.7 909.4h0M1740.3 1129.3h0M1771.3 1120.0h0M1847.0 1140.8h0M1762.8 1121.9h0M1770.3 1090.0h0M1771.7 1090.6h0M1751.5 1120.0h0M1812.2 1133.3h0M1730.3 1138.5h0M1833.1 1109.1h0M1771.4 1137.6h0M1809.7 1110.1h0M1813.1 1125.4h0M1754.9 1117.9h0M1750.6 1139.3h0M1754.7 1108.9h0M1823.0 1109.5h0M1805.6 1096.4h0M1771.0 1103.0h0M1848.9 1121.6h0M1738.2 1139.7h0M1831.7 1126.3h0M1661.4 1120.8h0M1754.6 999.8h0M1828.2 1132.0h0M1846.6 1141.6h0M1834.2 1125.5h0M1773.5 1112.8h0M1720.1 1104.2h0M1830.2 1124.4h0M1773.9 1121.4h0M1820.7 1139.6h0M1762.7 1138.4h0M1734.5 1140.6h0M1834.9 1084.4h0M1825.7 1130.4h0M1742.0 1141.9h0M1726.6 1140.6h0M1744.9 1136.7h0M1698.9 1096.8h0M1819.5 1131.2h0M1770.5 1050.2h0M1834.6 1126.8h0M1811.3 1110.6h0M1827.4 1090.7h0M1705.9 1137.1h0M1802.9 1107.3h0M1736.7 1111.3h0M1763.8 1129.3h0M1804.5 1122.0h0M1846.6 1141.5h0M1751.2 1127.0h0M1738.7 1122.8h0M1811.2 1113.0h0M1826.5 1110.5h0M1766.8 1074.1h0M1831.5 1116.6h0M1741.3 1135.7h0M1735.3 886.4h0M1821.3 1125.5h0M1733.9 1139.5h0M1827.9 1123.1h0M1811.0 1110.1h0M1769.9 1119.9h0M1820.2 1116.5h0M1884.4 1140.8h0M1842.2 1140.7h0M1752.9 1082.1h0M1817.8 1132.0h0M1751.0 1118.0h0M1814.8 1119.2h0M1827.4 1135.6h0M1840.0 1134.9h0M1807.7 1094.4h0M1827.1 1140.0h0M1817.7 1139.4h0M1752.5 1056.5h0M1813.3 1112.8h0M1846.0 1135.6h0M1770.6 1063.5h0M1741.3 1125.7h0M1826.8 1133.3h0M1830.6 1140.5h0M1759.2 1086.7h0M1732.7 1139.5h0M1819.6 1138.1h0M1816.9 1138.0h0M1800.9 1059.1h0M1770.3 1122.1h0M1807.4 1092.0h0M1808.1 1105.0h0M1803.9 1105.6h0M1841.6 1138.0h0M1824.1 1140.1h0M1840.5 1138.3h0M1771.6 1127.9h0M1834.8 1133.9h0M1857.3 1108.4h0M1806.3 1076.6h0M1842.2 1139.3h0M1732.9 1141.9h0M1770.9 1111.5h0M1831.4 1137.9h0M1819.0 1055.5h0M1745.5 1122.0h0M1738.3 1131.3h0M1738.3 1136.1h0M1762.4 1111.3h0M1769.3 1065.6h0M1767.5 1095.5h0M1740.6 1116.9h0M1818.4 1127.1h0M1767.9 1065.5h0M1841.5 1135.2h0M1746.4 1104.9h0M1804.6 1122.4h0M1750.9 1135.4h0M1723.2 1139.6h0M1802.8 1140.1h0M1742.8 1135.0h0M1820.3 1117.7h0M1835.8 1096.0h0M1738.4 1129.9h0M1816.9 1140.4h0M1760.7 1139.7h0M1837.0 1138.3h0M1835.3 1134.2h0M1872.9 1124.2h0M1773.5 1138.3h0M1818.8 1112.2h0M1804.9 1098.7h0M1749.9 1133.4h0M1747.7 1102.7h0M1855.1 1136.8h0M1759.7 1111.5h0M1842.3 1134.7h0M1772.0 1123.5h0M1768.1 1113.4h0M1760.0 1082.1h0M1760.7 1098.0h0M1819.2 1105.4h0M1751.2 1121.0h0M1824.7 1123.2h0M1762.1 1026.7h0M1736.2 1141.4h0M1738.7 1130.3h0M1801.9 1108.2h0M1737.6 1137.6h0M1831.4 1137.9h0M1831.4 1139.8h0M1805.4 1120.0h0M1804.6 1140.0h0M1831.4 1141.0h0M1767.7 1117.4h0M1762.9 1066.2h0M1802.5 1140.3h0M1832.4 1140.8h0M1755.8 1112.7h0M1746.6 1103.4h0M1765.6 1140.2h0M1832.9 1137.2h0M1737.4 1134.7h0M1772.3 1124.0h0M1842.4 1134.8h0M1739.6 1063.2h0M1761.5 1089.3h0M1821.6 1106.9h0M1741.2 1116.2h0M1753.3 1110.2h0M1730.6 1141.5h0M1746.3 1141.7h0M1834.8 1140.0h0M1839.8 1142.0h0M1773.2 1068.6h0M1808.4 1123.9h0M1772.0 1126.7h0M1758.1 1138.4h0M1914.3 1122.1h0M1814.4 1138.5h0M1770.7 1080.8h0M1759.9 1078.7h0M1737.5 1136.6h0M1749.7 1129.7h0M1831.6 1134.8h0M1741.5 1122.9h0M1834.9 1141.5h0M1836.0 1098.9h0M1842.5 1059.3h0M1756.6 1135.8h0M1828.7 1105.9h0M1844.1 1140.6h0M1822.5 1141.9h0M1709.2 1114.4h0M1745.0 1118.7h0M1745.0 1133.6h0M1756.7 1127.2h0M1757.4 1123.2h0M1821.6 1122.7h0M1768.2 1126.1h0M1817.3 1112.0h0M1741.6 1137.2h0M1755.9 1111.0h0M1732.4 1131.5h0M1748.2 1019.9h0M1769.3 1069.4h0M1813.8 1116.1h0M1736.3 1138.9h0M1766.3 1090.5h0M1823.6 1125.5h0M1828.6 1119.4h0M1754.5 1118.8h0M1735.0 1140.9h0M1766.7 1130.3h0M1808.5 1135.7h0M1813.6 1130.4h0M1748.0 1094.6h0M1753.3 1109.1h0M1770.2 1066.0h0M1732.6 1098.0h0M1764.6 1129.2h0M1772.5 1082.0h0M1732.6 1134.4h0M1763.4 1132.2h0M1801.9 1102.0h0M1764.3 1094.8h0M1837.4 1136.9h0M1738.5 1139.1h0M1844.0 1142.0h0M1806.6 1122.0h0M1737.7 1131.3h0M1761.2 1099.3h0M1817.0 1123.8h0M1833.6 1139.2h0M1754.0 1116.7h0M1754.9 1134.6h0M1805.6 1101.5h0M1839.0 1141.6h0M1829.1 1114.9h0M1730.5 1139.2h0M1800.4 1107.6h0M1768.2 1097.7h0M1733.8 1140.7h0M1758.6 1115.2h0M1802.8 1104.8h0M1830.7 1127.4h0M1703.2 1006.5h0M1764.8 1102.4h0M1768.6 1118.5h0M1749.3 1129.6h0M1730.7 1138.4h0M1773.1 1096.1h0M1804.6 1101.3h0M1805.7 1095.6h0M1803.3 1131.9h0M1735.7 1133.3h0M1827.8 1141.9h0M1745.4 1129.9h0M1751.9 1131.5h0M1767.9 1123.4h0M1825.1 1105.2h0M1855.3 1109.4h0M1851.7 1124.6h0M1824.0 1102.0h0M1801.9 1090.9h0M1750.9 1081.8h0M1713.4 1110.8h0M1762.3 1113.3h0M1825.4 1037.2h0M1770.3 1068.4h0M1742.6 1139.7h0M1743.7 1128.2h0M1758.3 1119.1h0M1801.4 1117.4h0M1800.9 1140.3h0M1813.6 1133.6h0M1823.4 1133.0h0M1844.5 1115.1h0M1884.9 1138.8h0M1806.5 1099.9h0M1835.2 1131.4h0M1760.0 1099.5h0" stroke="#EE0000" stroke-opacity="0.5" stroke-width="5.8" stroke-linecap="round" fill="none"/>
<path d="M1803.3 1103.3h0M1742.0 1126.2h0M1749.7 1091.0h0M1757.0 1106.2h0M1758.9 1126.2h0M1829.4 1118.3h0M1824.4 1102.1h0M1805.3 1108.3h0M1754.0 1133.6h0M1807.7 1117.4h0M1748.1 1111.7h0M1822.1 1138.5h0M1756.4 1126.8h0M1835.8 1118.5h0M1815.6 1137.9h0M1833.3 1138.6h0M1811.6 1113.1h0M1767.0 1118.7h0M1755.9 1108.5h0M1800.4 1070.7h0M1839.0 1141.9h0M1814.6 1110.3h0M1812.5 1010.3h0M1767.6 1068.2h0M1869.2 1109.4h0M1803.2 1087.1h0M1729.2 1136.7h0M1752.5 1086.3h0M1800.7 1127.1h0M1805.5 1068.5h0M1808.3 1118.5h0M1809.5 1099.6h0M1812.8 1064.2h0M1852.5 1139.7h0M1753.1 1093.0h0M1837.2 1139.7h0M1769.6 1074.8h0M1839.2 1134.4h0M1809.0 1099.9h0M1857.6 1072.8h0M1860.8 1136.5h0M1763.1 1100.0h0M1772.9 1068.5h0M1842.7 1140.6h0M1825.8 1130.3h0M1801.7 1124.5h0M1837.2 1138.0h0M1800.8 1112.1h0M1766.5 1126.2h0M1762.5 1089.7h0M1750.4 1051.7h0M1804.6 1130.0h0M1812.7 1102.9h0M1737.3 1134.9h0M1742.9 1117.5h0M1819.9 1114.2h0M1735.7 1138.3h0M1842.0 1122.1h0M1825.2 1131.4h0M1771.7 1130.2h0M1804.0 1104.1h0M1671.0 1025.7h0M1739.6 1138.3h0M1728.9 1136.7h0M1819.5 1119.5h0M1800.1 1122.2h0M1836.4 1138.2h0M1760.3 1139.6h0M1760.1 1125.0h0M1762.8 1111.8h0M1845.3 1114.4h0M1841.9 1135.9h0M1818.2 1134.2h0M1757.0 1092.5h0M1754.2 1131.3h0M1805.6 1128.8h0M1737.2 1139.3h0M1726.2 1134.1h0M1736.2 1130.1h0M1735.2 1091.9h0M1804.1 1121.2h0M1770.7 1075.8h0M1762.7 1134.9h0M1821.8 1115.3h0M1755.4 1124.6h0M1817.7 1129.3h0M1844.7 1139.3h0M1725.1 1137.9h0M1767.8 1138.1h0M1767.0 1120.8h0M1872.3 1140.8h0M1753.2 1136.9h0M1736.0 1105.2h0M1730.7 1130.5h0M1825.3 1138.1h0M1823.1 1093.2h0M1749.5 1108.8h0M1756.5 1111.5h0M1804.3 1140.8h0M1766.3 1123.7h0M1844.0 1140.5h0M1762.5 1101.9h0M1764.9 1078.5h0M1758.1 1093.5h0M1814.1 1120.5h0M1842.5 1137.2h0M1822.0 1116.7h0M1805.6 1115.7h0M1745.9 1119.5h0M1884.1 1140.1h0M1818.4 1119.5h0M1814.8 1090.4h0M1816.2 1135.6h0M1755.4 1072.4h0M1813.8 1104.4h0M1824.7 1130.7h0M1827.1 1122.5h0M1815.5 1114.5h0M1872.3 1135.7h0M1771.5 1121.6h0M1758.7 1099.7h0M1737.6 1124.4h0M1839.7 1135.5h0M1840.8 1135.2h0M1739.7 1135.5h0M1833.7 1130.6h0M1837.9 1140.5h0M1844.3 1138.9h0M1805.0 1088.0h0M1808.9 1101.4h0M1815.0 1120.9h0M1768.7 1049.6h0M1827.7 1141.2h0M1733.8 1092.0h0M1840.6 1134.1h0M1821.0 1107.1h0M1813.2 1122.7h0M1748.7 1137.4h0M1821.6 1123.7h0M1757.0 1119.7h0M1737.2 1083.5h0M1807.6 1062.8h0M1844.2 1141.9h0M1735.5 1128.0h0M1840.0 1137.0h0M1733.7 1133.9h0M1765.7 1113.3h0M1746.7 1136.7h0M1837.7 1129.9h0M1733.2 995.9h0M1840.0 1136.6h0M1821.3 1103.6h0M1763.6 1136.8h0M1751.5 1087.0h0M1837.6 1139.0h0M1755.0 1141.0h0M1806.2 1125.4h0M1900.4 1114.1h0M1870.9 1139.9h0M1802.7 1073.9h0M1838.3 1130.2h0M1733.8 1140.1h0M1816.6 1102.3h0M1802.9 1110.1h0M1750.7 1139.6h0M1755.9 1104.3h0M1759.9 1072.2h0M1823.5 1131.3h0M1824.2 1133.9h0M1756.9 1120.8h0M1766.2 1098.3h0M1747.9 1129.8h0M1738.5 1134.5h0M1810.4 1100.6h0M1761.8 1094.2h0M1800.2 1115.1h0M1735.2 1141.0h0M1812.1 1136.6h0M1826.3 1137.0h0M1891.8 1137.8h0M1815.9 1081.9h0M1727.9 1139.5h0M1731.1 1137.1h0M1807.9 1116.1h0M1756.9 1069.5h0M1752.4 1111.8h0M1816.7 1131.4h0M1832.4 1136.3h0M1758.2 1123.9h0M1723.5 1109.1h0M1804.3 1121.8h0M1801.6 1137.2h0M1746.0 1107.1h0M1812.6 1104.6h0M1739.9 1129.4h0M1768.2 1114.2h0M1808.8 1120.8h0M1750.5 1126.1h0M1863.4 1122.6h0M1764.3 1080.9h0M1769.5 1116.0h0M1810.7 1082.1h0M1853.8 1140.5h0M1819.1 1137.2h0M1847.8 1095.1h0M1823.2 1123.0h0M1766.8 1081.8h0M1742.6 1130.7h0M1805.0 1131.9h0M1765.3 1114.9h0M1808.5 1140.6h0M1806.4 1126.8h0M1763.7 1141.9h0M1730.8 1134.4h0M1814.2 1136.5h0M1738.2 1135.2h0M1742.0 1140.8h0M1771.0 1129.1h0M1765.6 1119.0h0M1695.5 1137.7h0M1808.5 1077.9h0M1813.7 1120.7h0M1828.8 1094.6h0M1803.1 1129.2h0M1736.4 1117.2h0M1815.5 1104.2h0M1762.1 1123.1h0M1840.7 1135.1h0M1740.5 1126.7h0M1803.4 1108.4h0M1833.5 1090.8h0M1726.4 1135.6h0M1690.3 1114.1h0M1770.8 1139.4h0M1821.4 1096.8h0M1810.7 1137.3h0M1769.6 1053.2h0M1765.6 1140.8h0M1838.3 1141.2h0M1770.7 1122.8h0M1824.8 1121.3h0M1739.5 1128.5h0M1803.4 1114.5h0M1803.2 1120.2h0M1849.8 1139.9h0M1770.5 1101.3h0M1763.1 1127.8h0M1826.9 1131.0h0M1732.6 1129.8h0M1828.0 1110.8h0M1823.7 1135.9h0M1906.9 1118.0h0M1806.3 1098.1h0M1743.4 1120.3h0M1757.4 1074.1h0M1749.6 1133.7h0M1757.9 1133.8h0M1752.0 1114.8h0M1845.0 1141.7h0M1742.7 1111.9h0M1721.0 1102.9h0M1822.6 1128.4h0M1742.0 1140.7h0M1833.7 1134.8h0M1743.5 1120.3h0M1738.7 1115.4h0M1749.9 1120.0h0M1812.6 1073.8h0M1767.1 1066.7h0M1806.8 1092.9h0M1743.6 1141.0h0M1814.7 1099.4h0M1880.8 1139.5h0M1751.8 1087.0h0M1813.1 1113.3h0M1770.3 1092.3h0M1836.4 1140.3h0M1829.6 1118.0h0M1770.1 1141.5h0M1738.1 1122.5h0M1840.9 1134.1h0M1830.7 1129.3h0M1770.5 1059.7h0M1762.6 1112.4h0M1805.3 1132.6h0M1801.2 1119.7h0M1818.6 1129.4h0M1818.7 1107.8h0M1823.0 1127.2h0M1770.1 1080.2h0M1833.7 1135.0h0M1751.1 1141.5h0M1748.5 1141.8h0M1889.7 1122.2h0M1745.6 1124.6h0M1838.0 1139.3h0M1838.3 1058.4h0M1769.6 1079.0h0M1734.3 1027.6h0M1817.4 1104.9h0M1743.2 1140.1h0M1742.6 1127.0h0M1749.5 1115.2h0M1825.8 1084.5h0M1812.6 1135.4h0M1799.8 1101.2h0M1759.7 1093.0h0M1835.1 1139.5h0M1770.6 1140.2h0M1752.8 1141.2h0M1760.0 1016.1h0M1824.5 1118.1h0M1747.9 1108.9h0M1799.8 1103.2h0M1730.5 1141.3h0M1716.9 1102.4h0M1941.2 1046.8h0M1736.5 1128.9h0" stroke="#EE0000" stroke-opacity="0.5" stroke-width="5.8" stroke-linecap="round" fill="none"/>
<line x1="1774.0" y1="824.7" x2="1774.0" y2="1172.5" stroke="#333" stroke-width="1.1" stroke-dasharray="4.2 2.6"/>
<line x1="1799.3" y1="824.7" x2="1799.3" y2="1172.5" stroke="#333" stroke-width="1.1" stroke-dasharray="4.2 2.6"/>
<line x1="1613.3" y1="1143.9" x2="2008.0" y2="1143.9" stroke="#444" stroke-width="1.1" stroke-dasharray="4.2 2.6"/>
<line x1="1613.3" y1="824.7" x2="1613.3" y2="1172.5" stroke="#222" stroke-width="1.4"/>
<line x1="1613.3" y1="1172.5" x2="2005.2" y2="1172.5" stroke="#222" stroke-width="1.4"/>
<line x1="1605.8" y1="868.2" x2="1613.3" y2="868.2" stroke="#222" stroke-width="1.4"/>
<text x="1596.0" y="875.8" font-size="22.00" text-anchor="end" stroke="#111" stroke-width="0.35" textLength="26.0" lengthAdjust="spacingAndGlyphs">30</text>
<line x1="1605.8" y1="964.3" x2="1613.3" y2="964.3" stroke="#222" stroke-width="1.4"/>
<text x="1596.0" y="971.9" font-size="22.00" text-anchor="end" stroke="#111" stroke-width="0.35" textLength="26.0" lengthAdjust="spacingAndGlyphs">20</text>
<line x1="1605.8" y1="1060.6" x2="1613.3" y2="1060.6" stroke="#222" stroke-width="1.4"/>
<text x="1596.0" y="1068.2" font-size="22.00" text-anchor="end" stroke="#111" stroke-width="0.35" textLength="26.0" lengthAdjust="spacingAndGlyphs">10</text>
<line x1="1605.8" y1="1156.4" x2="1613.3" y2="1156.4" stroke="#222" stroke-width="1.4"/>
<text x="1596.0" y="1164.0" font-size="22.00" text-anchor="end" stroke="#111" stroke-width="0.35" textLength="13.0" lengthAdjust="spacingAndGlyphs">0</text>
<line x1="1679.6" y1="1172.5" x2="1679.6" y2="1180.0" stroke="#222" stroke-width="1.4"/>
<text x="1679.6" y="1211.0" font-size="22.00" text-anchor="middle" stroke="#111" stroke-width="0.35" textLength="24.8" lengthAdjust="spacingAndGlyphs">−5</text>
<line x1="1786.8" y1="1172.5" x2="1786.8" y2="1180.0" stroke="#222" stroke-width="1.4"/>
<text x="1786.8" y="1211.0" font-size="22.00" text-anchor="middle" stroke="#111" stroke-width="0.35" textLength="13.0" lengthAdjust="spacingAndGlyphs">0</text>
<line x1="1893.9" y1="1172.5" x2="1893.9" y2="1180.0" stroke="#222" stroke-width="1.4"/>
<text x="1893.9" y="1211.0" font-size="22.00" text-anchor="middle" stroke="#111" stroke-width="0.35" textLength="13.0" lengthAdjust="spacingAndGlyphs">5</text>
<line x1="2001.9" y1="1172.5" x2="2001.9" y2="1180.0" stroke="#222" stroke-width="1.4"/>
<text x="2001.9" y="1211.0" font-size="22.00" text-anchor="middle" stroke="#111" stroke-width="0.35" textLength="26.0" lengthAdjust="spacingAndGlyphs">10</text>
<text x="1763.2" y="1248.0" font-size="25.50" stroke="#111" stroke-width="0.35" textLength="93.5" lengthAdjust="spacingAndGlyphs">log<tspan dy="7.1" font-size="18.4">2</tspan><tspan dy="-7.1">​</tspan>(FC)</text>
<text x="1541.0" y="998.8" font-size="25.50" text-anchor="middle" stroke="#111" stroke-width="0.35" transform="rotate(-90.00 1541.0 998.8)" textLength="98.5" lengthAdjust="spacingAndGlyphs">–log<tspan dy="7.1" font-size="18.4">10</tspan><tspan dy="-7.1">​</tspan>(<tspan font-style="italic">P</tspan>)</text>
<text x="1875.3" y="866.9" font-size="21.70" stroke="#111" stroke-width="0.35" textLength="111.1" lengthAdjust="spacingAndGlyphs">DEGs 1,026</text>
<text x="1875.3" y="898.5" font-size="21.70" stroke="#111" stroke-width="0.35" textLength="65.8" lengthAdjust="spacingAndGlyphs">Up 520</text>
<text x="1875.3" y="928.2" font-size="21.70" stroke="#111" stroke-width="0.35" textLength="91.8" lengthAdjust="spacingAndGlyphs">Down 506</text>
<circle cx="733.9" cy="1287.1" r="4.8" fill="#9A9A9A"/>
<circle cx="821.2" cy="1287.1" r="4.8" fill="#86C44A"/>
<circle cx="949.4" cy="1287.1" r="4.8" fill="#9DAEE3"/>
<circle cx="1082" cy="1287.1" r="4.8" fill="#D9711E"/>
<text x="751.3" y="1294.5" font-size="22.00" stroke="#111" stroke-width="0.35" textLength="27.0" lengthAdjust="spacingAndGlyphs">NS</text>
<text x="839.2" y="1294.0" font-size="22.00" stroke="#111" stroke-width="0.35" textLength="79.7" lengthAdjust="spacingAndGlyphs">log<tspan dy="6.2" font-size="15.8">2</tspan><tspan dy="-6.2">​</tspan>(FC)</text>
<text x="967.7" y="1294.0" font-size="22.00" stroke="#111" stroke-width="0.35" textLength="70.0" lengthAdjust="spacingAndGlyphs"><tspan font-style="italic">P</tspan> value</text>
<text x="1100.7" y="1294.0" font-size="22.00" stroke="#111" stroke-width="0.35" textLength="200.9" lengthAdjust="spacingAndGlyphs"><tspan font-style="italic">P</tspan> value and log<tspan dy="6.2" font-size="15.8">2</tspan><tspan dy="-6.2">​</tspan>(FC)</text>
<text x="-0.5" y="1363.8" font-size="38.00" fill="#000" font-weight="bold" stroke="#000" stroke-width="0.9">g</text>
<rect x="29" y="1431.2" width="22.2" height="21.6" fill="#BF70F5"/>
<text x="60.9" y="1448.5" font-size="21.70" stroke="#111" stroke-width="0.35" textLength="389.6" lengthAdjust="spacingAndGlyphs">B-postPEA_septum versus B-prePEA_RV</text>
<rect x="29" y="1464.2" width="22.2" height="21.6" fill="#0A9B48"/>
<text x="60.9" y="1481.0" font-size="21.70" stroke="#111" stroke-width="0.35" textLength="428.3" lengthAdjust="spacingAndGlyphs">B-postPEAm_septum versus B-prePEAm_RV</text>
<rect x="29" y="1496.9" width="22.2" height="21.6" fill="#D8E021"/>
<text x="60.9" y="1514.0" font-size="21.70" stroke="#111" stroke-width="0.35" textLength="399.9" lengthAdjust="spacingAndGlyphs">B-postPEAi_septum versus B-prePEAi_RV</text>
<rect x="29" y="1530" width="22.2" height="21.6" fill="#E8202A"/>
<text x="60.9" y="1546.5" font-size="21.70" stroke="#111" stroke-width="0.35" textLength="409.9" lengthAdjust="spacingAndGlyphs">B-postPEAs_septum versus B-prePEAs_RV</text>
<path d="M87.2 1794.1 L184.8 1891.9 A81.4 81.4 0 0 0 300.0 1776.9 L202.4 1679.1 A81.4 81.4 0 0 0 87.2 1794.1Z" fill="#01A951" fill-opacity="0.5" stroke="#01A951" stroke-opacity="0.5" stroke-width="1"/>
<path d="M135.7 1745.5 L233.4 1843.1 A81.4 81.4 0 0 0 348.4 1727.9 L250.7 1630.3 A81.4 81.4 0 0 0 135.7 1745.5Z" fill="#FFEB00" fill-opacity="0.5" stroke="#FFEB00" stroke-opacity="0.5" stroke-width="1"/>
<path d="M234.1 1630.3 L136.4 1727.9 A81.4 81.4 0 0 0 251.4 1843.1 L349.1 1745.5 A81.4 81.4 0 0 0 234.1 1630.3Z" fill="#EB1923" fill-opacity="0.5" stroke="#EB1923" stroke-opacity="0.5" stroke-width="1"/>
<path d="M282.4 1679.1 L184.8 1776.9 A81.4 81.4 0 0 0 300.0 1891.9 L397.6 1794.1 A81.4 81.4 0 0 0 282.4 1679.1Z" fill="#8141A1" fill-opacity="0.5" stroke="#8141A1" stroke-opacity="0.5" stroke-width="1"/>
<text x="180.3" y="1644.0" font-size="21.70" text-anchor="middle" stroke="#111" stroke-width="0.35">79</text>
<text x="304.5" y="1643.3" font-size="21.70" text-anchor="middle" stroke="#111" stroke-width="0.35">387</text>
<text x="139.6" y="1691.6" font-size="21.70" text-anchor="middle" stroke="#111" stroke-width="0.35">1</text>
<text x="241.9" y="1680.1" font-size="21.70" text-anchor="middle" stroke="#111" stroke-width="0.35">15</text>
<text x="344.8" y="1688.1" font-size="21.70" text-anchor="middle" stroke="#111" stroke-width="0.35">96</text>
<text x="84.4" y="1747.2" font-size="21.70" text-anchor="middle" stroke="#111" stroke-width="0.35">181</text>
<text x="187.2" y="1734.9" font-size="21.70" text-anchor="middle" stroke="#111" stroke-width="0.35">0</text>
<text x="300.4" y="1734.9" font-size="21.70" text-anchor="middle" stroke="#111" stroke-width="0.35">80</text>
<text x="390.6" y="1746.1" font-size="21.70" text-anchor="middle" stroke="#111" stroke-width="0.35">349</text>
<text x="138.5" y="1801.3" font-size="21.70" text-anchor="middle" stroke="#111" stroke-width="0.35">19</text>
<text x="244.1" y="1795.5" font-size="21.70" text-anchor="middle" stroke="#111" stroke-width="0.35">292</text>
<text x="345.8" y="1794.2" font-size="21.70" text-anchor="middle" stroke="#111" stroke-width="0.35">86</text>
<text x="184.4" y="1852.8" font-size="21.70" text-anchor="middle" stroke="#111" stroke-width="0.35">137</text>
<text x="288.9" y="1847.9" font-size="21.70" text-anchor="middle" stroke="#111" stroke-width="0.35">148</text>
<text x="247.4" y="1894.4" font-size="21.70" text-anchor="middle" stroke="#111" stroke-width="0.35">304</text>
<ellipse cx="190.8" cy="2053" rx="86.7" ry="73.9" fill="#01A55A" fill-opacity="0.5" stroke="#01A55A" stroke-opacity="0.45" stroke-width="1"/>
<ellipse cx="270.3" cy="2054" rx="86.7" ry="73.9" fill="#D3DB1F" fill-opacity="0.5" stroke="#D3DB1F" stroke-opacity="0.45" stroke-width="1"/>
<ellipse cx="229.8" cy="2117.6" rx="86.7" ry="73.9" fill="#EB1B25" fill-opacity="0.5" stroke="#EB1B25" stroke-opacity="0.45" stroke-width="1"/>
<text x="149.3" y="2040.9" font-size="21.20" text-anchor="middle" stroke="#111" stroke-width="0.35">485</text>
<text x="227.2" y="2030.5" font-size="21.20" text-anchor="middle" stroke="#111" stroke-width="0.35">149</text>
<text x="303.4" y="2040.0" font-size="21.20" text-anchor="middle" stroke="#111" stroke-width="0.35">165</text>
<text x="224.6" y="2079.9" font-size="21.20" text-anchor="middle" stroke="#111" stroke-width="0.35">292</text>
<text x="170.9" y="2113.6" font-size="21.20" text-anchor="middle" stroke="#111" stroke-width="0.35">156</text>
<text x="280.9" y="2111.0" font-size="21.20" text-anchor="middle" stroke="#111" stroke-width="0.35">95</text>
<text x="230.6" y="2157.8" font-size="21.20" text-anchor="middle" stroke="#111" stroke-width="0.35">483</text>
<text x="502.0" y="1364.0" font-size="38.00" fill="#000" font-weight="bold" stroke="#000" stroke-width="0.9">h</text>
<g shape-rendering="crispEdges"><rect x="843" y="1528.00" width="109.6" height="27.12" fill="#F68E24"/><rect x="952.6" y="1528.00" width="109.3" height="27.12" fill="#D95B0E"/><rect x="1061.9" y="1528.00" width="109.3" height="27.12" fill="#CB530B"/><rect x="1171.2" y="1528.00" width="110.1" height="27.12" fill="#B8470B"/><rect x="843" y="1555.12" width="109.6" height="27.12" fill="#E77718"/><rect x="952.6" y="1555.12" width="109.3" height="27.12" fill="#DF6712"/><rect x="1061.9" y="1555.12" width="109.3" height="27.12" fill="#AF3F07"/><rect x="1171.2" y="1555.12" width="110.1" height="27.12" fill="#9E3404"/><rect x="843" y="1582.25" width="109.6" height="27.12" fill="#EE8020"/><rect x="952.6" y="1582.25" width="109.3" height="27.12" fill="#DE6612"/><rect x="1061.9" y="1582.25" width="109.3" height="27.12" fill="#CA530C"/><rect x="1171.2" y="1582.25" width="110.1" height="27.12" fill="#9F3604"/><rect x="843" y="1609.38" width="109.6" height="27.12" fill="#FB9A2A"/><rect x="952.6" y="1609.38" width="109.3" height="27.12" fill="#DE6612"/><rect x="1061.9" y="1609.38" width="109.3" height="27.12" fill="#C44F0B"/><rect x="1171.2" y="1609.38" width="110.1" height="27.12" fill="#C9530C"/><rect x="843" y="1636.50" width="109.6" height="27.12" fill="#FDAA3A"/><rect x="952.6" y="1636.50" width="109.3" height="27.12" fill="#E9781B"/><rect x="1061.9" y="1636.50" width="109.3" height="27.12" fill="#C5500B"/><rect x="1171.2" y="1636.50" width="110.1" height="27.12" fill="#B0400A"/><rect x="843" y="1663.62" width="109.6" height="27.12" fill="#F48B24"/><rect x="952.6" y="1663.62" width="109.3" height="27.12" fill="#F08A22"/><rect x="1061.9" y="1663.62" width="109.3" height="27.12" fill="#BF4D0B"/><rect x="1171.2" y="1663.62" width="110.1" height="27.12" fill="#EE8323"/><rect x="843" y="1690.75" width="109.6" height="27.12" fill="#EC7E1F"/><rect x="952.6" y="1690.75" width="109.3" height="27.12" fill="#C5500B"/><rect x="1061.9" y="1690.75" width="109.3" height="27.12" fill="#CC570D"/><rect x="1171.2" y="1690.75" width="110.1" height="27.12" fill="#A0370A"/><rect x="843" y="1717.88" width="109.6" height="27.12" fill="#EC7E1F"/><rect x="952.6" y="1717.88" width="109.3" height="27.12" fill="#D85B0E"/><rect x="1061.9" y="1717.88" width="109.3" height="27.12" fill="#C5520B"/><rect x="1171.2" y="1717.88" width="110.1" height="27.12" fill="#AC3D07"/><rect x="843" y="1745.00" width="109.6" height="27.12" fill="#EB7B1C"/><rect x="952.6" y="1745.00" width="109.3" height="27.12" fill="#B0430A"/><rect x="1061.9" y="1745.00" width="109.3" height="27.12" fill="#B0430A"/><rect x="1171.2" y="1745.00" width="110.1" height="27.12" fill="#D65A10"/><rect x="843" y="1772.12" width="109.6" height="27.12" fill="#F08723"/><rect x="952.6" y="1772.12" width="109.3" height="27.12" fill="#C5510B"/><rect x="1061.9" y="1772.12" width="109.3" height="27.12" fill="#AC3D07"/><rect x="1171.2" y="1772.12" width="110.1" height="27.12" fill="#EE8323"/><rect x="843" y="1799.25" width="109.6" height="27.12" fill="#EC7E1F"/><rect x="952.6" y="1799.25" width="109.3" height="27.12" fill="#D35A0E"/><rect x="1061.9" y="1799.25" width="109.3" height="27.12" fill="#D75C0E"/><rect x="1171.2" y="1799.25" width="110.1" height="27.12" fill="#EE8323"/><rect x="843" y="1826.38" width="109.6" height="27.12" fill="#D2580D"/><rect x="952.6" y="1826.38" width="109.3" height="27.12" fill="#B04107"/><rect x="1061.9" y="1826.38" width="109.3" height="27.12" fill="#B4450A"/><rect x="1171.2" y="1826.38" width="110.1" height="27.12" fill="#B0430A"/><rect x="843" y="1853.50" width="109.6" height="27.12" fill="#FC9628"/><rect x="952.6" y="1853.50" width="109.3" height="27.12" fill="#B8470A"/><rect x="1061.9" y="1853.50" width="109.3" height="27.12" fill="#C24F0B"/><rect x="1171.2" y="1853.50" width="110.1" height="27.12" fill="#D05A0E"/><rect x="843" y="1880.62" width="109.6" height="27.12" fill="#FDA637"/><rect x="952.6" y="1880.62" width="109.3" height="27.12" fill="#D4590E"/><rect x="1061.9" y="1880.62" width="109.3" height="27.12" fill="#D4590E"/><rect x="1171.2" y="1880.62" width="110.1" height="27.12" fill="#B9480B"/><rect x="843" y="1907.75" width="109.6" height="27.12" fill="#FDA435"/><rect x="952.6" y="1907.75" width="109.3" height="27.12" fill="#CE580D"/><rect x="1061.9" y="1907.75" width="109.3" height="27.12" fill="#B8450A"/><rect x="1171.2" y="1907.75" width="110.1" height="27.12" fill="#D05A0E"/><rect x="843" y="1934.88" width="109.6" height="27.12" fill="#FED983"/><rect x="952.6" y="1934.88" width="109.3" height="27.12" fill="#C9530C"/><rect x="1061.9" y="1934.88" width="109.3" height="27.12" fill="#C9530C"/><rect x="1171.2" y="1934.88" width="110.1" height="27.12" fill="#C9530C"/><rect x="843" y="1962.00" width="109.6" height="27.12" fill="#FDBE4E"/><rect x="952.6" y="1962.00" width="109.3" height="27.12" fill="#E06A14"/><rect x="1061.9" y="1962.00" width="109.3" height="27.12" fill="#F08A22"/><rect x="1171.2" y="1962.00" width="110.1" height="27.12" fill="#E06A14"/><rect x="843" y="1989.12" width="109.6" height="27.12" fill="#FDBE4E"/><rect x="952.6" y="1989.12" width="109.3" height="27.12" fill="#FCA131"/><rect x="1061.9" y="1989.12" width="109.3" height="27.12" fill="#E6761A"/><rect x="1171.2" y="1989.12" width="110.1" height="27.12" fill="#C9530C"/><rect x="843" y="2016.25" width="109.6" height="27.12" fill="#E97A1C"/><rect x="952.6" y="2016.25" width="109.3" height="27.12" fill="#9A3205"/><rect x="1061.9" y="2016.25" width="109.3" height="27.12" fill="#9A3205"/><rect x="1171.2" y="2016.25" width="110.1" height="27.12" fill="#9E3505"/><rect x="843" y="2043.38" width="109.6" height="27.12" fill="#B5450A"/><rect x="952.6" y="2043.38" width="109.3" height="27.12" fill="#9A3205"/><rect x="1061.9" y="2043.38" width="109.3" height="27.12" fill="#9A3205"/><rect x="1171.2" y="2043.38" width="110.1" height="27.12" fill="#9A3205"/></g>
<line x1="1282.2" y1="1528.0" x2="1282.2" y2="2070.5" stroke="#F4B58A" stroke-width="1.2"/>
<text x="1291.8" y="1550.2" font-size="21.80" stroke="#111" stroke-width="0.35" textLength="600.9" lengthAdjust="spacingAndGlyphs">GO:0043068: positive regulation of programmed cell death</text>
<text x="1293.6" y="1577.4" font-size="21.80" stroke="#111" stroke-width="0.35" textLength="326.8" lengthAdjust="spacingAndGlyphs">GO:0098609: cell–cell adhesion</text>
<text x="1291.8" y="1604.7" font-size="21.80" stroke="#111" stroke-width="0.35" textLength="640.6" lengthAdjust="spacingAndGlyphs">GO:0007167: enzyme-linked receptor protein signaling pathway</text>
<text x="1291.8" y="1631.9" font-size="21.80" stroke="#111" stroke-width="0.35" textLength="433.4" lengthAdjust="spacingAndGlyphs">GO:0044057: regulation of system process</text>
<text x="1291.8" y="1659.2" font-size="21.80" stroke="#111" stroke-width="0.35" textLength="609.0" lengthAdjust="spacingAndGlyphs">GO:1904018: positive regulation of vasculature development</text>
<text x="1291.8" y="1686.4" font-size="21.80" stroke="#111" stroke-width="0.35" textLength="498.6" lengthAdjust="spacingAndGlyphs">GO:0098797: plasma membrane protein complex</text>
<text x="1291.8" y="1713.6" font-size="21.80" stroke="#111" stroke-width="0.35" textLength="358.0" lengthAdjust="spacingAndGlyphs">WP4172: PI3K Akt signaling pathway</text>
<text x="1291.8" y="1740.9" font-size="21.80" stroke="#111" stroke-width="0.35" textLength="425.0" lengthAdjust="spacingAndGlyphs">GO:0008283: cell population proliferation</text>
<text x="1291.8" y="1768.1" font-size="21.80" stroke="#111" stroke-width="0.35" textLength="517.3" lengthAdjust="spacingAndGlyphs">GO:0071345: cellular response to cytokine stimulus</text>
<text x="1291.8" y="1795.4" font-size="21.80" stroke="#111" stroke-width="0.35" textLength="407.0" lengthAdjust="spacingAndGlyphs">M5885: NABA MATRISOME ASSOCIATED</text>
<text x="1291.8" y="1822.6" font-size="21.80" stroke="#111" stroke-width="0.35" textLength="412.5" lengthAdjust="spacingAndGlyphs">GO:0003013: circulatory system process</text>
<text x="1291.8" y="1849.8" font-size="21.80" stroke="#111" stroke-width="0.35" textLength="407.0" lengthAdjust="spacingAndGlyphs">GO:0072001: renal system development</text>
<text x="1291.8" y="1877.1" font-size="21.80" stroke="#111" stroke-width="0.35" textLength="571.4" lengthAdjust="spacingAndGlyphs">GO:0051960: regulation of nervous system development</text>
<text x="1291.8" y="1904.3" font-size="21.80" stroke="#111" stroke-width="0.35" textLength="475.8" lengthAdjust="spacingAndGlyphs">GO:2000147: positive regulation of cell motility</text>
<text x="1291.8" y="1931.6" font-size="21.80" stroke="#111" stroke-width="0.35" textLength="347.0" lengthAdjust="spacingAndGlyphs">GO:0000902: cell morphogenesis</text>
<text x="1291.8" y="1958.8" font-size="21.80" stroke="#111" stroke-width="0.35" textLength="430.9" lengthAdjust="spacingAndGlyphs">GO:0001501: skeletal system development</text>
<text x="1293.6" y="1986.0" font-size="21.80" stroke="#111" stroke-width="0.35" textLength="256.1" lengthAdjust="spacingAndGlyphs">GO:0001503: ossification</text>
<text x="1291.8" y="2013.3" font-size="21.80" stroke="#111" stroke-width="0.35" textLength="437.1" lengthAdjust="spacingAndGlyphs">GO:0030029: actin filament-based process</text>
<text x="1291.8" y="2040.5" font-size="21.80" stroke="#111" stroke-width="0.35" textLength="465.5" lengthAdjust="spacingAndGlyphs">GO:0030312: external encapsulating structure</text>
<text x="1291.8" y="2067.8" font-size="21.80" stroke="#111" stroke-width="0.35" textLength="350.7" lengthAdjust="spacingAndGlyphs">GO:0035239: tube morphogenesis</text>
<path d="M898 1523.2 V1360 H1089.7 V1445.1" fill="none" stroke="#333" stroke-width="1.3"/>
<path d="M1007.1 1523.2 V1445.1 H1171.8 V1465.5" fill="none" stroke="#333" stroke-width="1.3"/>
<path d="M1116.7 1523.2 V1465.5 H1226.8 V1523.2" fill="none" stroke="#333" stroke-width="1.3"/>
<path d="M837.5 1541.6 V1595.8" fill="none" stroke="#333" stroke-width="1.3"/>
<path d="M837.5 1622.9 V1650.1" fill="none" stroke="#333" stroke-width="1.3"/>
<path d="M837.5 1704.3 V1758.6" fill="none" stroke="#333" stroke-width="1.3"/>
<path d="M837.5 1785.7 V1812.8" fill="none" stroke="#333" stroke-width="1.3"/>
<path d="M837.5 1867.1 V1921.3" fill="none" stroke="#333" stroke-width="1.3"/>
<path d="M756.9 1575.4 H837.5" fill="none" stroke="#333" stroke-width="1.3"/>
<path d="M756.9 1636.4 H837.5" fill="none" stroke="#333" stroke-width="1.3"/>
<path d="M756.9 1575.4 V1636.4" fill="none" stroke="#333" stroke-width="1.3"/>
<path d="M743.3 1606.3 H756.9" fill="none" stroke="#333" stroke-width="1.3"/>
<path d="M743.3 1677.2 H837.5" fill="none" stroke="#333" stroke-width="1.3"/>
<path d="M743.3 1606.3 V1677.2" fill="none" stroke="#333" stroke-width="1.3"/>
<path d="M726.3 1641.3 H743.3" fill="none" stroke="#333" stroke-width="1.3"/>
<path d="M756.9 1738.2 H837.5" fill="none" stroke="#333" stroke-width="1.3"/>
<path d="M756.9 1799.0 H837.5" fill="none" stroke="#333" stroke-width="1.3"/>
<path d="M756.9 1738.2 V1799.0" fill="none" stroke="#333" stroke-width="1.3"/>
<path d="M743.3 1768.6 H756.9" fill="none" stroke="#333" stroke-width="1.3"/>
<path d="M743.3 1839.9 H837.5" fill="none" stroke="#333" stroke-width="1.3"/>
<path d="M743.3 1768.6 V1839.9" fill="none" stroke="#333" stroke-width="1.3"/>
<path d="M726.3 1804.7 H743.3" fill="none" stroke="#333" stroke-width="1.3"/>
<path d="M726.3 1641.3 V1804.7" fill="none" stroke="#333" stroke-width="1.3"/>
<path d="M714.9 1723.0 H726.3" fill="none" stroke="#333" stroke-width="1.3"/>
<path d="M756.9 1900.5 H837.5" fill="none" stroke="#333" stroke-width="1.3"/>
<path d="M756.9 1948.4 H837.5" fill="none" stroke="#333" stroke-width="1.3"/>
<path d="M756.9 1900.5 V1948.4" fill="none" stroke="#333" stroke-width="1.3"/>
<path d="M714.9 1924.7 H756.9" fill="none" stroke="#333" stroke-width="1.3"/>
<path d="M714.9 1723.0 V1924.7" fill="none" stroke="#333" stroke-width="1.3"/>
<path d="M677 1823.9 H714.9" fill="none" stroke="#333" stroke-width="1.3"/>
<path d="M723 1975.6 H837.5" fill="none" stroke="#333" stroke-width="1.3"/>
<path d="M723 2002.7 H837.5" fill="none" stroke="#333" stroke-width="1.3"/>
<path d="M723 1975.6 V2002.7" fill="none" stroke="#333" stroke-width="1.3"/>
<path d="M677 1989.5 H723" fill="none" stroke="#333" stroke-width="1.3"/>
<path d="M677 1823.9 V1989.5" fill="none" stroke="#333" stroke-width="1.3"/>
<path d="M639.5 1906.7 H677" fill="none" stroke="#333" stroke-width="1.3"/>
<path d="M723 2029.8 H837.5" fill="none" stroke="#333" stroke-width="1.3"/>
<path d="M723 2056.9 H837.5" fill="none" stroke="#333" stroke-width="1.3"/>
<path d="M723 2029.8 V2056.9" fill="none" stroke="#333" stroke-width="1.3"/>
<path d="M639.5 2042.9 H723" fill="none" stroke="#333" stroke-width="1.3"/>
<path d="M639.5 1906.7 V2042.9" fill="none" stroke="#333" stroke-width="1.3"/>
<line x1="846.3" y1="2074.1" x2="947.5" y2="2074.6" stroke="#333" stroke-width="1.2"/>
<line x1="958.5" y1="2074.1" x2="1061.6" y2="2074.6" stroke="#333" stroke-width="1.2"/>
<line x1="1074.4" y1="2074.1" x2="1175.7" y2="2074.6" stroke="#333" stroke-width="1.2"/>
<line x1="1179.3" y1="2074.1" x2="1281.3" y2="2074.6" stroke="#333" stroke-width="1.2"/>
<line x1="893.0" y1="2074.1" x2="893.0" y2="2105.4" stroke="#333" stroke-width="1.2"/>
<line x1="1012.6" y1="2074.1" x2="1012.6" y2="2140.4" stroke="#333" stroke-width="1.2"/>
<line x1="1126.7" y1="2074.1" x2="1126.7" y2="2140.4" stroke="#333" stroke-width="1.2"/>
<line x1="1229.0" y1="2074.1" x2="1229.0" y2="2111.0" stroke="#333" stroke-width="1.2"/>
<text x="504.0" y="2139.0" font-size="21.40" stroke="#111" stroke-width="0.35" textLength="401.3" lengthAdjust="spacingAndGlyphs">B-postPEAi_septum versus B-prePEAi_RV</text>
<text x="590.4" y="2176.9" font-size="21.40" stroke="#111" stroke-width="0.35" textLength="427.3" lengthAdjust="spacingAndGlyphs">B-postPEAm_septum versus B-prePEAm_RV</text>
<text x="1224.8" y="2137.9" font-size="21.40" stroke="#111" stroke-width="0.35" textLength="409.1" lengthAdjust="spacingAndGlyphs">B-postPEAs_septum versus B-prePEAs_RV</text>
<text x="1122.9" y="2171.7" font-size="21.40" stroke="#111" stroke-width="0.35" textLength="389.6" lengthAdjust="spacingAndGlyphs">B-postPEA_septum versus B-prePEA_RV</text>
<rect x="1357.1" y="1398" width="338.7" height="32.9" fill="url(#gh)"/>
<line x1="1358.1" y1="1431.3" x2="1358.1" y2="1440.6" stroke="#222" stroke-width="1.5"/>
<text x="1358.1" y="1467.3" font-size="19.50" text-anchor="middle" stroke="#111" stroke-width="0.35" textLength="13.0" lengthAdjust="spacingAndGlyphs">0</text>
<line x1="1391.8" y1="1431.3" x2="1391.8" y2="1440.6" stroke="#222" stroke-width="1.5"/>
<text x="1391.8" y="1467.3" font-size="19.50" text-anchor="middle" stroke="#111" stroke-width="0.35" textLength="13.0" lengthAdjust="spacingAndGlyphs">2</text>
<line x1="1408.7" y1="1431.3" x2="1408.7" y2="1440.6" stroke="#222" stroke-width="1.5"/>
<text x="1408.7" y="1467.3" font-size="19.50" text-anchor="middle" stroke="#111" stroke-width="0.35" textLength="13.0" lengthAdjust="spacingAndGlyphs">3</text>
<line x1="1425.5" y1="1431.3" x2="1425.5" y2="1440.6" stroke="#222" stroke-width="1.5"/>
<text x="1425.5" y="1467.3" font-size="19.50" text-anchor="middle" stroke="#111" stroke-width="0.35" textLength="13.0" lengthAdjust="spacingAndGlyphs">4</text>
<line x1="1459.2" y1="1431.3" x2="1459.2" y2="1440.6" stroke="#222" stroke-width="1.5"/>
<text x="1459.2" y="1467.3" font-size="19.50" text-anchor="middle" stroke="#111" stroke-width="0.35" textLength="13.0" lengthAdjust="spacingAndGlyphs">6</text>
<line x1="1526.7" y1="1431.3" x2="1526.7" y2="1440.6" stroke="#222" stroke-width="1.5"/>
<text x="1526.7" y="1467.3" font-size="19.50" text-anchor="middle" stroke="#111" stroke-width="0.35" textLength="26.0" lengthAdjust="spacingAndGlyphs">10</text>
<line x1="1695.2" y1="1431.3" x2="1695.2" y2="1440.6" stroke="#222" stroke-width="1.5"/>
<text x="1695.2" y="1467.3" font-size="19.50" text-anchor="middle" stroke="#111" stroke-width="0.35" textLength="26.0" lengthAdjust="spacingAndGlyphs">20</text>
<text x="1470.7" y="1385.5" font-size="25.00" stroke="#111" stroke-width="0.35" textLength="99.6" lengthAdjust="spacingAndGlyphs">–log<tspan dy="7.0" font-size="18.0">10</tspan><tspan dy="-7.0">​</tspan>(<tspan font-style="italic">P</tspan>)</text></svg></body></html>
